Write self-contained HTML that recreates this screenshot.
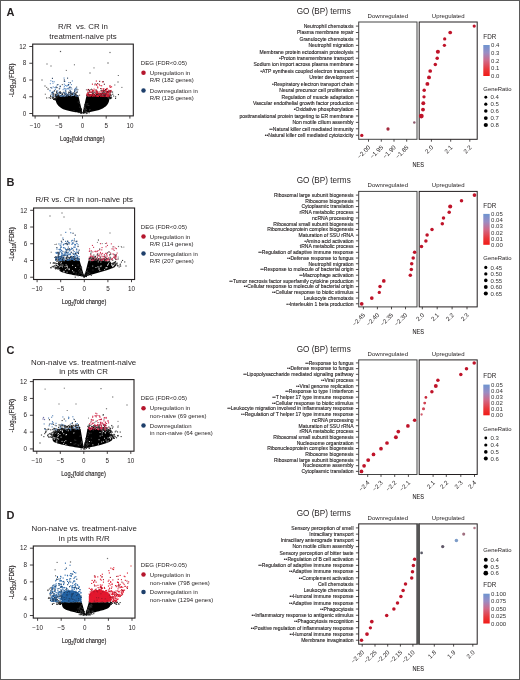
<!DOCTYPE html>
<html><head><meta charset="utf-8"><style>
html,body{margin:0;padding:0;background:#fff;}
body{width:520px;height:680px;overflow:hidden;}
svg{display:block;font-family:"Liberation Sans", sans-serif;will-change:transform;}
</style></head><body>
<svg width="520" height="680" viewBox="0 0 520 680">
<rect x="0" y="0" width="520" height="680" fill="#fff"/>
<text x="6.60" y="16.00" font-size="11.0" text-anchor="start" fill="#231f20" font-weight="bold">A</text>
<text x="83.00" y="28.50" font-size="7.9" text-anchor="middle" fill="#231f20" >R/R  vs. CR in</text>
<text x="83.00" y="38.70" font-size="7.9" text-anchor="middle" fill="#231f20" >treatment-naive pts</text>
<clipPath id="cA"><rect x="32.7" y="44.1" width="100.60000000000001" height="71.80000000000001"/></clipPath>
<g clip-path="url(#cA)">
<polygon fill="#000" points="78.50,96.30 78.37,96.29 78.10,96.28 77.70,96.25 77.17,96.22 76.51,96.18 75.71,96.14 74.78,96.08 73.72,96.02 72.66,95.97 71.62,95.93 70.58,95.90 69.55,95.88 68.52,95.87 67.51,95.87 66.50,95.89 65.50,95.91 64.55,95.95 63.64,96.00 62.78,96.06 61.97,96.14 61.20,96.22 60.48,96.33 59.81,96.44 59.19,96.56 58.62,96.71 58.10,96.88 57.64,97.08 57.23,97.30 56.88,97.54 56.59,97.80 56.34,98.09 56.16,98.41 56.01,98.74 55.90,99.10 55.83,99.48 55.80,99.89 55.80,100.32 55.85,100.77 55.94,101.25 56.06,101.75 56.22,102.24 56.41,102.73 56.62,103.20 56.88,103.67 57.16,104.13 57.47,104.59 57.81,105.03 58.19,105.47 58.59,105.90 59.01,106.31 59.45,106.72 59.92,107.11 60.41,107.49 60.93,107.86 61.47,108.23 62.03,108.57 62.65,108.91 63.32,109.23 64.05,109.53 64.83,109.82 65.66,110.09 66.55,110.35 67.50,110.59 68.50,110.81 69.54,111.04 70.62,111.26 71.73,111.48 72.89,111.70 74.09,111.91 75.32,112.13 76.59,112.34 77.91,112.56 79.05,112.74 80.04,112.90 80.86,113.03 81.52,113.14 82.01,113.22 82.34,113.27 82.50,113.30"/>
<polygon fill="#000" points="86.30,96.40 86.42,96.39 86.66,96.37 87.02,96.34 87.50,96.31 88.10,96.26 88.83,96.20 89.67,96.14 90.63,96.06 91.60,96.00 92.57,95.94 93.55,95.89 94.53,95.86 95.51,95.83 96.50,95.81 97.50,95.80 98.50,95.80 99.45,95.81 100.36,95.83 101.22,95.87 102.03,95.91 102.80,95.96 103.52,96.03 104.19,96.11 104.81,96.19 105.40,96.30 105.94,96.43 106.43,96.58 106.89,96.75 107.30,96.94 107.68,97.15 108.01,97.38 108.29,97.62 108.54,97.90 108.75,98.20 108.91,98.52 109.04,98.86 109.12,99.23 109.17,99.62 109.17,100.03 109.13,100.47 109.06,100.91 108.95,101.37 108.81,101.83 108.64,102.30 108.43,102.77 108.18,103.26 107.91,103.75 107.59,104.25 107.23,104.74 106.83,105.23 106.38,105.70 105.88,106.17 105.33,106.63 104.73,107.09 104.09,107.53 103.41,107.97 102.66,108.39 101.87,108.79 101.02,109.17 100.11,109.53 99.15,109.88 98.13,110.20 97.06,110.51 95.94,110.79 94.80,111.07 93.66,111.33 92.52,111.58 91.36,111.82 90.20,112.04 89.02,112.26 87.84,112.46 86.66,112.64 85.62,112.81 84.73,112.95 83.98,113.07 83.39,113.16 82.95,113.23 82.65,113.28 82.50,113.30"/>
<rect x="60.4" y="95.0" width="1.1" height="1.1" fill="#111"/>
<rect x="58.8" y="94.8" width="1.1" height="1.1" fill="#111"/>
<rect x="70.8" y="92.9" width="1.1" height="1.1" fill="#333"/>
<rect x="53.1" y="94.2" width="1.1" height="1.1" fill="#333"/>
<rect x="56.1" y="97.0" width="1.1" height="1.1" fill="#111"/>
<rect x="73.9" y="94.9" width="1.1" height="1.1" fill="#111"/>
<rect x="69.9" y="94.9" width="1.1" height="1.1" fill="#111"/>
<rect x="55.8" y="96.1" width="1.1" height="1.1" fill="#111"/>
<rect x="70.9" y="94.5" width="1.1" height="1.1" fill="#111"/>
<rect x="48.6" y="97.2" width="1.1" height="1.1" fill="#333"/>
<rect x="50.1" y="97.8" width="1.1" height="1.1" fill="#333"/>
<rect x="57.8" y="94.5" width="1.1" height="1.1" fill="#111"/>
<rect x="56.4" y="94.0" width="1.1" height="1.1" fill="#333"/>
<rect x="46.1" y="97.4" width="1.1" height="1.1" fill="#333"/>
<rect x="66.7" y="95.2" width="1.1" height="1.1" fill="#111"/>
<rect x="63.9" y="92.3" width="1.1" height="1.1" fill="#333"/>
<rect x="56.0" y="92.1" width="1.1" height="1.1" fill="#333"/>
<rect x="57.0" y="93.1" width="1.1" height="1.1" fill="#333"/>
<rect x="75.3" y="93.2" width="1.1" height="1.1" fill="#111"/>
<rect x="87.2" y="103.2" width="1.1" height="1.1" fill="#333"/>
<rect x="63.7" y="95.4" width="1.1" height="1.1" fill="#111"/>
<rect x="66.3" y="94.7" width="1.1" height="1.1" fill="#111"/>
<rect x="55.3" y="97.9" width="1.1" height="1.1" fill="#111"/>
<rect x="56.0" y="96.7" width="1.1" height="1.1" fill="#111"/>
<rect x="51.9" y="92.6" width="1.1" height="1.1" fill="#333"/>
<rect x="89.0" y="109.6" width="1.1" height="1.1" fill="#333"/>
<rect x="83.6" y="111.4" width="1.1" height="1.1" fill="#111"/>
<rect x="83.2" y="110.0" width="1.1" height="1.1" fill="#111"/>
<rect x="56.8" y="92.9" width="1.1" height="1.1" fill="#333"/>
<rect x="57.6" y="93.4" width="1.1" height="1.1" fill="#333"/>
<rect x="84.8" y="107.6" width="1.1" height="1.1" fill="#333"/>
<rect x="62.5" y="94.8" width="1.1" height="1.1" fill="#111"/>
<rect x="53.9" y="98.9" width="1.1" height="1.1" fill="#111"/>
<rect x="66.8" y="95.3" width="1.1" height="1.1" fill="#111"/>
<rect x="84.8" y="111.6" width="1.1" height="1.1" fill="#333"/>
<rect x="67.3" y="93.9" width="1.1" height="1.1" fill="#111"/>
<rect x="65.4" y="93.6" width="1.1" height="1.1" fill="#111"/>
<rect x="59.8" y="91.4" width="1.1" height="1.1" fill="#333"/>
<rect x="75.7" y="91.9" width="1.1" height="1.1" fill="#333"/>
<rect x="61.8" y="93.9" width="1.1" height="1.1" fill="#111"/>
<rect x="56.6" y="95.0" width="1.1" height="1.1" fill="#111"/>
<rect x="53.4" y="98.9" width="1.1" height="1.1" fill="#111"/>
<rect x="55.8" y="93.9" width="1.1" height="1.1" fill="#333"/>
<rect x="84.7" y="108.7" width="1.1" height="1.1" fill="#333"/>
<rect x="50.2" y="96.3" width="1.1" height="1.1" fill="#333"/>
<rect x="83.8" y="106.7" width="1.1" height="1.1" fill="#333"/>
<rect x="54.8" y="99.1" width="1.1" height="1.1" fill="#111"/>
<rect x="52.5" y="97.4" width="1.1" height="1.1" fill="#333"/>
<rect x="69.6" y="95.3" width="1.1" height="1.1" fill="#111"/>
<rect x="75.0" y="93.9" width="1.1" height="1.1" fill="#111"/>
<rect x="66.9" y="94.8" width="1.1" height="1.1" fill="#111"/>
<rect x="74.6" y="93.7" width="1.1" height="1.1" fill="#111"/>
<rect x="61.8" y="92.7" width="1.1" height="1.1" fill="#333"/>
<rect x="83.5" y="111.3" width="1.1" height="1.1" fill="#111"/>
<rect x="88.6" y="112.2" width="1.1" height="1.1" fill="#333"/>
<rect x="84.1" y="106.8" width="1.1" height="1.1" fill="#333"/>
<rect x="86.6" y="104.6" width="1.1" height="1.1" fill="#333"/>
<rect x="59.3" y="91.5" width="1.1" height="1.1" fill="#333"/>
<rect x="50.0" y="95.7" width="1.1" height="1.1" fill="#333"/>
<rect x="55.2" y="95.0" width="1.1" height="1.1" fill="#111"/>
<rect x="68.0" y="92.8" width="1.1" height="1.1" fill="#333"/>
<rect x="83.2" y="112.5" width="1.1" height="1.1" fill="#111"/>
<rect x="54.9" y="97.5" width="1.1" height="1.1" fill="#111"/>
<rect x="69.5" y="91.8" width="1.1" height="1.1" fill="#333"/>
<rect x="54.6" y="95.7" width="1.1" height="1.1" fill="#111"/>
<rect x="53.1" y="97.1" width="1.1" height="1.1" fill="#333"/>
<rect x="85.7" y="113.0" width="1.1" height="1.1" fill="#333"/>
<rect x="51.9" y="96.7" width="1.1" height="1.1" fill="#333"/>
<rect x="60.9" y="95.4" width="1.1" height="1.1" fill="#111"/>
<rect x="57.3" y="96.2" width="1.1" height="1.1" fill="#111"/>
<rect x="61.2" y="94.7" width="1.1" height="1.1" fill="#111"/>
<rect x="84.1" y="104.2" width="1.1" height="1.1" fill="#333"/>
<rect x="85.6" y="103.4" width="1.1" height="1.1" fill="#333"/>
<rect x="57.7" y="95.9" width="1.1" height="1.1" fill="#111"/>
<rect x="62.4" y="95.3" width="1.1" height="1.1" fill="#111"/>
<rect x="83.4" y="112.5" width="1.1" height="1.1" fill="#111"/>
<rect x="55.7" y="95.8" width="1.1" height="1.1" fill="#111"/>
<rect x="85.9" y="108.8" width="1.1" height="1.1" fill="#333"/>
<rect x="83.3" y="112.0" width="1.1" height="1.1" fill="#111"/>
<rect x="70.0" y="93.0" width="1.1" height="1.1" fill="#111"/>
<rect x="68.8" y="91.8" width="1.1" height="1.1" fill="#333"/>
<rect x="86.5" y="112.9" width="1.1" height="1.1" fill="#333"/>
<rect x="75.5" y="94.3" width="1.1" height="1.1" fill="#111"/>
<rect x="52.2" y="94.3" width="1.1" height="1.1" fill="#333"/>
<rect x="56.6" y="96.7" width="1.1" height="1.1" fill="#111"/>
<rect x="65.8" y="92.8" width="1.1" height="1.1" fill="#333"/>
<rect x="53.9" y="98.7" width="1.1" height="1.1" fill="#111"/>
<rect x="61.8" y="95.5" width="1.1" height="1.1" fill="#111"/>
<rect x="56.6" y="95.6" width="1.1" height="1.1" fill="#111"/>
<rect x="54.2" y="98.2" width="1.1" height="1.1" fill="#111"/>
<rect x="61.2" y="95.1" width="1.1" height="1.1" fill="#111"/>
<rect x="84.3" y="111.0" width="1.1" height="1.1" fill="#333"/>
<rect x="66.4" y="94.5" width="1.1" height="1.1" fill="#111"/>
<rect x="59.1" y="92.9" width="1.1" height="1.1" fill="#333"/>
<rect x="54.5" y="98.7" width="1.1" height="1.1" fill="#111"/>
<rect x="73.6" y="92.5" width="1.1" height="1.1" fill="#333"/>
<rect x="66.2" y="94.1" width="1.1" height="1.1" fill="#111"/>
<rect x="53.1" y="93.1" width="1.1" height="1.1" fill="#333"/>
<rect x="71.6" y="94.0" width="1.1" height="1.1" fill="#111"/>
<rect x="56.7" y="94.7" width="1.1" height="1.1" fill="#111"/>
<rect x="59.1" y="95.9" width="1.1" height="1.1" fill="#111"/>
<rect x="84.0" y="109.5" width="1.1" height="1.1" fill="#333"/>
<rect x="72.0" y="94.1" width="1.1" height="1.1" fill="#111"/>
<rect x="72.7" y="93.3" width="1.1" height="1.1" fill="#111"/>
<rect x="55.2" y="98.6" width="1.1" height="1.1" fill="#111"/>
<rect x="89.5" y="109.0" width="1.1" height="1.1" fill="#333"/>
<rect x="84.4" y="105.5" width="1.1" height="1.1" fill="#333"/>
<rect x="86.0" y="110.9" width="1.1" height="1.1" fill="#333"/>
<rect x="67.5" y="95.2" width="1.1" height="1.1" fill="#111"/>
<rect x="73.8" y="93.2" width="1.1" height="1.1" fill="#111"/>
<rect x="72.8" y="92.4" width="1.1" height="1.1" fill="#333"/>
<rect x="64.2" y="92.8" width="1.1" height="1.1" fill="#333"/>
<rect x="61.6" y="94.6" width="1.1" height="1.1" fill="#111"/>
<rect x="72.5" y="93.3" width="1.1" height="1.1" fill="#111"/>
<rect x="55.2" y="99.3" width="1.1" height="1.1" fill="#111"/>
<rect x="59.1" y="91.9" width="1.1" height="1.1" fill="#333"/>
<rect x="68.6" y="94.1" width="1.1" height="1.1" fill="#111"/>
<rect x="58.0" y="95.6" width="1.1" height="1.1" fill="#111"/>
<rect x="84.1" y="111.3" width="1.1" height="1.1" fill="#111"/>
<rect x="52.4" y="97.5" width="1.1" height="1.1" fill="#333"/>
<rect x="63.0" y="91.8" width="1.1" height="1.1" fill="#333"/>
<rect x="71.9" y="92.7" width="1.1" height="1.1" fill="#333"/>
<rect x="64.9" y="92.6" width="1.1" height="1.1" fill="#333"/>
<rect x="57.3" y="96.3" width="1.1" height="1.1" fill="#111"/>
<rect x="88.2" y="104.9" width="1.1" height="1.1" fill="#333"/>
<rect x="54.9" y="93.8" width="1.1" height="1.1" fill="#333"/>
<rect x="77.3" y="95.1" width="1.1" height="1.1" fill="#111"/>
<rect x="76.2" y="95.3" width="1.1" height="1.1" fill="#111"/>
<rect x="70.3" y="94.2" width="1.1" height="1.1" fill="#111"/>
<rect x="54.7" y="94.4" width="1.1" height="1.1" fill="#333"/>
<rect x="52.4" y="97.8" width="1.1" height="1.1" fill="#333"/>
<rect x="76.9" y="95.0" width="1.1" height="1.1" fill="#111"/>
<rect x="51.8" y="96.2" width="1.1" height="1.1" fill="#333"/>
<rect x="84.7" y="110.5" width="1.1" height="1.1" fill="#333"/>
<rect x="68.1" y="91.7" width="1.1" height="1.1" fill="#333"/>
<rect x="58.2" y="95.3" width="1.1" height="1.1" fill="#111"/>
<rect x="83.8" y="110.7" width="1.1" height="1.1" fill="#111"/>
<rect x="53.2" y="98.9" width="1.1" height="1.1" fill="#111"/>
<rect x="54.5" y="99.2" width="1.1" height="1.1" fill="#111"/>
<rect x="59.9" y="95.0" width="1.1" height="1.1" fill="#111"/>
<rect x="80.6" y="112.6" width="1.1" height="1.1" fill="#111"/>
<rect x="73.4" y="110.3" width="1.1" height="1.1" fill="#333"/>
<rect x="81.0" y="109.3" width="1.1" height="1.1" fill="#111"/>
<rect x="105.5" y="92.8" width="1.1" height="1.1" fill="#333"/>
<rect x="88.5" y="95.3" width="1.1" height="1.1" fill="#111"/>
<rect x="93.2" y="93.8" width="1.1" height="1.1" fill="#111"/>
<rect x="110.3" y="94.4" width="1.1" height="1.1" fill="#333"/>
<rect x="99.9" y="92.8" width="1.1" height="1.1" fill="#111"/>
<rect x="109.4" y="92.2" width="1.1" height="1.1" fill="#333"/>
<rect x="80.7" y="111.0" width="1.1" height="1.1" fill="#111"/>
<rect x="109.3" y="93.2" width="1.1" height="1.1" fill="#333"/>
<rect x="93.3" y="94.2" width="1.1" height="1.1" fill="#111"/>
<rect x="107.8" y="91.4" width="1.1" height="1.1" fill="#333"/>
<rect x="91.2" y="91.8" width="1.1" height="1.1" fill="#333"/>
<rect x="88.8" y="94.7" width="1.1" height="1.1" fill="#111"/>
<rect x="107.9" y="95.6" width="1.1" height="1.1" fill="#111"/>
<rect x="96.4" y="94.0" width="1.1" height="1.1" fill="#111"/>
<rect x="109.1" y="98.2" width="1.1" height="1.1" fill="#111"/>
<rect x="107.6" y="96.7" width="1.1" height="1.1" fill="#111"/>
<rect x="92.4" y="94.1" width="1.1" height="1.1" fill="#111"/>
<rect x="105.2" y="93.5" width="1.1" height="1.1" fill="#111"/>
<rect x="97.8" y="93.0" width="1.1" height="1.1" fill="#111"/>
<rect x="79.9" y="112.4" width="1.1" height="1.1" fill="#111"/>
<rect x="92.4" y="94.7" width="1.1" height="1.1" fill="#111"/>
<rect x="79.5" y="111.5" width="1.1" height="1.1" fill="#333"/>
<rect x="105.2" y="94.6" width="1.1" height="1.1" fill="#111"/>
<rect x="95.9" y="94.1" width="1.1" height="1.1" fill="#111"/>
<rect x="80.4" y="108.2" width="1.1" height="1.1" fill="#111"/>
<rect x="107.7" y="94.4" width="1.1" height="1.1" fill="#111"/>
<rect x="108.9" y="96.9" width="1.1" height="1.1" fill="#111"/>
<rect x="100.8" y="93.8" width="1.1" height="1.1" fill="#111"/>
<rect x="92.4" y="93.3" width="1.1" height="1.1" fill="#111"/>
<rect x="110.8" y="95.4" width="1.1" height="1.1" fill="#333"/>
<rect x="87.7" y="94.3" width="1.1" height="1.1" fill="#111"/>
<rect x="86.9" y="95.5" width="1.1" height="1.1" fill="#111"/>
<rect x="110.2" y="97.8" width="1.1" height="1.1" fill="#111"/>
<rect x="89.6" y="94.0" width="1.1" height="1.1" fill="#111"/>
<rect x="115.1" y="96.3" width="1.1" height="1.1" fill="#333"/>
<rect x="98.1" y="94.8" width="1.1" height="1.1" fill="#111"/>
<rect x="92.6" y="93.4" width="1.1" height="1.1" fill="#111"/>
<rect x="86.1" y="95.2" width="1.1" height="1.1" fill="#111"/>
<rect x="109.5" y="94.8" width="1.1" height="1.1" fill="#333"/>
<rect x="98.1" y="94.7" width="1.1" height="1.1" fill="#111"/>
<rect x="110.0" y="94.2" width="1.1" height="1.1" fill="#333"/>
<rect x="90.9" y="95.4" width="1.1" height="1.1" fill="#111"/>
<rect x="99.5" y="95.2" width="1.1" height="1.1" fill="#111"/>
<rect x="105.2" y="91.3" width="1.1" height="1.1" fill="#333"/>
<rect x="102.4" y="95.2" width="1.1" height="1.1" fill="#111"/>
<rect x="97.3" y="91.6" width="1.1" height="1.1" fill="#333"/>
<rect x="110.4" y="97.2" width="1.1" height="1.1" fill="#111"/>
<rect x="92.0" y="95.3" width="1.1" height="1.1" fill="#111"/>
<rect x="79.3" y="106.6" width="1.1" height="1.1" fill="#333"/>
<rect x="92.1" y="95.1" width="1.1" height="1.1" fill="#111"/>
<rect x="92.4" y="91.3" width="1.1" height="1.1" fill="#333"/>
<rect x="101.7" y="95.1" width="1.1" height="1.1" fill="#111"/>
<rect x="105.4" y="94.1" width="1.1" height="1.1" fill="#111"/>
<rect x="103.3" y="91.3" width="1.1" height="1.1" fill="#333"/>
<rect x="97.6" y="94.5" width="1.1" height="1.1" fill="#111"/>
<rect x="100.7" y="94.6" width="1.1" height="1.1" fill="#111"/>
<rect x="105.7" y="94.0" width="1.1" height="1.1" fill="#111"/>
<rect x="94.0" y="91.6" width="1.1" height="1.1" fill="#333"/>
<rect x="112.2" y="93.7" width="1.1" height="1.1" fill="#333"/>
<rect x="104.0" y="92.3" width="1.1" height="1.1" fill="#333"/>
<rect x="103.2" y="95.4" width="1.1" height="1.1" fill="#111"/>
<rect x="87.7" y="93.8" width="1.1" height="1.1" fill="#111"/>
<rect x="77.8" y="112.0" width="1.1" height="1.1" fill="#333"/>
<rect x="89.3" y="93.8" width="1.1" height="1.1" fill="#111"/>
<rect x="99.9" y="94.1" width="1.1" height="1.1" fill="#111"/>
<rect x="95.6" y="94.8" width="1.1" height="1.1" fill="#111"/>
<rect x="109.8" y="96.9" width="1.1" height="1.1" fill="#111"/>
<rect x="96.8" y="92.3" width="1.1" height="1.1" fill="#333"/>
<rect x="80.7" y="108.7" width="1.1" height="1.1" fill="#111"/>
<rect x="110.0" y="98.0" width="1.1" height="1.1" fill="#111"/>
<rect x="115.0" y="97.9" width="1.1" height="1.1" fill="#333"/>
<rect x="99.2" y="94.5" width="1.1" height="1.1" fill="#111"/>
<rect x="94.9" y="94.8" width="1.1" height="1.1" fill="#111"/>
<rect x="77.7" y="101.5" width="1.1" height="1.1" fill="#333"/>
<rect x="98.7" y="94.4" width="1.1" height="1.1" fill="#111"/>
<rect x="111.0" y="97.2" width="1.1" height="1.1" fill="#333"/>
<rect x="80.4" y="108.9" width="1.1" height="1.1" fill="#111"/>
<rect x="108.5" y="95.1" width="1.1" height="1.1" fill="#111"/>
<rect x="90.7" y="94.4" width="1.1" height="1.1" fill="#111"/>
<rect x="102.2" y="92.4" width="1.1" height="1.1" fill="#333"/>
<rect x="117.9" y="94.0" width="1.1" height="1.1" fill="#333"/>
<rect x="81.2" y="112.3" width="1.1" height="1.1" fill="#111"/>
<rect x="92.0" y="91.3" width="1.1" height="1.1" fill="#333"/>
<rect x="105.2" y="94.5" width="1.1" height="1.1" fill="#111"/>
<rect x="113.1" y="95.5" width="1.1" height="1.1" fill="#333"/>
<rect x="104.4" y="93.9" width="1.1" height="1.1" fill="#111"/>
<rect x="94.1" y="95.2" width="1.1" height="1.1" fill="#111"/>
<rect x="109.1" y="95.8" width="1.1" height="1.1" fill="#111"/>
<rect x="103.2" y="91.3" width="1.1" height="1.1" fill="#333"/>
<rect x="81.4" y="112.2" width="1.1" height="1.1" fill="#111"/>
<rect x="104.6" y="94.7" width="1.1" height="1.1" fill="#111"/>
<rect x="98.4" y="93.1" width="1.1" height="1.1" fill="#111"/>
<rect x="86.5" y="94.3" width="1.1" height="1.1" fill="#111"/>
<rect x="95.7" y="92.7" width="1.1" height="1.1" fill="#333"/>
<rect x="108.9" y="94.4" width="1.1" height="1.1" fill="#333"/>
<rect x="102.6" y="93.4" width="1.1" height="1.1" fill="#111"/>
<rect x="107.4" y="96.6" width="1.1" height="1.1" fill="#111"/>
<rect x="108.4" y="96.7" width="1.1" height="1.1" fill="#111"/>
<rect x="109.3" y="97.7" width="1.1" height="1.1" fill="#111"/>
<rect x="95.1" y="92.5" width="1.1" height="1.1" fill="#333"/>
<rect x="93.8" y="93.9" width="1.1" height="1.1" fill="#111"/>
<rect x="108.6" y="95.8" width="1.1" height="1.1" fill="#111"/>
<rect x="112.0" y="91.5" width="1.1" height="1.1" fill="#333"/>
<rect x="96.1" y="94.0" width="1.1" height="1.1" fill="#111"/>
<rect x="102.4" y="93.2" width="1.1" height="1.1" fill="#111"/>
<rect x="99.3" y="93.8" width="1.1" height="1.1" fill="#111"/>
<rect x="78.9" y="102.6" width="1.1" height="1.1" fill="#333"/>
<rect x="56.3" y="90.7" width="1.1" height="1.1" fill="#6592c6"/>
<rect x="67.9" y="84.8" width="1.1" height="1.1" fill="#6592c6"/>
<rect x="57.5" y="92.5" width="1.1" height="1.1" fill="#6592c6"/>
<rect x="59.7" y="85.5" width="1.1" height="1.1" fill="#6592c6"/>
<rect x="75.0" y="87.9" width="1.1" height="1.1" fill="#6592c6"/>
<rect x="56.5" y="84.6" width="1.1" height="1.1" fill="#6592c6"/>
<rect x="76.4" y="90.4" width="1.1" height="1.1" fill="#6592c6"/>
<rect x="56.5" y="94.4" width="1.1" height="1.1" fill="#6592c6"/>
<rect x="73.1" y="92.7" width="1.1" height="1.1" fill="#6592c6"/>
<rect x="73.8" y="93.6" width="1.1" height="1.1" fill="#6592c6"/>
<rect x="67.4" y="87.9" width="1.1" height="1.1" fill="#6592c6"/>
<rect x="50.7" y="93.7" width="1.1" height="1.1" fill="#6592c6"/>
<rect x="62.3" y="95.4" width="1.1" height="1.1" fill="#6592c6"/>
<rect x="64.8" y="89.9" width="1.1" height="1.1" fill="#6592c6"/>
<rect x="70.6" y="95.3" width="1.1" height="1.1" fill="#6592c6"/>
<rect x="71.5" y="94.8" width="1.1" height="1.1" fill="#6592c6"/>
<rect x="66.8" y="88.2" width="1.1" height="1.1" fill="#6592c6"/>
<rect x="50.3" y="80.2" width="1.1" height="1.1" fill="#6592c6"/>
<rect x="59.8" y="92.6" width="1.1" height="1.1" fill="#6592c6"/>
<rect x="63.8" y="83.7" width="1.1" height="1.1" fill="#6592c6"/>
<rect x="52.5" y="93.3" width="1.1" height="1.1" fill="#6592c6"/>
<rect x="59.4" y="87.5" width="1.1" height="1.1" fill="#6592c6"/>
<rect x="71.1" y="92.8" width="1.1" height="1.1" fill="#6592c6"/>
<rect x="52.2" y="95.5" width="1.1" height="1.1" fill="#6592c6"/>
<rect x="65.2" y="93.1" width="1.1" height="1.1" fill="#6592c6"/>
<rect x="63.7" y="91.8" width="1.1" height="1.1" fill="#6592c6"/>
<rect x="55.2" y="87.4" width="1.1" height="1.1" fill="#6592c6"/>
<rect x="66.1" y="85.5" width="1.1" height="1.1" fill="#6592c6"/>
<rect x="49.4" y="89.8" width="1.1" height="1.1" fill="#6592c6"/>
<rect x="67.7" y="84.8" width="1.1" height="1.1" fill="#6592c6"/>
<rect x="54.8" y="89.0" width="1.1" height="1.1" fill="#6592c6"/>
<rect x="51.3" y="92.3" width="1.1" height="1.1" fill="#6592c6"/>
<rect x="68.7" y="94.4" width="1.1" height="1.1" fill="#6592c6"/>
<rect x="64.3" y="80.8" width="1.1" height="1.1" fill="#6592c6"/>
<rect x="70.3" y="91.5" width="1.1" height="1.1" fill="#6592c6"/>
<rect x="62.6" y="89.1" width="1.1" height="1.1" fill="#6592c6"/>
<rect x="67.8" y="84.1" width="1.1" height="1.1" fill="#6592c6"/>
<rect x="64.4" y="95.1" width="1.1" height="1.1" fill="#6592c6"/>
<rect x="52.9" y="92.5" width="1.1" height="1.1" fill="#6592c6"/>
<rect x="55.3" y="86.6" width="1.1" height="1.1" fill="#6592c6"/>
<rect x="63.6" y="87.7" width="1.1" height="1.1" fill="#6592c6"/>
<rect x="66.4" y="93.9" width="1.1" height="1.1" fill="#6592c6"/>
<rect x="63.9" y="88.2" width="1.1" height="1.1" fill="#6592c6"/>
<rect x="59.2" y="94.9" width="1.1" height="1.1" fill="#6592c6"/>
<rect x="49.5" y="90.4" width="1.1" height="1.1" fill="#6592c6"/>
<rect x="52.1" y="80.9" width="1.1" height="1.1" fill="#6592c6"/>
<rect x="62.8" y="95.2" width="1.1" height="1.1" fill="#6592c6"/>
<rect x="64.9" y="84.9" width="1.1" height="1.1" fill="#6592c6"/>
<rect x="65.2" y="92.0" width="1.1" height="1.1" fill="#6592c6"/>
<rect x="69.5" y="86.2" width="1.1" height="1.1" fill="#6592c6"/>
<rect x="57.2" y="90.2" width="1.1" height="1.1" fill="#6592c6"/>
<rect x="74.2" y="89.8" width="1.1" height="1.1" fill="#6592c6"/>
<rect x="75.7" y="87.3" width="1.1" height="1.1" fill="#6592c6"/>
<rect x="56.9" y="93.9" width="1.1" height="1.1" fill="#6592c6"/>
<rect x="65.2" y="88.2" width="1.1" height="1.1" fill="#6592c6"/>
<rect x="61.4" y="95.3" width="1.1" height="1.1" fill="#6592c6"/>
<rect x="56.0" y="94.4" width="1.1" height="1.1" fill="#6592c6"/>
<rect x="61.6" y="94.9" width="1.1" height="1.1" fill="#6592c6"/>
<rect x="51.5" y="91.9" width="1.1" height="1.1" fill="#6592c6"/>
<rect x="76.4" y="88.5" width="1.1" height="1.1" fill="#6592c6"/>
<rect x="65.4" y="88.7" width="1.1" height="1.1" fill="#6592c6"/>
<rect x="49.8" y="83.1" width="1.1" height="1.1" fill="#6592c6"/>
<rect x="70.3" y="91.2" width="1.1" height="1.1" fill="#6592c6"/>
<rect x="64.3" y="95.9" width="1.1" height="1.1" fill="#6592c6"/>
<rect x="59.8" y="95.5" width="1.1" height="1.1" fill="#6592c6"/>
<rect x="74.2" y="88.7" width="1.1" height="1.1" fill="#6592c6"/>
<rect x="63.2" y="92.5" width="1.1" height="1.1" fill="#6592c6"/>
<rect x="65.6" y="93.5" width="1.1" height="1.1" fill="#6592c6"/>
<rect x="73.3" y="94.2" width="1.1" height="1.1" fill="#6592c6"/>
<rect x="77.0" y="95.9" width="1.1" height="1.1" fill="#6592c6"/>
<rect x="75.2" y="90.2" width="1.1" height="1.1" fill="#6592c6"/>
<rect x="51.2" y="87.7" width="1.1" height="1.1" fill="#6592c6"/>
<rect x="67.9" y="88.3" width="1.1" height="1.1" fill="#6592c6"/>
<rect x="63.5" y="77.5" width="1.1" height="1.1" fill="#6592c6"/>
<rect x="68.5" y="93.2" width="1.1" height="1.1" fill="#6592c6"/>
<rect x="71.3" y="88.5" width="1.1" height="1.1" fill="#6592c6"/>
<rect x="66.8" y="95.1" width="1.1" height="1.1" fill="#6592c6"/>
<rect x="74.1" y="91.4" width="1.1" height="1.1" fill="#6592c6"/>
<rect x="52.7" y="91.5" width="1.1" height="1.1" fill="#6592c6"/>
<rect x="53.6" y="81.2" width="1.1" height="1.1" fill="#6592c6"/>
<rect x="52.7" y="95.3" width="1.1" height="1.1" fill="#6592c6"/>
<rect x="52.7" y="86.4" width="1.1" height="1.1" fill="#6592c6"/>
<rect x="71.8" y="80.4" width="1.1" height="1.1" fill="#6592c6"/>
<rect x="69.4" y="88.6" width="1.1" height="1.1" fill="#6592c6"/>
<rect x="70.9" y="84.0" width="1.1" height="1.1" fill="#6592c6"/>
<rect x="70.3" y="93.3" width="1.1" height="1.1" fill="#6592c6"/>
<rect x="65.1" y="90.2" width="1.1" height="1.1" fill="#6592c6"/>
<rect x="67.2" y="93.9" width="1.1" height="1.1" fill="#6592c6"/>
<rect x="66.7" y="85.1" width="1.1" height="1.1" fill="#6592c6"/>
<rect x="52.3" y="91.5" width="1.1" height="1.1" fill="#6592c6"/>
<rect x="68.2" y="82.0" width="1.1" height="1.1" fill="#6592c6"/>
<rect x="69.1" y="86.7" width="1.1" height="1.1" fill="#6592c6"/>
<rect x="60.7" y="95.7" width="1.1" height="1.1" fill="#6592c6"/>
<rect x="54.3" y="87.0" width="1.1" height="1.1" fill="#6592c6"/>
<rect x="76.2" y="94.8" width="1.1" height="1.1" fill="#6592c6"/>
<rect x="73.0" y="94.7" width="1.1" height="1.1" fill="#6592c6"/>
<rect x="59.0" y="93.1" width="1.1" height="1.1" fill="#6592c6"/>
<rect x="57.6" y="92.0" width="1.1" height="1.1" fill="#6592c6"/>
<rect x="63.8" y="85.8" width="1.1" height="1.1" fill="#6592c6"/>
<rect x="52.4" y="82.7" width="1.1" height="1.1" fill="#6592c6"/>
<rect x="67.0" y="94.3" width="1.1" height="1.1" fill="#2a3f5e"/>
<rect x="51.9" y="77.8" width="1.1" height="1.1" fill="#2a3f5e"/>
<rect x="62.4" y="96.0" width="1.1" height="1.1" fill="#2a3f5e"/>
<rect x="56.2" y="91.1" width="1.1" height="1.1" fill="#2a3f5e"/>
<rect x="76.9" y="91.5" width="1.1" height="1.1" fill="#2a3f5e"/>
<rect x="76.5" y="95.5" width="1.1" height="1.1" fill="#2a3f5e"/>
<rect x="65.8" y="95.4" width="1.1" height="1.1" fill="#2a3f5e"/>
<rect x="67.8" y="94.8" width="1.1" height="1.1" fill="#2a3f5e"/>
<rect x="70.3" y="91.7" width="1.1" height="1.1" fill="#2a3f5e"/>
<rect x="71.2" y="93.3" width="1.1" height="1.1" fill="#2a3f5e"/>
<rect x="63.8" y="79.4" width="1.1" height="1.1" fill="#2a3f5e"/>
<rect x="60.0" y="92.7" width="1.1" height="1.1" fill="#2a3f5e"/>
<rect x="51.8" y="91.9" width="1.1" height="1.1" fill="#2a3f5e"/>
<rect x="53.0" y="95.5" width="1.1" height="1.1" fill="#2a3f5e"/>
<rect x="69.8" y="82.2" width="1.1" height="1.1" fill="#2a3f5e"/>
<rect x="59.7" y="85.9" width="1.1" height="1.1" fill="#2a3f5e"/>
<rect x="70.4" y="87.1" width="1.1" height="1.1" fill="#2a3f5e"/>
<rect x="68.7" y="87.2" width="1.1" height="1.1" fill="#2a3f5e"/>
<rect x="56.3" y="94.4" width="1.1" height="1.1" fill="#2a3f5e"/>
<rect x="76.1" y="95.6" width="1.1" height="1.1" fill="#2a3f5e"/>
<rect x="76.7" y="95.5" width="1.1" height="1.1" fill="#2a3f5e"/>
<rect x="50.4" y="87.0" width="1.1" height="1.1" fill="#2a3f5e"/>
<rect x="70.0" y="91.2" width="1.1" height="1.1" fill="#2a3f5e"/>
<rect x="54.9" y="96.0" width="1.1" height="1.1" fill="#2a3f5e"/>
<rect x="75.3" y="94.9" width="1.1" height="1.1" fill="#2a3f5e"/>
<rect x="63.8" y="80.8" width="1.1" height="1.1" fill="#2a3f5e"/>
<rect x="68.1" y="84.0" width="1.1" height="1.1" fill="#2a3f5e"/>
<rect x="74.7" y="94.6" width="1.1" height="1.1" fill="#2a3f5e"/>
<rect x="64.4" y="94.4" width="1.1" height="1.1" fill="#2a3f5e"/>
<rect x="74.1" y="89.5" width="1.1" height="1.1" fill="#2a3f5e"/>
<rect x="66.8" y="95.5" width="1.1" height="1.1" fill="#2a3f5e"/>
<rect x="53.6" y="90.7" width="1.1" height="1.1" fill="#2a3f5e"/>
<rect x="69.7" y="92.1" width="1.1" height="1.1" fill="#2a3f5e"/>
<rect x="60.5" y="92.5" width="1.1" height="1.1" fill="#2a3f5e"/>
<rect x="70.8" y="93.1" width="1.1" height="1.1" fill="#2a3f5e"/>
<rect x="64.5" y="93.9" width="1.1" height="1.1" fill="#2a3f5e"/>
<rect x="58.8" y="88.3" width="1.1" height="1.1" fill="#2a3f5e"/>
<rect x="75.5" y="88.7" width="1.1" height="1.1" fill="#2a3f5e"/>
<rect x="60.1" y="92.2" width="1.1" height="1.1" fill="#2a3f5e"/>
<rect x="65.3" y="90.7" width="1.1" height="1.1" fill="#2a3f5e"/>
<rect x="74.0" y="91.1" width="1.1" height="1.1" fill="#2a3f5e"/>
<rect x="57.3" y="84.0" width="1.1" height="1.1" fill="#2a3f5e"/>
<rect x="69.5" y="90.0" width="1.1" height="1.1" fill="#2a3f5e"/>
<rect x="55.8" y="86.6" width="1.1" height="1.1" fill="#2a3f5e"/>
<rect x="67.0" y="77.6" width="1.1" height="1.1" fill="#2a3f5e"/>
<rect x="109.2" y="85.5" width="1.1" height="1.1" fill="#d2182f"/>
<rect x="89.8" y="94.9" width="1.1" height="1.1" fill="#d2182f"/>
<rect x="95.4" y="95.7" width="1.1" height="1.1" fill="#d2182f"/>
<rect x="93.7" y="95.2" width="1.1" height="1.1" fill="#d2182f"/>
<rect x="87.3" y="94.5" width="1.1" height="1.1" fill="#d2182f"/>
<rect x="87.8" y="88.9" width="1.1" height="1.1" fill="#d2182f"/>
<rect x="109.6" y="85.5" width="1.1" height="1.1" fill="#d2182f"/>
<rect x="105.8" y="89.0" width="1.1" height="1.1" fill="#d2182f"/>
<rect x="91.9" y="90.6" width="1.1" height="1.1" fill="#d2182f"/>
<rect x="110.5" y="89.9" width="1.1" height="1.1" fill="#d2182f"/>
<rect x="89.1" y="90.7" width="1.1" height="1.1" fill="#d2182f"/>
<rect x="105.9" y="91.2" width="1.1" height="1.1" fill="#d2182f"/>
<rect x="103.4" y="95.8" width="1.1" height="1.1" fill="#d2182f"/>
<rect x="88.7" y="91.8" width="1.1" height="1.1" fill="#d2182f"/>
<rect x="102.7" y="90.5" width="1.1" height="1.1" fill="#d2182f"/>
<rect x="107.9" y="92.3" width="1.1" height="1.1" fill="#d2182f"/>
<rect x="108.4" y="96.0" width="1.1" height="1.1" fill="#d2182f"/>
<rect x="100.7" y="89.8" width="1.1" height="1.1" fill="#d2182f"/>
<rect x="106.7" y="91.3" width="1.1" height="1.1" fill="#d2182f"/>
<rect x="98.2" y="94.7" width="1.1" height="1.1" fill="#d2182f"/>
<rect x="100.0" y="93.6" width="1.1" height="1.1" fill="#d2182f"/>
<rect x="105.7" y="95.3" width="1.1" height="1.1" fill="#d2182f"/>
<rect x="104.3" y="93.0" width="1.1" height="1.1" fill="#d2182f"/>
<rect x="101.4" y="95.6" width="1.1" height="1.1" fill="#d2182f"/>
<rect x="101.6" y="93.0" width="1.1" height="1.1" fill="#d2182f"/>
<rect x="100.5" y="91.1" width="1.1" height="1.1" fill="#d2182f"/>
<rect x="96.6" y="95.9" width="1.1" height="1.1" fill="#d2182f"/>
<rect x="101.9" y="81.3" width="1.1" height="1.1" fill="#d2182f"/>
<rect x="105.8" y="88.3" width="1.1" height="1.1" fill="#d2182f"/>
<rect x="90.9" y="94.1" width="1.1" height="1.1" fill="#d2182f"/>
<rect x="102.6" y="94.2" width="1.1" height="1.1" fill="#d2182f"/>
<rect x="101.0" y="94.7" width="1.1" height="1.1" fill="#d2182f"/>
<rect x="98.4" y="92.7" width="1.1" height="1.1" fill="#d2182f"/>
<rect x="88.2" y="95.6" width="1.1" height="1.1" fill="#d2182f"/>
<rect x="99.0" y="94.5" width="1.1" height="1.1" fill="#d2182f"/>
<rect x="101.2" y="90.2" width="1.1" height="1.1" fill="#d2182f"/>
<rect x="106.6" y="87.9" width="1.1" height="1.1" fill="#d2182f"/>
<rect x="95.5" y="93.2" width="1.1" height="1.1" fill="#d2182f"/>
<rect x="96.4" y="90.4" width="1.1" height="1.1" fill="#d2182f"/>
<rect x="103.2" y="91.1" width="1.1" height="1.1" fill="#d2182f"/>
<rect x="97.1" y="93.8" width="1.1" height="1.1" fill="#d2182f"/>
<rect x="104.3" y="96.0" width="1.1" height="1.1" fill="#d2182f"/>
<rect x="95.7" y="91.1" width="1.1" height="1.1" fill="#d2182f"/>
<rect x="95.7" y="95.3" width="1.1" height="1.1" fill="#d2182f"/>
<rect x="109.7" y="86.9" width="1.1" height="1.1" fill="#d2182f"/>
<rect x="86.4" y="93.5" width="1.1" height="1.1" fill="#d2182f"/>
<rect x="102.9" y="95.8" width="1.1" height="1.1" fill="#d2182f"/>
<rect x="107.5" y="92.9" width="1.1" height="1.1" fill="#d2182f"/>
<rect x="108.1" y="90.6" width="1.1" height="1.1" fill="#d2182f"/>
<rect x="96.7" y="92.4" width="1.1" height="1.1" fill="#d2182f"/>
<rect x="105.8" y="94.1" width="1.1" height="1.1" fill="#d2182f"/>
<rect x="90.0" y="94.4" width="1.1" height="1.1" fill="#d2182f"/>
<rect x="89.3" y="89.7" width="1.1" height="1.1" fill="#d2182f"/>
<rect x="105.5" y="91.2" width="1.1" height="1.1" fill="#d2182f"/>
<rect x="87.3" y="89.5" width="1.1" height="1.1" fill="#d2182f"/>
<rect x="99.4" y="85.0" width="1.1" height="1.1" fill="#d2182f"/>
<rect x="92.7" y="95.6" width="1.1" height="1.1" fill="#d2182f"/>
<rect x="93.5" y="93.4" width="1.1" height="1.1" fill="#d2182f"/>
<rect x="109.7" y="90.5" width="1.1" height="1.1" fill="#d2182f"/>
<rect x="98.7" y="91.4" width="1.1" height="1.1" fill="#d2182f"/>
<rect x="89.4" y="91.6" width="1.1" height="1.1" fill="#d2182f"/>
<rect x="105.1" y="95.9" width="1.1" height="1.1" fill="#d2182f"/>
<rect x="86.9" y="93.6" width="1.1" height="1.1" fill="#d2182f"/>
<rect x="106.2" y="91.8" width="1.1" height="1.1" fill="#d2182f"/>
<rect x="89.7" y="95.6" width="1.1" height="1.1" fill="#d2182f"/>
<rect x="110.4" y="90.9" width="1.1" height="1.1" fill="#d2182f"/>
<rect x="96.8" y="91.5" width="1.1" height="1.1" fill="#d2182f"/>
<rect x="98.7" y="83.8" width="1.1" height="1.1" fill="#d2182f"/>
<rect x="95.8" y="91.6" width="1.1" height="1.1" fill="#d2182f"/>
<rect x="100.8" y="92.6" width="1.1" height="1.1" fill="#d2182f"/>
<rect x="97.2" y="87.3" width="1.1" height="1.1" fill="#d2182f"/>
<rect x="93.0" y="94.0" width="1.1" height="1.1" fill="#d2182f"/>
<rect x="94.3" y="84.3" width="1.1" height="1.1" fill="#d2182f"/>
<rect x="92.9" y="90.3" width="1.1" height="1.1" fill="#d2182f"/>
<rect x="106.8" y="94.1" width="1.1" height="1.1" fill="#d2182f"/>
<rect x="102.1" y="92.5" width="1.1" height="1.1" fill="#d2182f"/>
<rect x="109.1" y="95.0" width="1.1" height="1.1" fill="#d2182f"/>
<rect x="107.0" y="94.4" width="1.1" height="1.1" fill="#d2182f"/>
<rect x="111.0" y="86.3" width="1.1" height="1.1" fill="#d2182f"/>
<rect x="93.6" y="94.7" width="1.1" height="1.1" fill="#d2182f"/>
<rect x="107.7" y="94.0" width="1.1" height="1.1" fill="#d2182f"/>
<rect x="94.2" y="95.4" width="1.1" height="1.1" fill="#d2182f"/>
<rect x="101.9" y="95.6" width="1.1" height="1.1" fill="#d2182f"/>
<rect x="101.1" y="85.2" width="1.1" height="1.1" fill="#d2182f"/>
<rect x="95.8" y="80.5" width="1.1" height="1.1" fill="#d2182f"/>
<rect x="107.0" y="91.1" width="1.1" height="1.1" fill="#d2182f"/>
<rect x="95.8" y="83.9" width="1.1" height="1.1" fill="#d2182f"/>
<rect x="92.7" y="95.0" width="1.1" height="1.1" fill="#d2182f"/>
<rect x="106.7" y="95.7" width="1.1" height="1.1" fill="#d2182f"/>
<rect x="102.4" y="94.4" width="1.1" height="1.1" fill="#d2182f"/>
<rect x="93.1" y="94.3" width="1.1" height="1.1" fill="#d2182f"/>
<rect x="91.8" y="90.1" width="1.1" height="1.1" fill="#d2182f"/>
<rect x="99.3" y="93.2" width="1.1" height="1.1" fill="#d2182f"/>
<rect x="99.4" y="94.9" width="1.1" height="1.1" fill="#d2182f"/>
<rect x="103.1" y="92.4" width="1.1" height="1.1" fill="#d2182f"/>
<rect x="109.5" y="91.5" width="1.1" height="1.1" fill="#d2182f"/>
<rect x="86.7" y="94.8" width="1.1" height="1.1" fill="#d2182f"/>
<rect x="101.1" y="95.0" width="1.1" height="1.1" fill="#d2182f"/>
<rect x="108.9" y="90.9" width="1.1" height="1.1" fill="#d2182f"/>
<rect x="98.5" y="94.1" width="1.1" height="1.1" fill="#d2182f"/>
<rect x="107.2" y="95.2" width="1.1" height="1.1" fill="#d2182f"/>
<rect x="95.5" y="90.7" width="1.1" height="1.1" fill="#d2182f"/>
<rect x="87.1" y="95.1" width="1.1" height="1.1" fill="#d2182f"/>
<rect x="106.6" y="91.9" width="1.1" height="1.1" fill="#d2182f"/>
<rect x="107.6" y="95.5" width="1.1" height="1.1" fill="#d2182f"/>
<rect x="103.2" y="95.2" width="1.1" height="1.1" fill="#d2182f"/>
<rect x="96.2" y="84.8" width="1.1" height="1.1" fill="#d2182f"/>
<rect x="98.3" y="93.0" width="1.1" height="1.1" fill="#d2182f"/>
<rect x="98.0" y="95.9" width="1.1" height="1.1" fill="#d2182f"/>
<rect x="96.7" y="95.6" width="1.1" height="1.1" fill="#d2182f"/>
<rect x="102.5" y="93.0" width="1.1" height="1.1" fill="#d2182f"/>
<rect x="97.2" y="95.8" width="1.1" height="1.1" fill="#d2182f"/>
<rect x="100.1" y="95.9" width="1.1" height="1.1" fill="#d2182f"/>
<rect x="90.7" y="91.5" width="1.1" height="1.1" fill="#d2182f"/>
<rect x="88.4" y="94.0" width="1.1" height="1.1" fill="#d2182f"/>
<rect x="97.9" y="95.6" width="1.1" height="1.1" fill="#d2182f"/>
<rect x="107.5" y="91.0" width="1.1" height="1.1" fill="#d2182f"/>
<rect x="95.1" y="94.6" width="1.1" height="1.1" fill="#d2182f"/>
<rect x="106.4" y="88.7" width="1.1" height="1.1" fill="#d2182f"/>
<rect x="94.1" y="95.2" width="1.1" height="1.1" fill="#d2182f"/>
<rect x="95.9" y="90.3" width="1.1" height="1.1" fill="#d2182f"/>
<rect x="87.2" y="93.8" width="1.1" height="1.1" fill="#d2182f"/>
<rect x="94.8" y="89.5" width="1.1" height="1.1" fill="#d2182f"/>
<rect x="91.6" y="89.1" width="1.1" height="1.1" fill="#d2182f"/>
<rect x="87.5" y="92.1" width="1.1" height="1.1" fill="#d2182f"/>
<rect x="96.5" y="90.9" width="1.1" height="1.1" fill="#d2182f"/>
<rect x="90.4" y="95.3" width="1.1" height="1.1" fill="#d2182f"/>
<rect x="96.5" y="94.8" width="1.1" height="1.1" fill="#d2182f"/>
<rect x="93.2" y="94.8" width="1.1" height="1.1" fill="#d2182f"/>
<rect x="90.0" y="91.7" width="1.1" height="1.1" fill="#d2182f"/>
<rect x="109.8" y="91.2" width="1.1" height="1.1" fill="#d2182f"/>
<rect x="89.5" y="94.5" width="1.1" height="1.1" fill="#d2182f"/>
<rect x="100.2" y="94.6" width="1.1" height="1.1" fill="#d2182f"/>
<rect x="103.2" y="88.1" width="1.1" height="1.1" fill="#d2182f"/>
<rect x="107.1" y="95.5" width="1.1" height="1.1" fill="#d2182f"/>
<rect x="93.3" y="90.1" width="1.1" height="1.1" fill="#d2182f"/>
<rect x="108.2" y="89.7" width="1.1" height="1.1" fill="#d2182f"/>
<rect x="103.9" y="93.0" width="1.1" height="1.1" fill="#d2182f"/>
<rect x="102.8" y="90.1" width="1.1" height="1.1" fill="#d2182f"/>
<rect x="105.7" y="90.3" width="1.1" height="1.1" fill="#d2182f"/>
<rect x="108.3" y="92.2" width="1.1" height="1.1" fill="#d2182f"/>
<rect x="92.7" y="94.3" width="1.1" height="1.1" fill="#d2182f"/>
<rect x="97.1" y="86.4" width="1.1" height="1.1" fill="#d2182f"/>
<rect x="91.9" y="95.9" width="1.1" height="1.1" fill="#d2182f"/>
<rect x="101.3" y="95.6" width="1.1" height="1.1" fill="#d2182f"/>
<rect x="102.8" y="89.1" width="1.1" height="1.1" fill="#d2182f"/>
<rect x="92.8" y="95.4" width="1.1" height="1.1" fill="#d2182f"/>
<rect x="87.6" y="92.1" width="1.1" height="1.1" fill="#d2182f"/>
<rect x="91.3" y="94.3" width="1.1" height="1.1" fill="#d2182f"/>
<rect x="103.0" y="89.9" width="1.1" height="1.1" fill="#d2182f"/>
<rect x="107.9" y="94.8" width="1.1" height="1.1" fill="#d2182f"/>
<rect x="92.8" y="95.6" width="1.1" height="1.1" fill="#d2182f"/>
<rect x="93.5" y="88.6" width="1.1" height="1.1" fill="#d2182f"/>
<rect x="106.9" y="92.6" width="1.1" height="1.1" fill="#d2182f"/>
<rect x="101.8" y="90.4" width="1.1" height="1.1" fill="#d2182f"/>
<rect x="91.7" y="92.8" width="1.1" height="1.1" fill="#d2182f"/>
<rect x="95.7" y="92.8" width="1.1" height="1.1" fill="#d2182f"/>
<rect x="92.8" y="91.7" width="1.1" height="1.1" fill="#d2182f"/>
<rect x="105.0" y="93.0" width="1.1" height="1.1" fill="#d2182f"/>
<rect x="100.9" y="93.4" width="1.1" height="1.1" fill="#d2182f"/>
<rect x="109.7" y="93.5" width="1.1" height="1.1" fill="#d2182f"/>
<rect x="91.9" y="83.6" width="1.1" height="1.1" fill="#d2182f"/>
<rect x="86.7" y="93.8" width="1.1" height="1.1" fill="#d2182f"/>
<rect x="104.9" y="94.6" width="1.1" height="1.1" fill="#d2182f"/>
<rect x="106.7" y="96.0" width="1.1" height="1.1" fill="#d2182f"/>
<rect x="104.7" y="90.0" width="1.1" height="1.1" fill="#d2182f"/>
<rect x="101.6" y="90.3" width="1.1" height="1.1" fill="#d2182f"/>
<rect x="87.5" y="93.6" width="1.1" height="1.1" fill="#d2182f"/>
<rect x="101.2" y="88.1" width="1.1" height="1.1" fill="#d2182f"/>
<rect x="96.8" y="93.0" width="1.1" height="1.1" fill="#d2182f"/>
<rect x="96.8" y="93.9" width="1.1" height="1.1" fill="#5a1020"/>
<rect x="104.8" y="95.4" width="1.1" height="1.1" fill="#5a1020"/>
<rect x="103.3" y="95.2" width="1.1" height="1.1" fill="#5a1020"/>
<rect x="99.1" y="80.8" width="1.1" height="1.1" fill="#5a1020"/>
<rect x="101.3" y="93.6" width="1.1" height="1.1" fill="#5a1020"/>
<rect x="88.1" y="93.4" width="1.1" height="1.1" fill="#5a1020"/>
<rect x="100.4" y="95.3" width="1.1" height="1.1" fill="#5a1020"/>
<rect x="107.0" y="90.8" width="1.1" height="1.1" fill="#5a1020"/>
<rect x="92.6" y="96.0" width="1.1" height="1.1" fill="#5a1020"/>
<rect x="97.1" y="83.1" width="1.1" height="1.1" fill="#5a1020"/>
<rect x="109.5" y="90.0" width="1.1" height="1.1" fill="#5a1020"/>
<rect x="88.8" y="90.1" width="1.1" height="1.1" fill="#5a1020"/>
<rect x="105.6" y="92.6" width="1.1" height="1.1" fill="#5a1020"/>
<rect x="110.5" y="91.5" width="1.1" height="1.1" fill="#5a1020"/>
<rect x="109.3" y="95.8" width="1.1" height="1.1" fill="#5a1020"/>
<rect x="107.3" y="91.5" width="1.1" height="1.1" fill="#5a1020"/>
<rect x="101.7" y="92.5" width="1.1" height="1.1" fill="#5a1020"/>
<rect x="92.2" y="93.1" width="1.1" height="1.1" fill="#5a1020"/>
<rect x="104.9" y="89.0" width="1.1" height="1.1" fill="#5a1020"/>
<rect x="102.8" y="81.2" width="1.1" height="1.1" fill="#5a1020"/>
<rect x="103.2" y="91.0" width="1.1" height="1.1" fill="#5a1020"/>
<rect x="104.1" y="94.7" width="1.1" height="1.1" fill="#5a1020"/>
<rect x="104.2" y="94.9" width="1.1" height="1.1" fill="#5a1020"/>
<rect x="103.8" y="83.7" width="1.1" height="1.1" fill="#5a1020"/>
<rect x="95.1" y="95.2" width="1.1" height="1.1" fill="#5a1020"/>
<rect x="88.0" y="89.1" width="1.1" height="1.1" fill="#5a1020"/>
<rect x="94.8" y="95.6" width="1.1" height="1.1" fill="#5a1020"/>
<rect x="103.7" y="89.9" width="1.1" height="1.1" fill="#5a1020"/>
<rect x="104.1" y="95.6" width="1.1" height="1.1" fill="#5a1020"/>
<rect x="103.3" y="93.7" width="1.1" height="1.1" fill="#5a1020"/>
<rect x="47.4" y="88.6" width="1.0" height="1.0" fill="#555"/>
<rect x="47.7" y="88.5" width="1.0" height="1.0" fill="#555"/>
<rect x="79.1" y="94.7" width="1.0" height="1.0" fill="#555"/>
<rect x="56.6" y="92.9" width="1.0" height="1.0" fill="#555"/>
<rect x="46.2" y="86.9" width="1.0" height="1.0" fill="#555"/>
<rect x="77.4" y="89.2" width="1.0" height="1.0" fill="#555"/>
<rect x="61.8" y="84.1" width="1.0" height="1.0" fill="#555"/>
<rect x="73.9" y="64.3" width="1.0" height="1.0" fill="#555"/>
<rect x="52.8" y="93.1" width="1.0" height="1.0" fill="#555"/>
<rect x="76.2" y="86.5" width="1.0" height="1.0" fill="#555"/>
<rect x="74.8" y="93.5" width="1.0" height="1.0" fill="#555"/>
<rect x="71.1" y="93.8" width="1.0" height="1.0" fill="#555"/>
<rect x="44.8" y="93.7" width="1.0" height="1.0" fill="#555"/>
<rect x="54.0" y="90.1" width="1.0" height="1.0" fill="#555"/>
<rect x="65.8" y="69.9" width="1.0" height="1.0" fill="#555"/>
<rect x="56.7" y="87.1" width="1.0" height="1.0" fill="#555"/>
<rect x="55.9" y="90.6" width="1.0" height="1.0" fill="#555"/>
<rect x="50.1" y="94.9" width="1.0" height="1.0" fill="#555"/>
<rect x="94.7" y="83.3" width="1.0" height="1.0" fill="#555"/>
<rect x="114.3" y="84.5" width="1.0" height="1.0" fill="#555"/>
<rect x="101.4" y="90.1" width="1.0" height="1.0" fill="#555"/>
<rect x="92.3" y="92.4" width="1.0" height="1.0" fill="#555"/>
<rect x="121.4" y="86.9" width="1.0" height="1.0" fill="#555"/>
<rect x="100.0" y="88.0" width="1.0" height="1.0" fill="#555"/>
<rect x="103.2" y="91.8" width="1.0" height="1.0" fill="#555"/>
<rect x="100.5" y="89.8" width="1.0" height="1.0" fill="#555"/>
<rect x="117.8" y="75.0" width="1.0" height="1.0" fill="#555"/>
<rect x="95.9" y="89.4" width="1.0" height="1.0" fill="#555"/>
<rect x="93.5" y="67.4" width="1.0" height="1.0" fill="#555"/>
<rect x="90.4" y="89.0" width="1.0" height="1.0" fill="#555"/>
<rect x="85.9" y="89.3" width="1.0" height="1.0" fill="#555"/>
<rect x="102.1" y="94.8" width="1.0" height="1.0" fill="#555"/>
<rect x="91.0" y="88.7" width="1.0" height="1.0" fill="#555"/>
<rect x="102.6" y="91.6" width="1.0" height="1.0" fill="#555"/>
<rect x="87.4" y="91.4" width="1.0" height="1.0" fill="#555"/>
<rect x="98.0" y="93.9" width="1.0" height="1.0" fill="#555"/>
<rect x="59.9" y="50.9" width="1.2" height="1.2" fill="#555"/>
<rect x="109.4" y="51.9" width="1.2" height="1.2" fill="#666"/>
<rect x="107.4" y="62.4" width="1.2" height="1.2" fill="#555"/>
<rect x="46.4" y="63.4" width="1.2" height="1.2" fill="#777"/>
<rect x="50.4" y="65.4" width="1.2" height="1.2" fill="#777"/>
<rect x="89.4" y="72.4" width="1.2" height="1.2" fill="#666"/>
<rect x="117.4" y="81.4" width="1.2" height="1.2" fill="#666"/>
<rect x="41.4" y="79.4" width="1.2" height="1.2" fill="#666"/>
<rect x="44.4" y="85.4" width="1.2" height="1.2" fill="#666"/>
</g>
<rect x="32.70" y="44.10" width="100.60" height="71.80" stroke="#231f20" stroke-width="1.1" fill="none"/>
<line x1="29.30" y1="46.50" x2="32.70" y2="46.50" stroke="#231f20" stroke-width="0.85"/>
<text x="26.30" y="48.70" font-size="6.3" text-anchor="end" fill="#231f20" >12</text>
<line x1="29.30" y1="63.25" x2="32.70" y2="63.25" stroke="#231f20" stroke-width="0.85"/>
<text x="26.30" y="65.45" font-size="6.3" text-anchor="end" fill="#231f20" >8</text>
<line x1="29.30" y1="80.00" x2="32.70" y2="80.00" stroke="#231f20" stroke-width="0.85"/>
<text x="26.30" y="82.20" font-size="6.3" text-anchor="end" fill="#231f20" >6</text>
<line x1="29.30" y1="96.75" x2="32.70" y2="96.75" stroke="#231f20" stroke-width="0.85"/>
<text x="26.30" y="98.95" font-size="6.3" text-anchor="end" fill="#231f20" >4</text>
<line x1="29.30" y1="113.50" x2="32.70" y2="113.50" stroke="#231f20" stroke-width="0.85"/>
<text x="26.30" y="115.70" font-size="6.3" text-anchor="end" fill="#231f20" >0</text>
<line x1="35.10" y1="115.90" x2="35.10" y2="118.60" stroke="#231f20" stroke-width="0.85"/>
<text x="35.10" y="127.80" font-size="6.3" text-anchor="middle" fill="#231f20" >−10</text>
<line x1="58.80" y1="115.90" x2="58.80" y2="118.60" stroke="#231f20" stroke-width="0.85"/>
<text x="58.80" y="127.80" font-size="6.3" text-anchor="middle" fill="#231f20" >−5</text>
<line x1="82.50" y1="115.90" x2="82.50" y2="118.60" stroke="#231f20" stroke-width="0.85"/>
<text x="82.50" y="127.80" font-size="6.3" text-anchor="middle" fill="#231f20" >0</text>
<line x1="106.20" y1="115.90" x2="106.20" y2="118.60" stroke="#231f20" stroke-width="0.85"/>
<text x="106.20" y="127.80" font-size="6.3" text-anchor="middle" fill="#231f20" >5</text>
<line x1="129.90" y1="115.90" x2="129.90" y2="118.60" stroke="#231f20" stroke-width="0.85"/>
<text x="129.90" y="127.80" font-size="6.3" text-anchor="middle" fill="#231f20" >10</text>
<text x="0" y="0" font-size="7.9" text-anchor="middle" fill="#231f20" stroke="#231f20" stroke-width="0.15" transform="translate(82.30,140.70) scale(0.72,1)">Log<tspan font-size="5" dy="1.6">2</tspan><tspan dy="-1.6">(fold change)</tspan></text>
<text x="0" y="0" font-size="8.0" text-anchor="middle" fill="#231f20" stroke="#231f20" stroke-width="0.15" transform="translate(14.4,80.30) rotate(-90) scale(0.77,1)">-Log<tspan font-size="5.5" dy="1.8">10</tspan><tspan dy="-1.8">(FDR)</tspan></text>
<text x="140.80" y="64.50" font-size="6.0" text-anchor="start" fill="#231f20" >DEG (FDR&lt;0.05)</text>
<circle cx="143.50" cy="72.70" r="2.25" fill="#b5162d"/>
<text x="149.80" y="74.80" font-size="6.0" text-anchor="start" fill="#231f20" >Upregulation in</text>
<text x="149.80" y="81.90" font-size="6.0" text-anchor="start" fill="#231f20" >R/R (182 genes)</text>
<circle cx="143.50" cy="90.40" r="2.25" fill="#1e3f6b"/>
<text x="149.80" y="92.50" font-size="6.0" text-anchor="start" fill="#231f20" >Downregulation in</text>
<text x="149.80" y="99.60" font-size="6.0" text-anchor="start" fill="#231f20" >R/R (126 genes)</text>
<text x="6.60" y="185.70" font-size="11.0" text-anchor="start" fill="#231f20" font-weight="bold">B</text>
<text x="84.30" y="202.40" font-size="7.9" text-anchor="middle" fill="#231f20" >R/R vs. CR in non-naive pts</text>
<clipPath id="cB"><rect x="33.6" y="208.0" width="101.0" height="71.5"/></clipPath>
<g clip-path="url(#cB)">
<polygon fill="#000" points="79.60,260.40 79.48,260.39 79.24,260.38 78.89,260.36 78.41,260.34 77.82,260.31 77.11,260.27 76.28,260.23 75.32,260.17 74.40,260.14 73.50,260.12 72.62,260.11 71.78,260.12 70.95,260.14 70.15,260.17 69.38,260.22 68.62,260.28 67.91,260.36 67.22,260.45 66.56,260.56 65.94,260.69 65.34,260.83 64.78,260.98 64.25,261.16 63.75,261.34 63.27,261.55 62.80,261.79 62.34,262.05 61.91,262.33 61.48,262.63 61.08,262.96 60.69,263.31 60.31,263.69 59.97,264.07 59.66,264.46 59.38,264.86 59.12,265.27 58.91,265.68 58.72,266.10 58.56,266.53 58.44,266.97 58.36,267.40 58.33,267.83 58.34,268.26 58.41,268.69 58.52,269.11 58.67,269.53 58.88,269.94 59.12,270.36 59.50,270.76 60.00,271.15 60.62,271.54 61.38,271.91 62.25,272.28 63.25,272.63 64.38,272.98 65.62,273.32 66.94,273.65 68.33,273.97 69.78,274.29 71.30,274.61 72.88,274.91 74.54,275.21 76.26,275.51 78.04,275.79 79.61,276.05 80.95,276.26 82.07,276.44 82.96,276.58 83.63,276.69 84.08,276.76 84.30,276.80"/>
<polygon fill="#000" points="88.40,260.60 88.52,260.59 88.76,260.58 89.11,260.56 89.59,260.54 90.18,260.51 90.89,260.47 91.72,260.42 92.67,260.38 93.63,260.34 94.59,260.32 95.56,260.32 96.54,260.33 97.52,260.36 98.51,260.40 99.50,260.46 100.50,260.54 101.47,260.63 102.41,260.74 103.31,260.87 104.19,261.01 105.03,261.17 105.84,261.35 106.62,261.54 107.38,261.76 108.09,261.97 108.78,262.20 109.44,262.42 110.06,262.65 110.66,262.89 111.22,263.13 111.75,263.38 112.25,263.62 112.72,263.88 113.16,264.12 113.56,264.38 113.94,264.62 114.28,264.88 114.59,265.12 114.88,265.38 115.12,265.62 115.28,265.88 115.34,266.12 115.31,266.38 115.19,266.62 114.97,266.88 114.66,267.12 114.25,267.38 113.75,267.62 113.09,267.91 112.28,268.23 111.31,268.59 110.19,268.98 108.91,269.41 107.47,269.88 105.88,270.38 104.12,270.92 102.38,271.45 100.64,271.98 98.90,272.50 97.17,273.02 95.45,273.54 93.72,274.05 92.01,274.55 90.29,275.05 88.80,275.49 87.51,275.86 86.44,276.18 85.58,276.43 84.94,276.61 84.51,276.74 84.30,276.80"/>
<rect x="70.6" y="255.9" width="1.1" height="1.1" fill="#333"/>
<rect x="58.8" y="263.6" width="1.1" height="1.1" fill="#111"/>
<rect x="83.9" y="276.5" width="1.1" height="1.1" fill="#111"/>
<rect x="65.1" y="260.0" width="1.1" height="1.1" fill="#111"/>
<rect x="76.8" y="257.0" width="1.1" height="1.1" fill="#333"/>
<rect x="63.1" y="260.1" width="1.1" height="1.1" fill="#111"/>
<rect x="76.2" y="258.0" width="1.1" height="1.1" fill="#111"/>
<rect x="60.7" y="259.3" width="1.1" height="1.1" fill="#111"/>
<rect x="56.4" y="268.1" width="1.1" height="1.1" fill="#111"/>
<rect x="54.7" y="267.9" width="1.1" height="1.1" fill="#333"/>
<rect x="58.7" y="262.6" width="1.1" height="1.1" fill="#111"/>
<rect x="70.1" y="256.8" width="1.1" height="1.1" fill="#333"/>
<rect x="59.9" y="261.1" width="1.1" height="1.1" fill="#111"/>
<rect x="62.1" y="257.8" width="1.1" height="1.1" fill="#333"/>
<rect x="62.8" y="259.7" width="1.1" height="1.1" fill="#111"/>
<rect x="61.8" y="257.3" width="1.1" height="1.1" fill="#333"/>
<rect x="56.0" y="264.9" width="1.1" height="1.1" fill="#111"/>
<rect x="71.4" y="259.0" width="1.1" height="1.1" fill="#111"/>
<rect x="85.1" y="274.0" width="1.1" height="1.1" fill="#111"/>
<rect x="87.8" y="267.1" width="1.1" height="1.1" fill="#333"/>
<rect x="73.0" y="256.0" width="1.1" height="1.1" fill="#333"/>
<rect x="71.8" y="257.9" width="1.1" height="1.1" fill="#111"/>
<rect x="54.3" y="256.9" width="1.1" height="1.1" fill="#333"/>
<rect x="68.7" y="258.9" width="1.1" height="1.1" fill="#111"/>
<rect x="50.6" y="267.2" width="1.1" height="1.1" fill="#333"/>
<rect x="68.5" y="258.9" width="1.1" height="1.1" fill="#111"/>
<rect x="85.5" y="275.7" width="1.1" height="1.1" fill="#111"/>
<rect x="53.7" y="265.1" width="1.1" height="1.1" fill="#333"/>
<rect x="70.9" y="256.5" width="1.1" height="1.1" fill="#333"/>
<rect x="85.8" y="271.0" width="1.1" height="1.1" fill="#333"/>
<rect x="50.2" y="267.1" width="1.1" height="1.1" fill="#333"/>
<rect x="55.0" y="268.3" width="1.1" height="1.1" fill="#333"/>
<rect x="77.5" y="258.3" width="1.1" height="1.1" fill="#111"/>
<rect x="77.0" y="259.0" width="1.1" height="1.1" fill="#111"/>
<rect x="62.9" y="260.2" width="1.1" height="1.1" fill="#111"/>
<rect x="73.9" y="256.7" width="1.1" height="1.1" fill="#333"/>
<rect x="58.5" y="260.8" width="1.1" height="1.1" fill="#333"/>
<rect x="69.5" y="256.9" width="1.1" height="1.1" fill="#333"/>
<rect x="57.3" y="267.3" width="1.1" height="1.1" fill="#111"/>
<rect x="62.8" y="258.1" width="1.1" height="1.1" fill="#333"/>
<rect x="61.5" y="259.2" width="1.1" height="1.1" fill="#111"/>
<rect x="92.4" y="269.5" width="1.1" height="1.1" fill="#333"/>
<rect x="66.7" y="256.3" width="1.1" height="1.1" fill="#333"/>
<rect x="67.7" y="257.0" width="1.1" height="1.1" fill="#333"/>
<rect x="58.2" y="263.9" width="1.1" height="1.1" fill="#111"/>
<rect x="54.2" y="266.4" width="1.1" height="1.1" fill="#333"/>
<rect x="56.0" y="259.2" width="1.1" height="1.1" fill="#333"/>
<rect x="85.0" y="275.1" width="1.1" height="1.1" fill="#111"/>
<rect x="78.3" y="258.2" width="1.1" height="1.1" fill="#111"/>
<rect x="55.7" y="267.3" width="1.1" height="1.1" fill="#111"/>
<rect x="61.6" y="256.4" width="1.1" height="1.1" fill="#333"/>
<rect x="55.3" y="264.6" width="1.1" height="1.1" fill="#333"/>
<rect x="90.1" y="261.2" width="1.1" height="1.1" fill="#333"/>
<rect x="68.7" y="257.6" width="1.1" height="1.1" fill="#111"/>
<rect x="78.6" y="258.9" width="1.1" height="1.1" fill="#111"/>
<rect x="71.0" y="257.7" width="1.1" height="1.1" fill="#111"/>
<rect x="71.4" y="258.2" width="1.1" height="1.1" fill="#111"/>
<rect x="91.6" y="256.3" width="1.1" height="1.1" fill="#333"/>
<rect x="58.2" y="262.3" width="1.1" height="1.1" fill="#111"/>
<rect x="51.7" y="265.9" width="1.1" height="1.1" fill="#333"/>
<rect x="62.5" y="261.1" width="1.1" height="1.1" fill="#111"/>
<rect x="56.4" y="256.4" width="1.1" height="1.1" fill="#333"/>
<rect x="57.3" y="258.2" width="1.1" height="1.1" fill="#333"/>
<rect x="56.5" y="266.5" width="1.1" height="1.1" fill="#111"/>
<rect x="67.1" y="259.8" width="1.1" height="1.1" fill="#111"/>
<rect x="54.6" y="262.4" width="1.1" height="1.1" fill="#333"/>
<rect x="69.2" y="258.5" width="1.1" height="1.1" fill="#111"/>
<rect x="53.0" y="266.1" width="1.1" height="1.1" fill="#333"/>
<rect x="84.8" y="273.2" width="1.1" height="1.1" fill="#111"/>
<rect x="59.4" y="258.1" width="1.1" height="1.1" fill="#333"/>
<rect x="59.3" y="263.1" width="1.1" height="1.1" fill="#111"/>
<rect x="58.9" y="262.7" width="1.1" height="1.1" fill="#111"/>
<rect x="55.0" y="266.8" width="1.1" height="1.1" fill="#333"/>
<rect x="68.9" y="259.6" width="1.1" height="1.1" fill="#111"/>
<rect x="57.4" y="266.1" width="1.1" height="1.1" fill="#111"/>
<rect x="90.7" y="274.9" width="1.1" height="1.1" fill="#333"/>
<rect x="65.4" y="260.0" width="1.1" height="1.1" fill="#111"/>
<rect x="58.4" y="263.5" width="1.1" height="1.1" fill="#111"/>
<rect x="59.8" y="262.1" width="1.1" height="1.1" fill="#111"/>
<rect x="58.1" y="263.2" width="1.1" height="1.1" fill="#111"/>
<rect x="61.4" y="260.9" width="1.1" height="1.1" fill="#111"/>
<rect x="62.2" y="260.5" width="1.1" height="1.1" fill="#111"/>
<rect x="87.5" y="273.6" width="1.1" height="1.1" fill="#333"/>
<rect x="77.5" y="258.4" width="1.1" height="1.1" fill="#111"/>
<rect x="53.7" y="262.7" width="1.1" height="1.1" fill="#333"/>
<rect x="72.6" y="257.7" width="1.1" height="1.1" fill="#111"/>
<rect x="70.5" y="255.9" width="1.1" height="1.1" fill="#333"/>
<rect x="74.1" y="256.1" width="1.1" height="1.1" fill="#333"/>
<rect x="86.9" y="270.4" width="1.1" height="1.1" fill="#333"/>
<rect x="56.3" y="260.8" width="1.1" height="1.1" fill="#333"/>
<rect x="66.3" y="258.3" width="1.1" height="1.1" fill="#111"/>
<rect x="67.7" y="259.0" width="1.1" height="1.1" fill="#111"/>
<rect x="63.0" y="260.1" width="1.1" height="1.1" fill="#111"/>
<rect x="65.7" y="256.9" width="1.1" height="1.1" fill="#333"/>
<rect x="60.6" y="258.6" width="1.1" height="1.1" fill="#333"/>
<rect x="63.0" y="257.1" width="1.1" height="1.1" fill="#333"/>
<rect x="60.8" y="260.3" width="1.1" height="1.1" fill="#111"/>
<rect x="59.2" y="260.5" width="1.1" height="1.1" fill="#111"/>
<rect x="55.8" y="265.0" width="1.1" height="1.1" fill="#111"/>
<rect x="84.1" y="276.1" width="1.1" height="1.1" fill="#111"/>
<rect x="59.7" y="257.7" width="1.1" height="1.1" fill="#333"/>
<rect x="57.3" y="268.4" width="1.1" height="1.1" fill="#111"/>
<rect x="58.5" y="264.4" width="1.1" height="1.1" fill="#111"/>
<rect x="53.3" y="262.0" width="1.1" height="1.1" fill="#333"/>
<rect x="70.7" y="258.2" width="1.1" height="1.1" fill="#111"/>
<rect x="89.1" y="272.7" width="1.1" height="1.1" fill="#333"/>
<rect x="55.1" y="256.3" width="1.1" height="1.1" fill="#333"/>
<rect x="73.1" y="258.3" width="1.1" height="1.1" fill="#111"/>
<rect x="76.9" y="258.5" width="1.1" height="1.1" fill="#111"/>
<rect x="62.8" y="260.7" width="1.1" height="1.1" fill="#111"/>
<rect x="75.3" y="259.6" width="1.1" height="1.1" fill="#111"/>
<rect x="56.1" y="257.0" width="1.1" height="1.1" fill="#333"/>
<rect x="84.2" y="274.9" width="1.1" height="1.1" fill="#111"/>
<rect x="62.3" y="260.6" width="1.1" height="1.1" fill="#111"/>
<rect x="61.7" y="259.4" width="1.1" height="1.1" fill="#111"/>
<rect x="85.1" y="275.3" width="1.1" height="1.1" fill="#111"/>
<rect x="73.3" y="258.1" width="1.1" height="1.1" fill="#111"/>
<rect x="56.7" y="263.1" width="1.1" height="1.1" fill="#111"/>
<rect x="65.7" y="259.6" width="1.1" height="1.1" fill="#111"/>
<rect x="52.6" y="266.4" width="1.1" height="1.1" fill="#333"/>
<rect x="71.2" y="258.5" width="1.1" height="1.1" fill="#111"/>
<rect x="57.3" y="265.4" width="1.1" height="1.1" fill="#111"/>
<rect x="72.7" y="258.5" width="1.1" height="1.1" fill="#111"/>
<rect x="60.9" y="260.1" width="1.1" height="1.1" fill="#111"/>
<rect x="64.4" y="259.5" width="1.1" height="1.1" fill="#111"/>
<rect x="77.5" y="258.7" width="1.1" height="1.1" fill="#111"/>
<rect x="86.7" y="274.9" width="1.1" height="1.1" fill="#333"/>
<rect x="66.9" y="258.9" width="1.1" height="1.1" fill="#111"/>
<rect x="54.9" y="266.8" width="1.1" height="1.1" fill="#333"/>
<rect x="58.2" y="261.9" width="1.1" height="1.1" fill="#111"/>
<rect x="84.3" y="274.2" width="1.1" height="1.1" fill="#111"/>
<rect x="86.5" y="273.6" width="1.1" height="1.1" fill="#333"/>
<rect x="66.6" y="256.8" width="1.1" height="1.1" fill="#333"/>
<rect x="55.9" y="267.4" width="1.1" height="1.1" fill="#111"/>
<rect x="56.8" y="259.5" width="1.1" height="1.1" fill="#333"/>
<rect x="61.6" y="261.0" width="1.1" height="1.1" fill="#111"/>
<rect x="87.5" y="271.9" width="1.1" height="1.1" fill="#333"/>
<rect x="85.9" y="276.0" width="1.1" height="1.1" fill="#111"/>
<rect x="84.3" y="275.8" width="1.1" height="1.1" fill="#111"/>
<rect x="84.9" y="272.8" width="1.1" height="1.1" fill="#111"/>
<rect x="71.6" y="259.3" width="1.1" height="1.1" fill="#111"/>
<rect x="71.5" y="259.0" width="1.1" height="1.1" fill="#111"/>
<rect x="57.1" y="266.6" width="1.1" height="1.1" fill="#111"/>
<rect x="71.7" y="258.0" width="1.1" height="1.1" fill="#111"/>
<rect x="55.7" y="262.9" width="1.1" height="1.1" fill="#333"/>
<rect x="71.7" y="258.6" width="1.1" height="1.1" fill="#111"/>
<rect x="55.7" y="263.1" width="1.1" height="1.1" fill="#333"/>
<rect x="74.2" y="257.8" width="1.1" height="1.1" fill="#111"/>
<rect x="52.6" y="262.6" width="1.1" height="1.1" fill="#333"/>
<rect x="58.1" y="259.6" width="1.1" height="1.1" fill="#333"/>
<rect x="66.0" y="257.7" width="1.1" height="1.1" fill="#111"/>
<rect x="72.4" y="257.6" width="1.1" height="1.1" fill="#111"/>
<rect x="57.4" y="260.7" width="1.1" height="1.1" fill="#333"/>
<rect x="71.8" y="257.4" width="1.1" height="1.1" fill="#111"/>
<rect x="62.2" y="258.8" width="1.1" height="1.1" fill="#111"/>
<rect x="58.5" y="263.8" width="1.1" height="1.1" fill="#111"/>
<rect x="57.6" y="267.4" width="1.1" height="1.1" fill="#111"/>
<rect x="87.8" y="274.3" width="1.1" height="1.1" fill="#333"/>
<rect x="49.9" y="262.4" width="1.1" height="1.1" fill="#333"/>
<rect x="57.9" y="266.2" width="1.1" height="1.1" fill="#111"/>
<rect x="116.5" y="262.5" width="1.1" height="1.1" fill="#333"/>
<rect x="110.0" y="261.8" width="1.1" height="1.1" fill="#111"/>
<rect x="89.0" y="258.7" width="1.1" height="1.1" fill="#111"/>
<rect x="115.0" y="260.9" width="1.1" height="1.1" fill="#333"/>
<rect x="105.7" y="258.3" width="1.1" height="1.1" fill="#111"/>
<rect x="83.4" y="275.6" width="1.1" height="1.1" fill="#111"/>
<rect x="93.5" y="259.2" width="1.1" height="1.1" fill="#111"/>
<rect x="101.2" y="258.9" width="1.1" height="1.1" fill="#111"/>
<rect x="94.2" y="259.5" width="1.1" height="1.1" fill="#111"/>
<rect x="79.3" y="272.1" width="1.1" height="1.1" fill="#333"/>
<rect x="102.0" y="259.1" width="1.1" height="1.1" fill="#111"/>
<rect x="90.1" y="257.4" width="1.1" height="1.1" fill="#111"/>
<rect x="103.4" y="258.3" width="1.1" height="1.1" fill="#111"/>
<rect x="100.8" y="259.2" width="1.1" height="1.1" fill="#111"/>
<rect x="124.2" y="261.4" width="1.1" height="1.1" fill="#333"/>
<rect x="81.1" y="267.5" width="1.1" height="1.1" fill="#333"/>
<rect x="116.6" y="263.5" width="1.1" height="1.1" fill="#333"/>
<rect x="114.8" y="264.1" width="1.1" height="1.1" fill="#111"/>
<rect x="115.1" y="264.9" width="1.1" height="1.1" fill="#111"/>
<rect x="102.5" y="258.4" width="1.1" height="1.1" fill="#111"/>
<rect x="115.5" y="263.4" width="1.1" height="1.1" fill="#111"/>
<rect x="105.9" y="258.6" width="1.1" height="1.1" fill="#111"/>
<rect x="101.3" y="260.0" width="1.1" height="1.1" fill="#111"/>
<rect x="120.1" y="265.6" width="1.1" height="1.1" fill="#333"/>
<rect x="80.6" y="267.3" width="1.1" height="1.1" fill="#333"/>
<rect x="106.8" y="258.9" width="1.1" height="1.1" fill="#111"/>
<rect x="77.6" y="275.2" width="1.1" height="1.1" fill="#333"/>
<rect x="122.0" y="259.9" width="1.1" height="1.1" fill="#333"/>
<rect x="80.5" y="265.9" width="1.1" height="1.1" fill="#333"/>
<rect x="109.6" y="258.5" width="1.1" height="1.1" fill="#333"/>
<rect x="89.3" y="257.6" width="1.1" height="1.1" fill="#111"/>
<rect x="82.5" y="273.9" width="1.1" height="1.1" fill="#111"/>
<rect x="91.7" y="259.1" width="1.1" height="1.1" fill="#111"/>
<rect x="96.8" y="259.6" width="1.1" height="1.1" fill="#111"/>
<rect x="91.6" y="258.6" width="1.1" height="1.1" fill="#111"/>
<rect x="90.8" y="259.0" width="1.1" height="1.1" fill="#111"/>
<rect x="103.9" y="259.4" width="1.1" height="1.1" fill="#111"/>
<rect x="94.9" y="256.3" width="1.1" height="1.1" fill="#333"/>
<rect x="108.6" y="260.8" width="1.1" height="1.1" fill="#111"/>
<rect x="105.5" y="258.6" width="1.1" height="1.1" fill="#111"/>
<rect x="101.0" y="259.9" width="1.1" height="1.1" fill="#111"/>
<rect x="93.2" y="257.8" width="1.1" height="1.1" fill="#111"/>
<rect x="80.6" y="272.9" width="1.1" height="1.1" fill="#333"/>
<rect x="81.3" y="271.0" width="1.1" height="1.1" fill="#333"/>
<rect x="107.4" y="261.0" width="1.1" height="1.1" fill="#111"/>
<rect x="114.3" y="262.2" width="1.1" height="1.1" fill="#111"/>
<rect x="78.3" y="273.6" width="1.1" height="1.1" fill="#333"/>
<rect x="114.8" y="261.6" width="1.1" height="1.1" fill="#333"/>
<rect x="117.1" y="265.3" width="1.1" height="1.1" fill="#111"/>
<rect x="117.3" y="265.0" width="1.1" height="1.1" fill="#333"/>
<rect x="75.7" y="272.3" width="1.1" height="1.1" fill="#333"/>
<rect x="97.8" y="258.5" width="1.1" height="1.1" fill="#111"/>
<rect x="112.9" y="262.4" width="1.1" height="1.1" fill="#111"/>
<rect x="91.9" y="258.4" width="1.1" height="1.1" fill="#111"/>
<rect x="103.8" y="258.3" width="1.1" height="1.1" fill="#111"/>
<rect x="80.7" y="272.1" width="1.1" height="1.1" fill="#333"/>
<rect x="88.8" y="258.1" width="1.1" height="1.1" fill="#111"/>
<rect x="112.2" y="262.7" width="1.1" height="1.1" fill="#111"/>
<rect x="113.9" y="261.8" width="1.1" height="1.1" fill="#111"/>
<rect x="105.2" y="259.3" width="1.1" height="1.1" fill="#111"/>
<rect x="83.0" y="275.0" width="1.1" height="1.1" fill="#111"/>
<rect x="108.6" y="261.3" width="1.1" height="1.1" fill="#111"/>
<rect x="101.8" y="258.9" width="1.1" height="1.1" fill="#111"/>
<rect x="88.6" y="258.5" width="1.1" height="1.1" fill="#111"/>
<rect x="105.9" y="260.8" width="1.1" height="1.1" fill="#111"/>
<rect x="117.6" y="258.4" width="1.1" height="1.1" fill="#333"/>
<rect x="99.9" y="259.8" width="1.1" height="1.1" fill="#111"/>
<rect x="81.8" y="273.4" width="1.1" height="1.1" fill="#333"/>
<rect x="97.3" y="259.7" width="1.1" height="1.1" fill="#111"/>
<rect x="95.0" y="259.0" width="1.1" height="1.1" fill="#111"/>
<rect x="80.0" y="270.4" width="1.1" height="1.1" fill="#333"/>
<rect x="108.6" y="258.6" width="1.1" height="1.1" fill="#333"/>
<rect x="95.7" y="258.6" width="1.1" height="1.1" fill="#111"/>
<rect x="115.4" y="263.3" width="1.1" height="1.1" fill="#111"/>
<rect x="94.1" y="259.3" width="1.1" height="1.1" fill="#111"/>
<rect x="118.6" y="266.4" width="1.1" height="1.1" fill="#333"/>
<rect x="92.7" y="258.9" width="1.1" height="1.1" fill="#111"/>
<rect x="77.5" y="264.5" width="1.1" height="1.1" fill="#333"/>
<rect x="75.4" y="273.7" width="1.1" height="1.1" fill="#333"/>
<rect x="119.8" y="263.6" width="1.1" height="1.1" fill="#333"/>
<rect x="120.9" y="261.5" width="1.1" height="1.1" fill="#333"/>
<rect x="75.3" y="267.2" width="1.1" height="1.1" fill="#333"/>
<rect x="104.0" y="259.9" width="1.1" height="1.1" fill="#111"/>
<rect x="109.1" y="259.5" width="1.1" height="1.1" fill="#111"/>
<rect x="79.8" y="267.0" width="1.1" height="1.1" fill="#333"/>
<rect x="96.4" y="259.1" width="1.1" height="1.1" fill="#111"/>
<rect x="112.5" y="263.2" width="1.1" height="1.1" fill="#111"/>
<rect x="104.8" y="260.3" width="1.1" height="1.1" fill="#111"/>
<rect x="105.1" y="256.9" width="1.1" height="1.1" fill="#333"/>
<rect x="103.4" y="259.4" width="1.1" height="1.1" fill="#111"/>
<rect x="89.9" y="256.6" width="1.1" height="1.1" fill="#333"/>
<rect x="114.8" y="264.9" width="1.1" height="1.1" fill="#111"/>
<rect x="100.6" y="258.7" width="1.1" height="1.1" fill="#111"/>
<rect x="113.8" y="263.3" width="1.1" height="1.1" fill="#111"/>
<rect x="99.7" y="257.5" width="1.1" height="1.1" fill="#333"/>
<rect x="97.4" y="259.4" width="1.1" height="1.1" fill="#111"/>
<rect x="92.8" y="256.8" width="1.1" height="1.1" fill="#333"/>
<rect x="105.2" y="259.8" width="1.1" height="1.1" fill="#111"/>
<rect x="92.2" y="257.8" width="1.1" height="1.1" fill="#111"/>
<rect x="108.6" y="261.2" width="1.1" height="1.1" fill="#111"/>
<rect x="81.2" y="270.9" width="1.1" height="1.1" fill="#333"/>
<rect x="81.3" y="275.1" width="1.1" height="1.1" fill="#333"/>
<rect x="78.1" y="270.2" width="1.1" height="1.1" fill="#333"/>
<rect x="119.5" y="264.5" width="1.1" height="1.1" fill="#333"/>
<rect x="98.4" y="258.3" width="1.1" height="1.1" fill="#111"/>
<rect x="94.2" y="258.6" width="1.1" height="1.1" fill="#111"/>
<rect x="94.8" y="256.0" width="1.1" height="1.1" fill="#333"/>
<rect x="92.9" y="257.8" width="1.1" height="1.1" fill="#111"/>
<rect x="94.8" y="255.8" width="1.1" height="1.1" fill="#333"/>
<rect x="100.3" y="258.7" width="1.1" height="1.1" fill="#111"/>
<rect x="88.8" y="259.3" width="1.1" height="1.1" fill="#111"/>
<rect x="96.8" y="256.7" width="1.1" height="1.1" fill="#333"/>
<rect x="98.7" y="258.5" width="1.1" height="1.1" fill="#111"/>
<rect x="74.7" y="276.6" width="1.1" height="1.1" fill="#333"/>
<rect x="90.9" y="259.0" width="1.1" height="1.1" fill="#111"/>
<rect x="91.5" y="258.9" width="1.1" height="1.1" fill="#111"/>
<rect x="79.5" y="271.2" width="1.1" height="1.1" fill="#333"/>
<rect x="79.0" y="269.0" width="1.1" height="1.1" fill="#333"/>
<rect x="106.8" y="258.2" width="1.1" height="1.1" fill="#333"/>
<rect x="83.1" y="276.4" width="1.1" height="1.1" fill="#111"/>
<rect x="65.6" y="264.4" width="0.9" height="0.9" fill="#fff"/>
<rect x="68.8" y="269.0" width="0.9" height="0.9" fill="#fff"/>
<rect x="60.6" y="263.5" width="0.9" height="0.9" fill="#fff"/>
<rect x="60.5" y="265.8" width="0.9" height="0.9" fill="#fff"/>
<rect x="75.1" y="267.1" width="0.9" height="0.9" fill="#fff"/>
<rect x="59.0" y="266.5" width="0.9" height="0.9" fill="#fff"/>
<rect x="62.9" y="271.5" width="0.9" height="0.9" fill="#fff"/>
<rect x="72.0" y="270.3" width="0.9" height="0.9" fill="#fff"/>
<rect x="60.5" y="265.5" width="0.9" height="0.9" fill="#fff"/>
<rect x="68.6" y="268.2" width="0.9" height="0.9" fill="#fff"/>
<rect x="62.0" y="266.5" width="0.9" height="0.9" fill="#fff"/>
<rect x="66.6" y="268.3" width="0.9" height="0.9" fill="#fff"/>
<rect x="66.6" y="265.5" width="0.9" height="0.9" fill="#fff"/>
<rect x="65.2" y="269.2" width="0.9" height="0.9" fill="#fff"/>
<rect x="63.8" y="271.5" width="0.9" height="0.9" fill="#fff"/>
<rect x="64.6" y="266.3" width="0.9" height="0.9" fill="#fff"/>
<rect x="72.2" y="264.9" width="0.9" height="0.9" fill="#fff"/>
<rect x="68.5" y="269.3" width="0.9" height="0.9" fill="#fff"/>
<rect x="59.2" y="269.5" width="0.9" height="0.9" fill="#fff"/>
<rect x="66.6" y="271.7" width="0.9" height="0.9" fill="#fff"/>
<rect x="67.1" y="266.7" width="0.9" height="0.9" fill="#fff"/>
<rect x="73.4" y="271.6" width="0.9" height="0.9" fill="#fff"/>
<rect x="62.4" y="264.6" width="0.9" height="0.9" fill="#fff"/>
<rect x="63.5" y="270.7" width="0.9" height="0.9" fill="#fff"/>
<rect x="66.4" y="266.1" width="0.9" height="0.9" fill="#fff"/>
<rect x="108.0" y="263.3" width="0.9" height="0.9" fill="#fff"/>
<rect x="95.5" y="267.0" width="0.9" height="0.9" fill="#fff"/>
<rect x="92.3" y="265.6" width="0.9" height="0.9" fill="#fff"/>
<rect x="112.5" y="265.0" width="0.9" height="0.9" fill="#fff"/>
<rect x="113.3" y="265.4" width="0.9" height="0.9" fill="#fff"/>
<rect x="104.2" y="269.2" width="0.9" height="0.9" fill="#fff"/>
<rect x="106.3" y="267.4" width="0.9" height="0.9" fill="#fff"/>
<rect x="111.1" y="264.3" width="0.9" height="0.9" fill="#fff"/>
<rect x="100.4" y="266.2" width="0.9" height="0.9" fill="#fff"/>
<rect x="98.6" y="268.1" width="0.9" height="0.9" fill="#fff"/>
<rect x="98.6" y="268.9" width="0.9" height="0.9" fill="#fff"/>
<rect x="97.8" y="261.4" width="0.9" height="0.9" fill="#fff"/>
<rect x="100.4" y="261.6" width="0.9" height="0.9" fill="#fff"/>
<rect x="112.0" y="266.2" width="0.9" height="0.9" fill="#fff"/>
<rect x="111.9" y="264.6" width="0.9" height="0.9" fill="#fff"/>
<rect x="106.4" y="267.2" width="0.9" height="0.9" fill="#fff"/>
<rect x="107.2" y="264.9" width="0.9" height="0.9" fill="#fff"/>
<rect x="99.4" y="270.2" width="0.9" height="0.9" fill="#fff"/>
<rect x="112.9" y="265.3" width="0.9" height="0.9" fill="#fff"/>
<rect x="105.3" y="267.5" width="0.9" height="0.9" fill="#fff"/>
<rect x="97.4" y="266.4" width="0.9" height="0.9" fill="#fff"/>
<rect x="98.5" y="266.6" width="0.9" height="0.9" fill="#fff"/>
<rect x="111.3" y="264.6" width="0.9" height="0.9" fill="#fff"/>
<rect x="100.6" y="265.3" width="0.9" height="0.9" fill="#fff"/>
<rect x="107.5" y="264.0" width="0.9" height="0.9" fill="#fff"/>
<rect x="73.2" y="254.0" width="1.1" height="1.1" fill="#3c72ad"/>
<rect x="56.3" y="252.9" width="1.1" height="1.1" fill="#3c72ad"/>
<rect x="59.7" y="244.8" width="1.1" height="1.1" fill="#3c72ad"/>
<rect x="61.3" y="257.0" width="1.1" height="1.1" fill="#3c72ad"/>
<rect x="55.5" y="256.8" width="1.1" height="1.1" fill="#3c72ad"/>
<rect x="55.1" y="259.8" width="1.1" height="1.1" fill="#3c72ad"/>
<rect x="58.5" y="248.9" width="1.1" height="1.1" fill="#3c72ad"/>
<rect x="69.5" y="253.7" width="1.1" height="1.1" fill="#3c72ad"/>
<rect x="70.0" y="259.0" width="1.1" height="1.1" fill="#3c72ad"/>
<rect x="73.4" y="246.6" width="1.1" height="1.1" fill="#3c72ad"/>
<rect x="73.6" y="251.0" width="1.1" height="1.1" fill="#3c72ad"/>
<rect x="73.9" y="256.1" width="1.1" height="1.1" fill="#3c72ad"/>
<rect x="58.6" y="258.9" width="1.1" height="1.1" fill="#3c72ad"/>
<rect x="74.2" y="259.4" width="1.1" height="1.1" fill="#3c72ad"/>
<rect x="60.9" y="259.6" width="1.1" height="1.1" fill="#3c72ad"/>
<rect x="69.0" y="242.3" width="1.1" height="1.1" fill="#3c72ad"/>
<rect x="77.0" y="251.7" width="1.1" height="1.1" fill="#3c72ad"/>
<rect x="65.1" y="249.1" width="1.1" height="1.1" fill="#3c72ad"/>
<rect x="78.1" y="259.6" width="1.1" height="1.1" fill="#3c72ad"/>
<rect x="60.1" y="259.3" width="1.1" height="1.1" fill="#3c72ad"/>
<rect x="73.1" y="259.6" width="1.1" height="1.1" fill="#3c72ad"/>
<rect x="70.2" y="256.6" width="1.1" height="1.1" fill="#3c72ad"/>
<rect x="67.8" y="246.5" width="1.1" height="1.1" fill="#3c72ad"/>
<rect x="76.2" y="249.4" width="1.1" height="1.1" fill="#3c72ad"/>
<rect x="60.7" y="251.7" width="1.1" height="1.1" fill="#3c72ad"/>
<rect x="77.5" y="244.3" width="1.1" height="1.1" fill="#3c72ad"/>
<rect x="66.9" y="240.7" width="1.1" height="1.1" fill="#3c72ad"/>
<rect x="71.7" y="255.8" width="1.1" height="1.1" fill="#3c72ad"/>
<rect x="65.2" y="250.8" width="1.1" height="1.1" fill="#3c72ad"/>
<rect x="61.7" y="252.7" width="1.1" height="1.1" fill="#3c72ad"/>
<rect x="60.9" y="255.8" width="1.1" height="1.1" fill="#3c72ad"/>
<rect x="75.3" y="258.1" width="1.1" height="1.1" fill="#3c72ad"/>
<rect x="57.1" y="253.2" width="1.1" height="1.1" fill="#3c72ad"/>
<rect x="69.9" y="249.3" width="1.1" height="1.1" fill="#3c72ad"/>
<rect x="66.2" y="252.1" width="1.1" height="1.1" fill="#3c72ad"/>
<rect x="59.1" y="249.3" width="1.1" height="1.1" fill="#3c72ad"/>
<rect x="58.3" y="259.8" width="1.1" height="1.1" fill="#3c72ad"/>
<rect x="73.9" y="256.6" width="1.1" height="1.1" fill="#3c72ad"/>
<rect x="56.2" y="257.0" width="1.1" height="1.1" fill="#3c72ad"/>
<rect x="58.2" y="259.0" width="1.1" height="1.1" fill="#3c72ad"/>
<rect x="63.6" y="254.0" width="1.1" height="1.1" fill="#3c72ad"/>
<rect x="77.1" y="252.2" width="1.1" height="1.1" fill="#3c72ad"/>
<rect x="67.2" y="252.7" width="1.1" height="1.1" fill="#3c72ad"/>
<rect x="60.7" y="259.1" width="1.1" height="1.1" fill="#3c72ad"/>
<rect x="62.4" y="256.8" width="1.1" height="1.1" fill="#3c72ad"/>
<rect x="64.3" y="254.3" width="1.1" height="1.1" fill="#3c72ad"/>
<rect x="64.8" y="254.7" width="1.1" height="1.1" fill="#3c72ad"/>
<rect x="61.3" y="241.8" width="1.1" height="1.1" fill="#3c72ad"/>
<rect x="68.5" y="250.5" width="1.1" height="1.1" fill="#3c72ad"/>
<rect x="74.5" y="253.3" width="1.1" height="1.1" fill="#3c72ad"/>
<rect x="71.5" y="258.7" width="1.1" height="1.1" fill="#3c72ad"/>
<rect x="74.5" y="244.6" width="1.1" height="1.1" fill="#3c72ad"/>
<rect x="59.0" y="251.8" width="1.1" height="1.1" fill="#3c72ad"/>
<rect x="73.0" y="242.5" width="1.1" height="1.1" fill="#3c72ad"/>
<rect x="74.2" y="253.6" width="1.1" height="1.1" fill="#3c72ad"/>
<rect x="60.3" y="246.8" width="1.1" height="1.1" fill="#3c72ad"/>
<rect x="60.8" y="254.6" width="1.1" height="1.1" fill="#3c72ad"/>
<rect x="62.3" y="237.5" width="1.1" height="1.1" fill="#3c72ad"/>
<rect x="59.8" y="258.5" width="1.1" height="1.1" fill="#3c72ad"/>
<rect x="66.1" y="255.2" width="1.1" height="1.1" fill="#3c72ad"/>
<rect x="62.3" y="254.9" width="1.1" height="1.1" fill="#3c72ad"/>
<rect x="57.7" y="256.6" width="1.1" height="1.1" fill="#3c72ad"/>
<rect x="76.2" y="248.5" width="1.1" height="1.1" fill="#3c72ad"/>
<rect x="68.6" y="259.4" width="1.1" height="1.1" fill="#3c72ad"/>
<rect x="76.8" y="256.4" width="1.1" height="1.1" fill="#3c72ad"/>
<rect x="67.0" y="256.6" width="1.1" height="1.1" fill="#3c72ad"/>
<rect x="73.7" y="246.7" width="1.1" height="1.1" fill="#3c72ad"/>
<rect x="57.1" y="256.7" width="1.1" height="1.1" fill="#3c72ad"/>
<rect x="72.9" y="259.1" width="1.1" height="1.1" fill="#3c72ad"/>
<rect x="66.5" y="251.9" width="1.1" height="1.1" fill="#3c72ad"/>
<rect x="61.2" y="257.0" width="1.1" height="1.1" fill="#3c72ad"/>
<rect x="55.3" y="257.5" width="1.1" height="1.1" fill="#3c72ad"/>
<rect x="63.5" y="247.2" width="1.1" height="1.1" fill="#3c72ad"/>
<rect x="59.9" y="256.1" width="1.1" height="1.1" fill="#3c72ad"/>
<rect x="66.8" y="254.3" width="1.1" height="1.1" fill="#3c72ad"/>
<rect x="68.2" y="254.0" width="1.1" height="1.1" fill="#3c72ad"/>
<rect x="65.1" y="252.5" width="1.1" height="1.1" fill="#3c72ad"/>
<rect x="74.1" y="255.3" width="1.1" height="1.1" fill="#3c72ad"/>
<rect x="76.4" y="242.9" width="1.1" height="1.1" fill="#3c72ad"/>
<rect x="67.9" y="248.8" width="1.1" height="1.1" fill="#3c72ad"/>
<rect x="63.6" y="255.2" width="1.1" height="1.1" fill="#3c72ad"/>
<rect x="73.9" y="238.4" width="1.1" height="1.1" fill="#3c72ad"/>
<rect x="60.9" y="250.0" width="1.1" height="1.1" fill="#3c72ad"/>
<rect x="63.7" y="253.4" width="1.1" height="1.1" fill="#3c72ad"/>
<rect x="74.3" y="243.9" width="1.1" height="1.1" fill="#3c72ad"/>
<rect x="67.0" y="259.5" width="1.1" height="1.1" fill="#3c72ad"/>
<rect x="74.6" y="256.2" width="1.1" height="1.1" fill="#3c72ad"/>
<rect x="72.5" y="257.5" width="1.1" height="1.1" fill="#3c72ad"/>
<rect x="66.7" y="244.2" width="1.1" height="1.1" fill="#3c72ad"/>
<rect x="67.6" y="259.7" width="1.1" height="1.1" fill="#3c72ad"/>
<rect x="60.0" y="249.1" width="1.1" height="1.1" fill="#3c72ad"/>
<rect x="58.9" y="257.5" width="1.1" height="1.1" fill="#3c72ad"/>
<rect x="71.0" y="240.4" width="1.1" height="1.1" fill="#3c72ad"/>
<rect x="60.9" y="259.2" width="1.1" height="1.1" fill="#3c72ad"/>
<rect x="78.6" y="258.5" width="1.1" height="1.1" fill="#3c72ad"/>
<rect x="58.4" y="252.9" width="1.1" height="1.1" fill="#3c72ad"/>
<rect x="61.2" y="255.1" width="1.1" height="1.1" fill="#3c72ad"/>
<rect x="59.7" y="250.9" width="1.1" height="1.1" fill="#3c72ad"/>
<rect x="65.6" y="253.5" width="1.1" height="1.1" fill="#3c72ad"/>
<rect x="71.2" y="256.6" width="1.1" height="1.1" fill="#3c72ad"/>
<rect x="71.0" y="247.6" width="1.1" height="1.1" fill="#3c72ad"/>
<rect x="58.7" y="255.9" width="1.1" height="1.1" fill="#3c72ad"/>
<rect x="55.6" y="252.5" width="1.1" height="1.1" fill="#3c72ad"/>
<rect x="65.2" y="231.8" width="1.1" height="1.1" fill="#3c72ad"/>
<rect x="59.0" y="258.5" width="1.1" height="1.1" fill="#3c72ad"/>
<rect x="63.9" y="259.8" width="1.1" height="1.1" fill="#3c72ad"/>
<rect x="63.3" y="257.9" width="1.1" height="1.1" fill="#3c72ad"/>
<rect x="60.5" y="243.4" width="1.1" height="1.1" fill="#3c72ad"/>
<rect x="67.8" y="252.2" width="1.1" height="1.1" fill="#3c72ad"/>
<rect x="62.9" y="247.1" width="1.1" height="1.1" fill="#3c72ad"/>
<rect x="61.5" y="255.2" width="1.1" height="1.1" fill="#3c72ad"/>
<rect x="76.9" y="255.2" width="1.1" height="1.1" fill="#3c72ad"/>
<rect x="76.2" y="254.8" width="1.1" height="1.1" fill="#3c72ad"/>
<rect x="66.0" y="249.0" width="1.1" height="1.1" fill="#3c72ad"/>
<rect x="59.8" y="248.3" width="1.1" height="1.1" fill="#3c72ad"/>
<rect x="75.9" y="248.7" width="1.1" height="1.1" fill="#3c72ad"/>
<rect x="72.5" y="257.7" width="1.1" height="1.1" fill="#3c72ad"/>
<rect x="68.7" y="259.0" width="1.1" height="1.1" fill="#3c72ad"/>
<rect x="77.9" y="258.5" width="1.1" height="1.1" fill="#3c72ad"/>
<rect x="64.7" y="252.2" width="1.1" height="1.1" fill="#3c72ad"/>
<rect x="75.7" y="255.2" width="1.1" height="1.1" fill="#3c72ad"/>
<rect x="68.0" y="258.8" width="1.1" height="1.1" fill="#3c72ad"/>
<rect x="66.5" y="259.5" width="1.1" height="1.1" fill="#3c72ad"/>
<rect x="69.5" y="254.2" width="1.1" height="1.1" fill="#3c72ad"/>
<rect x="63.5" y="258.6" width="1.1" height="1.1" fill="#3c72ad"/>
<rect x="60.9" y="249.8" width="1.1" height="1.1" fill="#3c72ad"/>
<rect x="61.2" y="252.7" width="1.1" height="1.1" fill="#3c72ad"/>
<rect x="62.7" y="258.3" width="1.1" height="1.1" fill="#3c72ad"/>
<rect x="71.1" y="257.8" width="1.1" height="1.1" fill="#3c72ad"/>
<rect x="62.9" y="243.8" width="1.1" height="1.1" fill="#3c72ad"/>
<rect x="58.0" y="258.0" width="1.1" height="1.1" fill="#3c72ad"/>
<rect x="58.8" y="259.9" width="1.1" height="1.1" fill="#3c72ad"/>
<rect x="59.5" y="259.0" width="1.1" height="1.1" fill="#3c72ad"/>
<rect x="59.5" y="256.4" width="1.1" height="1.1" fill="#3c72ad"/>
<rect x="69.7" y="257.1" width="1.1" height="1.1" fill="#3c72ad"/>
<rect x="55.7" y="258.1" width="1.1" height="1.1" fill="#3c72ad"/>
<rect x="71.0" y="248.6" width="1.1" height="1.1" fill="#3c72ad"/>
<rect x="65.0" y="240.8" width="1.1" height="1.1" fill="#3c72ad"/>
<rect x="75.8" y="251.5" width="1.1" height="1.1" fill="#3c72ad"/>
<rect x="75.6" y="241.2" width="1.1" height="1.1" fill="#3c72ad"/>
<rect x="62.9" y="244.4" width="1.1" height="1.1" fill="#3c72ad"/>
<rect x="55.3" y="258.6" width="1.1" height="1.1" fill="#3c72ad"/>
<rect x="72.0" y="248.0" width="1.1" height="1.1" fill="#3c72ad"/>
<rect x="70.9" y="252.1" width="1.1" height="1.1" fill="#3c72ad"/>
<rect x="61.5" y="257.6" width="1.1" height="1.1" fill="#3c72ad"/>
<rect x="76.5" y="258.1" width="1.1" height="1.1" fill="#3c72ad"/>
<rect x="58.6" y="256.2" width="1.1" height="1.1" fill="#3c72ad"/>
<rect x="59.1" y="258.3" width="1.1" height="1.1" fill="#3c72ad"/>
<rect x="56.4" y="248.5" width="1.1" height="1.1" fill="#3c72ad"/>
<rect x="76.4" y="259.3" width="1.1" height="1.1" fill="#3c72ad"/>
<rect x="62.1" y="250.7" width="1.1" height="1.1" fill="#3c72ad"/>
<rect x="67.9" y="242.1" width="1.1" height="1.1" fill="#3c72ad"/>
<rect x="78.5" y="256.1" width="1.1" height="1.1" fill="#3c72ad"/>
<rect x="75.2" y="252.2" width="1.1" height="1.1" fill="#3c72ad"/>
<rect x="69.1" y="249.2" width="1.1" height="1.1" fill="#3c72ad"/>
<rect x="66.0" y="242.7" width="1.1" height="1.1" fill="#3c72ad"/>
<rect x="56.6" y="251.9" width="1.1" height="1.1" fill="#3c72ad"/>
<rect x="61.4" y="253.5" width="1.1" height="1.1" fill="#3c72ad"/>
<rect x="70.2" y="232.2" width="1.1" height="1.1" fill="#3c72ad"/>
<rect x="75.6" y="240.8" width="1.1" height="1.1" fill="#3c72ad"/>
<rect x="69.6" y="253.8" width="1.1" height="1.1" fill="#3c72ad"/>
<rect x="60.7" y="257.2" width="1.1" height="1.1" fill="#3c72ad"/>
<rect x="64.7" y="247.8" width="1.1" height="1.1" fill="#3c72ad"/>
<rect x="60.6" y="246.8" width="1.1" height="1.1" fill="#3c72ad"/>
<rect x="75.5" y="257.8" width="1.1" height="1.1" fill="#3c72ad"/>
<rect x="74.7" y="246.6" width="1.1" height="1.1" fill="#3c72ad"/>
<rect x="71.4" y="258.8" width="1.1" height="1.1" fill="#3c72ad"/>
<rect x="71.2" y="257.1" width="1.1" height="1.1" fill="#3c72ad"/>
<rect x="60.5" y="245.6" width="1.1" height="1.1" fill="#3c72ad"/>
<rect x="69.6" y="253.2" width="1.1" height="1.1" fill="#3c72ad"/>
<rect x="71.8" y="258.8" width="1.1" height="1.1" fill="#3c72ad"/>
<rect x="74.9" y="253.2" width="1.1" height="1.1" fill="#3c72ad"/>
<rect x="77.5" y="258.2" width="1.1" height="1.1" fill="#3c72ad"/>
<rect x="62.3" y="254.3" width="1.1" height="1.1" fill="#3c72ad"/>
<rect x="58.4" y="243.4" width="1.1" height="1.1" fill="#3c72ad"/>
<rect x="55.6" y="251.9" width="1.1" height="1.1" fill="#3c72ad"/>
<rect x="71.9" y="242.5" width="1.1" height="1.1" fill="#3c72ad"/>
<rect x="71.4" y="243.9" width="1.1" height="1.1" fill="#3c72ad"/>
<rect x="63.1" y="259.7" width="1.1" height="1.1" fill="#3c72ad"/>
<rect x="77.2" y="259.2" width="1.1" height="1.1" fill="#3c72ad"/>
<rect x="59.8" y="256.3" width="1.1" height="1.1" fill="#3c72ad"/>
<rect x="58.0" y="253.4" width="1.1" height="1.1" fill="#3c72ad"/>
<rect x="64.8" y="254.6" width="1.1" height="1.1" fill="#3c72ad"/>
<rect x="58.6" y="255.9" width="1.1" height="1.1" fill="#3c72ad"/>
<rect x="76.9" y="259.4" width="1.1" height="1.1" fill="#3c72ad"/>
<rect x="77.2" y="257.1" width="1.1" height="1.1" fill="#3c72ad"/>
<rect x="73.7" y="257.6" width="1.1" height="1.1" fill="#3c72ad"/>
<rect x="68.9" y="249.5" width="1.1" height="1.1" fill="#3c72ad"/>
<rect x="61.2" y="259.8" width="1.1" height="1.1" fill="#3c72ad"/>
<rect x="71.8" y="242.6" width="1.1" height="1.1" fill="#3c72ad"/>
<rect x="72.1" y="257.8" width="1.1" height="1.1" fill="#3c72ad"/>
<rect x="64.2" y="243.4" width="1.1" height="1.1" fill="#3c72ad"/>
<rect x="73.9" y="259.7" width="1.1" height="1.1" fill="#3c72ad"/>
<rect x="59.5" y="259.8" width="1.1" height="1.1" fill="#3c72ad"/>
<rect x="71.8" y="239.8" width="1.1" height="1.1" fill="#3c72ad"/>
<rect x="58.1" y="256.8" width="1.1" height="1.1" fill="#3c72ad"/>
<rect x="75.0" y="244.1" width="1.1" height="1.1" fill="#3c72ad"/>
<rect x="72.8" y="253.8" width="1.1" height="1.1" fill="#3c72ad"/>
<rect x="55.7" y="257.9" width="1.1" height="1.1" fill="#3c72ad"/>
<rect x="64.5" y="252.2" width="1.1" height="1.1" fill="#3c72ad"/>
<rect x="76.7" y="257.4" width="1.1" height="1.1" fill="#22354f"/>
<rect x="67.3" y="255.5" width="1.1" height="1.1" fill="#22354f"/>
<rect x="58.3" y="253.0" width="1.1" height="1.1" fill="#22354f"/>
<rect x="78.0" y="251.5" width="1.1" height="1.1" fill="#22354f"/>
<rect x="67.0" y="248.6" width="1.1" height="1.1" fill="#22354f"/>
<rect x="66.7" y="243.9" width="1.1" height="1.1" fill="#22354f"/>
<rect x="56.3" y="247.0" width="1.1" height="1.1" fill="#22354f"/>
<rect x="63.1" y="257.4" width="1.1" height="1.1" fill="#22354f"/>
<rect x="77.5" y="246.0" width="1.1" height="1.1" fill="#22354f"/>
<rect x="72.7" y="249.6" width="1.1" height="1.1" fill="#22354f"/>
<rect x="74.7" y="234.6" width="1.1" height="1.1" fill="#22354f"/>
<rect x="58.3" y="253.9" width="1.1" height="1.1" fill="#22354f"/>
<rect x="76.3" y="240.7" width="1.1" height="1.1" fill="#22354f"/>
<rect x="72.5" y="252.8" width="1.1" height="1.1" fill="#22354f"/>
<rect x="66.3" y="250.1" width="1.1" height="1.1" fill="#22354f"/>
<rect x="55.5" y="258.6" width="1.1" height="1.1" fill="#22354f"/>
<rect x="66.5" y="242.8" width="1.1" height="1.1" fill="#22354f"/>
<rect x="75.0" y="253.0" width="1.1" height="1.1" fill="#22354f"/>
<rect x="57.5" y="251.9" width="1.1" height="1.1" fill="#22354f"/>
<rect x="70.2" y="256.5" width="1.1" height="1.1" fill="#22354f"/>
<rect x="77.9" y="253.0" width="1.1" height="1.1" fill="#22354f"/>
<rect x="75.6" y="253.5" width="1.1" height="1.1" fill="#22354f"/>
<rect x="75.0" y="257.7" width="1.1" height="1.1" fill="#22354f"/>
<rect x="57.7" y="256.3" width="1.1" height="1.1" fill="#22354f"/>
<rect x="63.4" y="255.0" width="1.1" height="1.1" fill="#22354f"/>
<rect x="69.9" y="256.8" width="1.1" height="1.1" fill="#22354f"/>
<rect x="62.7" y="239.1" width="1.1" height="1.1" fill="#22354f"/>
<rect x="68.7" y="248.0" width="1.1" height="1.1" fill="#22354f"/>
<rect x="55.3" y="259.1" width="1.1" height="1.1" fill="#22354f"/>
<rect x="66.9" y="255.2" width="1.1" height="1.1" fill="#22354f"/>
<rect x="60.1" y="258.0" width="1.1" height="1.1" fill="#22354f"/>
<rect x="78.6" y="249.6" width="1.1" height="1.1" fill="#22354f"/>
<rect x="58.2" y="256.5" width="1.1" height="1.1" fill="#22354f"/>
<rect x="60.6" y="256.5" width="1.1" height="1.1" fill="#22354f"/>
<rect x="55.6" y="256.7" width="1.1" height="1.1" fill="#22354f"/>
<rect x="68.4" y="243.4" width="1.1" height="1.1" fill="#22354f"/>
<rect x="58.3" y="258.9" width="1.1" height="1.1" fill="#22354f"/>
<rect x="73.6" y="240.3" width="1.1" height="1.1" fill="#22354f"/>
<rect x="60.8" y="240.7" width="1.1" height="1.1" fill="#22354f"/>
<rect x="67.3" y="240.7" width="1.1" height="1.1" fill="#22354f"/>
<rect x="57.6" y="251.8" width="1.1" height="1.1" fill="#22354f"/>
<rect x="73.9" y="258.9" width="1.1" height="1.1" fill="#22354f"/>
<rect x="63.2" y="256.6" width="1.1" height="1.1" fill="#22354f"/>
<rect x="57.7" y="254.9" width="1.1" height="1.1" fill="#22354f"/>
<rect x="66.0" y="251.6" width="1.1" height="1.1" fill="#22354f"/>
<rect x="70.6" y="251.6" width="1.1" height="1.1" fill="#22354f"/>
<rect x="65.5" y="257.9" width="1.1" height="1.1" fill="#22354f"/>
<rect x="65.2" y="243.0" width="1.1" height="1.1" fill="#22354f"/>
<rect x="69.2" y="257.3" width="1.1" height="1.1" fill="#22354f"/>
<rect x="72.5" y="232.7" width="1.1" height="1.1" fill="#22354f"/>
<rect x="96.9" y="256.5" width="1.1" height="1.1" fill="#d23a5a"/>
<rect x="96.0" y="258.5" width="1.1" height="1.1" fill="#d23a5a"/>
<rect x="92.6" y="255.8" width="1.1" height="1.1" fill="#d23a5a"/>
<rect x="108.1" y="258.4" width="1.1" height="1.1" fill="#d23a5a"/>
<rect x="115.9" y="248.1" width="1.1" height="1.1" fill="#d23a5a"/>
<rect x="100.4" y="253.0" width="1.1" height="1.1" fill="#d23a5a"/>
<rect x="98.9" y="258.0" width="1.1" height="1.1" fill="#d23a5a"/>
<rect x="101.1" y="254.2" width="1.1" height="1.1" fill="#d23a5a"/>
<rect x="106.1" y="260.1" width="1.1" height="1.1" fill="#d23a5a"/>
<rect x="107.6" y="259.2" width="1.1" height="1.1" fill="#d23a5a"/>
<rect x="107.6" y="258.3" width="1.1" height="1.1" fill="#d23a5a"/>
<rect x="113.2" y="246.2" width="1.1" height="1.1" fill="#d23a5a"/>
<rect x="89.0" y="250.5" width="1.1" height="1.1" fill="#d23a5a"/>
<rect x="104.7" y="259.9" width="1.1" height="1.1" fill="#d23a5a"/>
<rect x="115.0" y="256.0" width="1.1" height="1.1" fill="#d23a5a"/>
<rect x="98.4" y="255.5" width="1.1" height="1.1" fill="#d23a5a"/>
<rect x="99.2" y="253.6" width="1.1" height="1.1" fill="#d23a5a"/>
<rect x="94.4" y="250.9" width="1.1" height="1.1" fill="#d23a5a"/>
<rect x="101.5" y="259.5" width="1.1" height="1.1" fill="#d23a5a"/>
<rect x="91.8" y="255.7" width="1.1" height="1.1" fill="#d23a5a"/>
<rect x="99.9" y="243.1" width="1.1" height="1.1" fill="#d23a5a"/>
<rect x="111.6" y="258.3" width="1.1" height="1.1" fill="#d23a5a"/>
<rect x="93.2" y="259.8" width="1.1" height="1.1" fill="#d23a5a"/>
<rect x="88.8" y="250.8" width="1.1" height="1.1" fill="#d23a5a"/>
<rect x="113.6" y="249.8" width="1.1" height="1.1" fill="#d23a5a"/>
<rect x="115.8" y="254.0" width="1.1" height="1.1" fill="#d23a5a"/>
<rect x="102.4" y="258.4" width="1.1" height="1.1" fill="#d23a5a"/>
<rect x="103.6" y="256.0" width="1.1" height="1.1" fill="#d23a5a"/>
<rect x="96.9" y="258.9" width="1.1" height="1.1" fill="#d23a5a"/>
<rect x="106.2" y="252.8" width="1.1" height="1.1" fill="#d23a5a"/>
<rect x="91.9" y="244.9" width="1.1" height="1.1" fill="#d23a5a"/>
<rect x="101.1" y="260.1" width="1.1" height="1.1" fill="#d23a5a"/>
<rect x="98.3" y="254.9" width="1.1" height="1.1" fill="#d23a5a"/>
<rect x="114.2" y="257.1" width="1.1" height="1.1" fill="#d23a5a"/>
<rect x="93.0" y="246.8" width="1.1" height="1.1" fill="#d23a5a"/>
<rect x="103.7" y="255.8" width="1.1" height="1.1" fill="#d23a5a"/>
<rect x="95.4" y="251.2" width="1.1" height="1.1" fill="#d23a5a"/>
<rect x="99.3" y="255.5" width="1.1" height="1.1" fill="#d23a5a"/>
<rect x="97.2" y="252.9" width="1.1" height="1.1" fill="#d23a5a"/>
<rect x="92.8" y="256.8" width="1.1" height="1.1" fill="#d23a5a"/>
<rect x="116.6" y="252.5" width="1.1" height="1.1" fill="#d23a5a"/>
<rect x="105.4" y="256.7" width="1.1" height="1.1" fill="#d23a5a"/>
<rect x="103.3" y="258.6" width="1.1" height="1.1" fill="#d23a5a"/>
<rect x="92.3" y="251.4" width="1.1" height="1.1" fill="#d23a5a"/>
<rect x="116.3" y="259.0" width="1.1" height="1.1" fill="#d23a5a"/>
<rect x="112.0" y="258.3" width="1.1" height="1.1" fill="#d23a5a"/>
<rect x="114.5" y="255.4" width="1.1" height="1.1" fill="#d23a5a"/>
<rect x="88.8" y="256.7" width="1.1" height="1.1" fill="#d23a5a"/>
<rect x="106.1" y="253.8" width="1.1" height="1.1" fill="#d23a5a"/>
<rect x="105.5" y="246.2" width="1.1" height="1.1" fill="#d23a5a"/>
<rect x="106.7" y="258.7" width="1.1" height="1.1" fill="#d23a5a"/>
<rect x="103.7" y="255.6" width="1.1" height="1.1" fill="#d23a5a"/>
<rect x="90.5" y="255.7" width="1.1" height="1.1" fill="#d23a5a"/>
<rect x="109.0" y="254.6" width="1.1" height="1.1" fill="#d23a5a"/>
<rect x="110.8" y="243.3" width="1.1" height="1.1" fill="#d23a5a"/>
<rect x="90.2" y="253.8" width="1.1" height="1.1" fill="#d23a5a"/>
<rect x="88.9" y="258.8" width="1.1" height="1.1" fill="#d23a5a"/>
<rect x="112.9" y="256.8" width="1.1" height="1.1" fill="#d23a5a"/>
<rect x="112.7" y="248.5" width="1.1" height="1.1" fill="#d23a5a"/>
<rect x="100.3" y="257.5" width="1.1" height="1.1" fill="#d23a5a"/>
<rect x="101.2" y="249.3" width="1.1" height="1.1" fill="#d23a5a"/>
<rect x="112.4" y="253.4" width="1.1" height="1.1" fill="#d23a5a"/>
<rect x="106.4" y="254.8" width="1.1" height="1.1" fill="#d23a5a"/>
<rect x="113.2" y="253.7" width="1.1" height="1.1" fill="#d23a5a"/>
<rect x="115.6" y="255.2" width="1.1" height="1.1" fill="#d23a5a"/>
<rect x="92.2" y="258.8" width="1.1" height="1.1" fill="#d23a5a"/>
<rect x="89.0" y="248.3" width="1.1" height="1.1" fill="#d23a5a"/>
<rect x="101.4" y="258.9" width="1.1" height="1.1" fill="#d23a5a"/>
<rect x="101.4" y="255.7" width="1.1" height="1.1" fill="#d23a5a"/>
<rect x="113.9" y="256.5" width="1.1" height="1.1" fill="#d23a5a"/>
<rect x="106.5" y="256.2" width="1.1" height="1.1" fill="#d23a5a"/>
<rect x="106.3" y="259.1" width="1.1" height="1.1" fill="#d23a5a"/>
<rect x="97.5" y="250.0" width="1.1" height="1.1" fill="#d23a5a"/>
<rect x="91.7" y="260.1" width="1.1" height="1.1" fill="#d23a5a"/>
<rect x="99.9" y="251.9" width="1.1" height="1.1" fill="#d23a5a"/>
<rect x="111.3" y="258.4" width="1.1" height="1.1" fill="#d23a5a"/>
<rect x="108.0" y="257.4" width="1.1" height="1.1" fill="#d23a5a"/>
<rect x="105.0" y="252.8" width="1.1" height="1.1" fill="#d23a5a"/>
<rect x="102.4" y="256.3" width="1.1" height="1.1" fill="#d23a5a"/>
<rect x="108.5" y="259.6" width="1.1" height="1.1" fill="#d23a5a"/>
<rect x="103.9" y="256.4" width="1.1" height="1.1" fill="#d23a5a"/>
<rect x="99.1" y="249.3" width="1.1" height="1.1" fill="#d23a5a"/>
<rect x="103.8" y="253.9" width="1.1" height="1.1" fill="#d23a5a"/>
<rect x="114.7" y="247.5" width="1.1" height="1.1" fill="#d23a5a"/>
<rect x="110.0" y="252.5" width="1.1" height="1.1" fill="#d23a5a"/>
<rect x="96.7" y="250.9" width="1.1" height="1.1" fill="#d23a5a"/>
<rect x="111.0" y="259.1" width="1.1" height="1.1" fill="#d23a5a"/>
<rect x="94.6" y="257.2" width="1.1" height="1.1" fill="#d23a5a"/>
<rect x="89.2" y="259.1" width="1.1" height="1.1" fill="#d23a5a"/>
<rect x="90.0" y="255.8" width="1.1" height="1.1" fill="#d23a5a"/>
<rect x="111.5" y="248.3" width="1.1" height="1.1" fill="#d23a5a"/>
<rect x="106.9" y="244.9" width="1.1" height="1.1" fill="#d23a5a"/>
<rect x="115.1" y="256.4" width="1.1" height="1.1" fill="#d23a5a"/>
<rect x="104.2" y="257.6" width="1.1" height="1.1" fill="#d23a5a"/>
<rect x="114.6" y="257.4" width="1.1" height="1.1" fill="#d23a5a"/>
<rect x="91.1" y="259.8" width="1.1" height="1.1" fill="#d23a5a"/>
<rect x="94.1" y="258.6" width="1.1" height="1.1" fill="#d23a5a"/>
<rect x="114.8" y="255.9" width="1.1" height="1.1" fill="#d23a5a"/>
<rect x="100.6" y="259.9" width="1.1" height="1.1" fill="#d23a5a"/>
<rect x="115.6" y="256.3" width="1.1" height="1.1" fill="#d23a5a"/>
<rect x="95.2" y="250.7" width="1.1" height="1.1" fill="#d23a5a"/>
<rect x="113.7" y="255.4" width="1.1" height="1.1" fill="#d23a5a"/>
<rect x="115.2" y="257.9" width="1.1" height="1.1" fill="#d23a5a"/>
<rect x="96.6" y="254.8" width="1.1" height="1.1" fill="#d23a5a"/>
<rect x="105.8" y="259.9" width="1.1" height="1.1" fill="#d23a5a"/>
<rect x="101.5" y="247.0" width="1.1" height="1.1" fill="#d23a5a"/>
<rect x="90.7" y="250.1" width="1.1" height="1.1" fill="#d23a5a"/>
<rect x="106.1" y="259.5" width="1.1" height="1.1" fill="#d23a5a"/>
<rect x="92.5" y="257.2" width="1.1" height="1.1" fill="#d23a5a"/>
<rect x="99.3" y="259.4" width="1.1" height="1.1" fill="#d23a5a"/>
<rect x="95.7" y="259.2" width="1.1" height="1.1" fill="#d23a5a"/>
<rect x="102.0" y="252.8" width="1.1" height="1.1" fill="#d23a5a"/>
<rect x="114.3" y="257.4" width="1.1" height="1.1" fill="#d23a5a"/>
<rect x="96.4" y="258.1" width="1.1" height="1.1" fill="#d23a5a"/>
<rect x="106.5" y="259.4" width="1.1" height="1.1" fill="#d23a5a"/>
<rect x="102.8" y="258.7" width="1.1" height="1.1" fill="#d23a5a"/>
<rect x="108.5" y="251.6" width="1.1" height="1.1" fill="#d23a5a"/>
<rect x="90.5" y="258.3" width="1.1" height="1.1" fill="#d23a5a"/>
<rect x="106.0" y="242.6" width="1.1" height="1.1" fill="#d23a5a"/>
<rect x="90.5" y="255.3" width="1.1" height="1.1" fill="#d23a5a"/>
<rect x="106.9" y="252.3" width="1.1" height="1.1" fill="#444"/>
<rect x="95.8" y="258.6" width="1.1" height="1.1" fill="#444"/>
<rect x="97.9" y="239.5" width="1.1" height="1.1" fill="#444"/>
<rect x="104.4" y="255.5" width="1.1" height="1.1" fill="#444"/>
<rect x="99.8" y="256.5" width="1.1" height="1.1" fill="#444"/>
<rect x="109.4" y="254.0" width="1.1" height="1.1" fill="#444"/>
<rect x="90.3" y="253.2" width="1.1" height="1.1" fill="#444"/>
<rect x="93.3" y="254.5" width="1.1" height="1.1" fill="#444"/>
<rect x="115.2" y="258.9" width="1.1" height="1.1" fill="#444"/>
<rect x="91.4" y="257.1" width="1.1" height="1.1" fill="#444"/>
<rect x="109.5" y="256.6" width="1.1" height="1.1" fill="#444"/>
<rect x="96.8" y="253.8" width="1.1" height="1.1" fill="#444"/>
<rect x="90.6" y="251.4" width="1.1" height="1.1" fill="#444"/>
<rect x="110.1" y="257.4" width="1.1" height="1.1" fill="#444"/>
<rect x="99.1" y="248.5" width="1.1" height="1.1" fill="#444"/>
<rect x="114.4" y="254.0" width="1.1" height="1.1" fill="#444"/>
<rect x="95.5" y="257.8" width="1.1" height="1.1" fill="#444"/>
<rect x="90.4" y="258.0" width="1.1" height="1.1" fill="#444"/>
<rect x="115.1" y="255.1" width="1.1" height="1.1" fill="#444"/>
<rect x="110.2" y="253.6" width="1.1" height="1.1" fill="#444"/>
<rect x="108.4" y="251.3" width="1.1" height="1.1" fill="#444"/>
<rect x="96.4" y="258.8" width="1.1" height="1.1" fill="#444"/>
<rect x="112.2" y="259.8" width="1.1" height="1.1" fill="#444"/>
<rect x="97.4" y="254.5" width="1.1" height="1.1" fill="#444"/>
<rect x="94.0" y="256.6" width="1.1" height="1.1" fill="#444"/>
<rect x="69.2" y="248.5" width="1.0" height="1.0" fill="#666"/>
<rect x="50.7" y="251.7" width="1.0" height="1.0" fill="#666"/>
<rect x="72.6" y="257.2" width="1.0" height="1.0" fill="#666"/>
<rect x="63.4" y="251.3" width="1.0" height="1.0" fill="#666"/>
<rect x="55.9" y="243.7" width="1.0" height="1.0" fill="#666"/>
<rect x="57.7" y="252.5" width="1.0" height="1.0" fill="#666"/>
<rect x="67.4" y="257.1" width="1.0" height="1.0" fill="#666"/>
<rect x="75.1" y="258.9" width="1.0" height="1.0" fill="#666"/>
<rect x="54.5" y="244.0" width="1.0" height="1.0" fill="#666"/>
<rect x="112.3" y="246.4" width="1.0" height="1.0" fill="#777"/>
<rect x="121.3" y="246.9" width="1.0" height="1.0" fill="#777"/>
<rect x="117.7" y="256.6" width="1.0" height="1.0" fill="#777"/>
<rect x="123.3" y="246.6" width="1.0" height="1.0" fill="#777"/>
<rect x="101.7" y="243.1" width="1.0" height="1.0" fill="#777"/>
<rect x="96.9" y="241.9" width="1.0" height="1.0" fill="#777"/>
<rect x="114.0" y="257.4" width="1.0" height="1.0" fill="#777"/>
<rect x="120.8" y="246.0" width="1.0" height="1.0" fill="#777"/>
<rect x="104.9" y="243.0" width="1.0" height="1.0" fill="#777"/>
<rect x="49.4" y="215.4" width="1.2" height="1.2" fill="#777"/>
<rect x="61.4" y="212.4" width="1.2" height="1.2" fill="#777"/>
<rect x="63.4" y="216.4" width="1.2" height="1.2" fill="#777"/>
<rect x="117.9" y="245.9" width="1.2" height="1.2" fill="#777"/>
<rect x="125.4" y="265.4" width="1.2" height="1.2" fill="#555"/>
<rect x="60.4" y="234.4" width="1.2" height="1.2" fill="#888"/>
<rect x="69.4" y="228.4" width="1.2" height="1.2" fill="#888"/>
<rect x="109.4" y="232.4" width="1.2" height="1.2" fill="#888"/>
</g>
<rect x="33.60" y="208.00" width="101.00" height="71.50" stroke="#231f20" stroke-width="1.1" fill="none"/>
<line x1="30.20" y1="210.30" x2="33.60" y2="210.30" stroke="#231f20" stroke-width="0.85"/>
<text x="27.20" y="212.50" font-size="6.3" text-anchor="end" fill="#231f20" >12</text>
<line x1="30.20" y1="227.03" x2="33.60" y2="227.03" stroke="#231f20" stroke-width="0.85"/>
<text x="27.20" y="229.23" font-size="6.3" text-anchor="end" fill="#231f20" >8</text>
<line x1="30.20" y1="243.76" x2="33.60" y2="243.76" stroke="#231f20" stroke-width="0.85"/>
<text x="27.20" y="245.96" font-size="6.3" text-anchor="end" fill="#231f20" >6</text>
<line x1="30.20" y1="260.49" x2="33.60" y2="260.49" stroke="#231f20" stroke-width="0.85"/>
<text x="27.20" y="262.69" font-size="6.3" text-anchor="end" fill="#231f20" >4</text>
<line x1="30.20" y1="277.22" x2="33.60" y2="277.22" stroke="#231f20" stroke-width="0.85"/>
<text x="27.20" y="279.42" font-size="6.3" text-anchor="end" fill="#231f20" >0</text>
<line x1="37.10" y1="279.50" x2="37.10" y2="282.20" stroke="#231f20" stroke-width="0.85"/>
<text x="37.10" y="291.40" font-size="6.3" text-anchor="middle" fill="#231f20" >−10</text>
<line x1="60.70" y1="279.50" x2="60.70" y2="282.20" stroke="#231f20" stroke-width="0.85"/>
<text x="60.70" y="291.40" font-size="6.3" text-anchor="middle" fill="#231f20" >−5</text>
<line x1="84.30" y1="279.50" x2="84.30" y2="282.20" stroke="#231f20" stroke-width="0.85"/>
<text x="84.30" y="291.40" font-size="6.3" text-anchor="middle" fill="#231f20" >0</text>
<line x1="107.90" y1="279.50" x2="107.90" y2="282.20" stroke="#231f20" stroke-width="0.85"/>
<text x="107.90" y="291.40" font-size="6.3" text-anchor="middle" fill="#231f20" >5</text>
<line x1="131.50" y1="279.50" x2="131.50" y2="282.20" stroke="#231f20" stroke-width="0.85"/>
<text x="131.50" y="291.40" font-size="6.3" text-anchor="middle" fill="#231f20" >10</text>
<text x="0" y="0" font-size="7.9" text-anchor="middle" fill="#231f20" stroke="#231f20" stroke-width="0.15" transform="translate(84.00,304.30) scale(0.72,1)">Log<tspan font-size="5" dy="1.6">2</tspan><tspan dy="-1.6">(fold change)</tspan></text>
<text x="0" y="0" font-size="8.0" text-anchor="middle" fill="#231f20" stroke="#231f20" stroke-width="0.15" transform="translate(14.4,244.05) rotate(-90) scale(0.77,1)">-Log<tspan font-size="5.5" dy="1.8">10</tspan><tspan dy="-1.8">(FDR)</tspan></text>
<text x="140.80" y="228.60" font-size="6.0" text-anchor="start" fill="#231f20" >DEG (FDR&lt;0.05)</text>
<circle cx="143.50" cy="236.50" r="2.25" fill="#b5162d"/>
<text x="149.80" y="238.60" font-size="6.0" text-anchor="start" fill="#231f20" >Upregulation in</text>
<text x="149.80" y="245.90" font-size="6.0" text-anchor="start" fill="#231f20" >R/R (114 genes)</text>
<circle cx="143.50" cy="253.50" r="2.25" fill="#1e3f6b"/>
<text x="149.80" y="255.60" font-size="6.0" text-anchor="start" fill="#231f20" >Downregulation in</text>
<text x="149.80" y="262.90" font-size="6.0" text-anchor="start" fill="#231f20" >R/R (207 genes)</text>
<text x="6.60" y="354.20" font-size="11.0" text-anchor="start" fill="#231f20" font-weight="bold">C</text>
<text x="83.60" y="364.60" font-size="7.9" text-anchor="middle" fill="#231f20" >Non-naive vs. treatment-naive</text>
<text x="83.60" y="374.00" font-size="7.9" text-anchor="middle" fill="#231f20" >in pts with CR</text>
<clipPath id="cC"><rect x="33.3" y="379.6" width="100.7" height="71.59999999999997"/></clipPath>
<g clip-path="url(#cC)">
<polygon fill="#000" points="80.60,429.00 80.50,428.99 80.29,428.97 79.98,428.93 79.57,428.89 79.05,428.84 78.43,428.77 77.71,428.69 76.89,428.61 76.06,428.54 75.22,428.50 74.38,428.48 73.53,428.48 72.67,428.50 71.81,428.54 70.94,428.61 70.06,428.69 69.20,428.79 68.36,428.91 67.53,429.03 66.72,429.17 65.92,429.32 65.14,429.48 64.38,429.66 63.62,429.84 62.89,430.05 62.17,430.27 61.47,430.50 60.78,430.75 60.11,431.02 59.45,431.30 58.81,431.59 58.19,431.91 57.59,432.24 57.01,432.60 56.45,432.98 55.92,433.39 55.41,433.82 54.93,434.27 54.47,434.75 54.03,435.25 53.65,435.75 53.32,436.25 53.05,436.75 52.83,437.25 52.66,437.75 52.55,438.25 52.50,438.75 52.50,439.25 52.55,439.72 52.66,440.17 52.83,440.58 53.05,440.97 53.32,441.33 53.65,441.66 54.03,441.96 54.47,442.24 55.04,442.52 55.74,442.82 56.58,443.12 57.55,443.43 58.65,443.75 59.88,444.08 61.25,444.42 62.75,444.78 64.31,445.12 65.93,445.47 67.61,445.81 69.34,446.14 71.14,446.48 73.00,446.81 74.91,447.14 76.89,447.46 78.62,447.75 80.10,447.99 81.33,448.19 82.32,448.36 83.06,448.48 83.55,448.56 83.80,448.60"/>
<polygon fill="#000" points="87.40,429.00 87.50,428.99 87.71,428.98 88.02,428.95 88.43,428.92 88.95,428.88 89.57,428.84 90.29,428.78 91.11,428.72 91.94,428.68 92.78,428.66 93.62,428.67 94.48,428.70 95.33,428.76 96.19,428.84 97.06,428.94 97.94,429.06 98.80,429.20 99.64,429.36 100.47,429.53 101.28,429.72 102.08,429.92 102.86,430.14 103.62,430.38 104.38,430.62 105.09,430.88 105.78,431.15 106.44,431.42 107.06,431.70 107.66,431.99 108.22,432.29 108.75,432.59 109.25,432.91 109.72,433.24 110.16,433.60 110.56,433.98 110.94,434.39 111.28,434.82 111.59,435.27 111.88,435.75 112.12,436.25 112.32,436.74 112.46,437.23 112.55,437.70 112.58,438.17 112.55,438.63 112.48,439.09 112.34,439.53 112.16,439.97 111.80,440.41 111.27,440.87 110.56,441.33 109.69,441.80 108.64,442.27 107.42,442.76 106.03,443.25 104.47,443.75 102.86,444.24 101.22,444.71 99.53,445.17 97.80,445.61 96.02,446.04 94.21,446.45 92.35,446.86 90.45,447.24 88.79,447.58 87.36,447.87 86.17,448.12 85.22,448.31 84.51,448.45 84.04,448.55 83.80,448.60"/>
<rect x="60.3" y="428.7" width="1.1" height="1.1" fill="#111"/>
<rect x="59.9" y="429.0" width="1.1" height="1.1" fill="#111"/>
<rect x="84.4" y="443.1" width="1.1" height="1.1" fill="#111"/>
<rect x="61.5" y="429.0" width="1.1" height="1.1" fill="#111"/>
<rect x="58.9" y="429.6" width="1.1" height="1.1" fill="#111"/>
<rect x="75.3" y="426.3" width="1.1" height="1.1" fill="#111"/>
<rect x="61.4" y="425.6" width="1.1" height="1.1" fill="#333"/>
<rect x="88.7" y="447.8" width="1.1" height="1.1" fill="#333"/>
<rect x="86.8" y="443.5" width="1.1" height="1.1" fill="#333"/>
<rect x="67.7" y="427.9" width="1.1" height="1.1" fill="#111"/>
<rect x="43.3" y="436.1" width="1.1" height="1.1" fill="#333"/>
<rect x="65.5" y="427.1" width="1.1" height="1.1" fill="#111"/>
<rect x="66.4" y="426.3" width="1.1" height="1.1" fill="#111"/>
<rect x="54.1" y="433.1" width="1.1" height="1.1" fill="#111"/>
<rect x="90.5" y="432.7" width="1.1" height="1.1" fill="#333"/>
<rect x="54.3" y="432.1" width="1.1" height="1.1" fill="#111"/>
<rect x="53.1" y="434.8" width="1.1" height="1.1" fill="#111"/>
<rect x="85.3" y="437.8" width="1.1" height="1.1" fill="#333"/>
<rect x="53.4" y="433.9" width="1.1" height="1.1" fill="#111"/>
<rect x="84.5" y="446.2" width="1.1" height="1.1" fill="#111"/>
<rect x="67.8" y="425.0" width="1.1" height="1.1" fill="#333"/>
<rect x="51.2" y="434.5" width="1.1" height="1.1" fill="#111"/>
<rect x="58.0" y="426.8" width="1.1" height="1.1" fill="#333"/>
<rect x="84.4" y="445.2" width="1.1" height="1.1" fill="#111"/>
<rect x="52.2" y="428.9" width="1.1" height="1.1" fill="#333"/>
<rect x="69.3" y="424.6" width="1.1" height="1.1" fill="#333"/>
<rect x="72.1" y="427.7" width="1.1" height="1.1" fill="#111"/>
<rect x="63.4" y="429.0" width="1.1" height="1.1" fill="#111"/>
<rect x="77.1" y="426.9" width="1.1" height="1.1" fill="#111"/>
<rect x="75.8" y="426.9" width="1.1" height="1.1" fill="#111"/>
<rect x="50.9" y="434.1" width="1.1" height="1.1" fill="#111"/>
<rect x="58.0" y="430.9" width="1.1" height="1.1" fill="#111"/>
<rect x="58.8" y="428.8" width="1.1" height="1.1" fill="#111"/>
<rect x="88.3" y="432.2" width="1.1" height="1.1" fill="#333"/>
<rect x="71.3" y="427.3" width="1.1" height="1.1" fill="#111"/>
<rect x="88.6" y="443.4" width="1.1" height="1.1" fill="#333"/>
<rect x="79.1" y="427.0" width="1.1" height="1.1" fill="#111"/>
<rect x="63.5" y="428.4" width="1.1" height="1.1" fill="#111"/>
<rect x="77.7" y="424.1" width="1.1" height="1.1" fill="#333"/>
<rect x="77.8" y="425.0" width="1.1" height="1.1" fill="#333"/>
<rect x="70.6" y="426.9" width="1.1" height="1.1" fill="#111"/>
<rect x="56.5" y="429.1" width="1.1" height="1.1" fill="#333"/>
<rect x="51.8" y="435.7" width="1.1" height="1.1" fill="#111"/>
<rect x="87.5" y="443.6" width="1.1" height="1.1" fill="#333"/>
<rect x="74.8" y="425.9" width="1.1" height="1.1" fill="#111"/>
<rect x="44.9" y="431.8" width="1.1" height="1.1" fill="#333"/>
<rect x="54.6" y="431.9" width="1.1" height="1.1" fill="#111"/>
<rect x="69.5" y="426.2" width="1.1" height="1.1" fill="#111"/>
<rect x="55.2" y="432.6" width="1.1" height="1.1" fill="#111"/>
<rect x="47.8" y="435.7" width="1.1" height="1.1" fill="#333"/>
<rect x="60.7" y="427.9" width="1.1" height="1.1" fill="#111"/>
<rect x="47.0" y="435.1" width="1.1" height="1.1" fill="#333"/>
<rect x="53.1" y="431.5" width="1.1" height="1.1" fill="#111"/>
<rect x="60.8" y="427.9" width="1.1" height="1.1" fill="#111"/>
<rect x="53.3" y="433.9" width="1.1" height="1.1" fill="#111"/>
<rect x="56.6" y="429.7" width="1.1" height="1.1" fill="#111"/>
<rect x="75.9" y="424.6" width="1.1" height="1.1" fill="#333"/>
<rect x="44.2" y="433.1" width="1.1" height="1.1" fill="#333"/>
<rect x="85.6" y="442.8" width="1.1" height="1.1" fill="#333"/>
<rect x="72.4" y="426.9" width="1.1" height="1.1" fill="#111"/>
<rect x="87.7" y="443.9" width="1.1" height="1.1" fill="#333"/>
<rect x="57.6" y="431.3" width="1.1" height="1.1" fill="#111"/>
<rect x="86.2" y="440.3" width="1.1" height="1.1" fill="#333"/>
<rect x="79.0" y="427.7" width="1.1" height="1.1" fill="#111"/>
<rect x="52.1" y="434.4" width="1.1" height="1.1" fill="#111"/>
<rect x="47.6" y="433.9" width="1.1" height="1.1" fill="#333"/>
<rect x="58.5" y="424.3" width="1.1" height="1.1" fill="#333"/>
<rect x="87.1" y="436.9" width="1.1" height="1.1" fill="#333"/>
<rect x="83.3" y="448.5" width="1.1" height="1.1" fill="#111"/>
<rect x="85.1" y="440.3" width="1.1" height="1.1" fill="#333"/>
<rect x="92.4" y="428.0" width="1.1" height="1.1" fill="#333"/>
<rect x="54.6" y="430.8" width="1.1" height="1.1" fill="#111"/>
<rect x="50.4" y="433.9" width="1.1" height="1.1" fill="#333"/>
<rect x="53.5" y="433.1" width="1.1" height="1.1" fill="#111"/>
<rect x="54.0" y="433.8" width="1.1" height="1.1" fill="#111"/>
<rect x="75.5" y="425.0" width="1.1" height="1.1" fill="#333"/>
<rect x="51.7" y="436.7" width="1.1" height="1.1" fill="#111"/>
<rect x="88.8" y="447.5" width="1.1" height="1.1" fill="#333"/>
<rect x="65.2" y="425.3" width="1.1" height="1.1" fill="#333"/>
<rect x="49.4" y="436.5" width="1.1" height="1.1" fill="#333"/>
<rect x="84.6" y="446.4" width="1.1" height="1.1" fill="#111"/>
<rect x="57.2" y="430.0" width="1.1" height="1.1" fill="#111"/>
<rect x="73.0" y="427.0" width="1.1" height="1.1" fill="#111"/>
<rect x="56.6" y="431.2" width="1.1" height="1.1" fill="#111"/>
<rect x="57.1" y="429.3" width="1.1" height="1.1" fill="#111"/>
<rect x="50.3" y="436.3" width="1.1" height="1.1" fill="#111"/>
<rect x="62.6" y="428.4" width="1.1" height="1.1" fill="#111"/>
<rect x="87.7" y="434.6" width="1.1" height="1.1" fill="#333"/>
<rect x="78.8" y="427.2" width="1.1" height="1.1" fill="#111"/>
<rect x="61.7" y="427.6" width="1.1" height="1.1" fill="#111"/>
<rect x="85.9" y="443.6" width="1.1" height="1.1" fill="#333"/>
<rect x="52.0" y="432.2" width="1.1" height="1.1" fill="#333"/>
<rect x="74.9" y="425.6" width="1.1" height="1.1" fill="#111"/>
<rect x="77.8" y="424.9" width="1.1" height="1.1" fill="#333"/>
<rect x="50.8" y="432.4" width="1.1" height="1.1" fill="#333"/>
<rect x="60.7" y="424.6" width="1.1" height="1.1" fill="#333"/>
<rect x="76.6" y="427.5" width="1.1" height="1.1" fill="#111"/>
<rect x="78.3" y="426.3" width="1.1" height="1.1" fill="#111"/>
<rect x="66.0" y="426.1" width="1.1" height="1.1" fill="#333"/>
<rect x="53.7" y="434.0" width="1.1" height="1.1" fill="#111"/>
<rect x="55.7" y="431.5" width="1.1" height="1.1" fill="#111"/>
<rect x="64.4" y="427.8" width="1.1" height="1.1" fill="#111"/>
<rect x="63.0" y="428.7" width="1.1" height="1.1" fill="#111"/>
<rect x="68.6" y="426.5" width="1.1" height="1.1" fill="#111"/>
<rect x="84.1" y="443.7" width="1.1" height="1.1" fill="#111"/>
<rect x="74.9" y="424.5" width="1.1" height="1.1" fill="#333"/>
<rect x="55.0" y="430.3" width="1.1" height="1.1" fill="#111"/>
<rect x="62.0" y="424.6" width="1.1" height="1.1" fill="#333"/>
<rect x="61.9" y="424.6" width="1.1" height="1.1" fill="#333"/>
<rect x="84.4" y="445.0" width="1.1" height="1.1" fill="#111"/>
<rect x="77.1" y="425.2" width="1.1" height="1.1" fill="#333"/>
<rect x="53.6" y="433.9" width="1.1" height="1.1" fill="#111"/>
<rect x="53.6" y="429.1" width="1.1" height="1.1" fill="#333"/>
<rect x="50.2" y="429.3" width="1.1" height="1.1" fill="#333"/>
<rect x="84.4" y="448.5" width="1.1" height="1.1" fill="#111"/>
<rect x="72.0" y="426.8" width="1.1" height="1.1" fill="#111"/>
<rect x="55.2" y="431.7" width="1.1" height="1.1" fill="#111"/>
<rect x="87.2" y="428.7" width="1.1" height="1.1" fill="#333"/>
<rect x="70.7" y="426.6" width="1.1" height="1.1" fill="#111"/>
<rect x="56.5" y="431.9" width="1.1" height="1.1" fill="#111"/>
<rect x="72.1" y="427.6" width="1.1" height="1.1" fill="#111"/>
<rect x="64.2" y="426.6" width="1.1" height="1.1" fill="#111"/>
<rect x="58.8" y="430.1" width="1.1" height="1.1" fill="#111"/>
<rect x="48.3" y="436.8" width="1.1" height="1.1" fill="#333"/>
<rect x="61.4" y="428.9" width="1.1" height="1.1" fill="#111"/>
<rect x="69.0" y="427.3" width="1.1" height="1.1" fill="#111"/>
<rect x="63.6" y="425.0" width="1.1" height="1.1" fill="#333"/>
<rect x="72.7" y="424.9" width="1.1" height="1.1" fill="#333"/>
<rect x="63.5" y="425.3" width="1.1" height="1.1" fill="#333"/>
<rect x="71.0" y="427.4" width="1.1" height="1.1" fill="#111"/>
<rect x="72.2" y="426.0" width="1.1" height="1.1" fill="#111"/>
<rect x="57.1" y="431.5" width="1.1" height="1.1" fill="#111"/>
<rect x="70.8" y="425.0" width="1.1" height="1.1" fill="#333"/>
<rect x="89.0" y="433.1" width="1.1" height="1.1" fill="#333"/>
<rect x="84.7" y="445.0" width="1.1" height="1.1" fill="#111"/>
<rect x="70.9" y="425.8" width="1.1" height="1.1" fill="#111"/>
<rect x="64.2" y="424.9" width="1.1" height="1.1" fill="#333"/>
<rect x="63.8" y="425.5" width="1.1" height="1.1" fill="#333"/>
<rect x="87.3" y="446.9" width="1.1" height="1.1" fill="#333"/>
<rect x="59.8" y="426.1" width="1.1" height="1.1" fill="#333"/>
<rect x="67.3" y="426.5" width="1.1" height="1.1" fill="#111"/>
<rect x="87.1" y="439.3" width="1.1" height="1.1" fill="#333"/>
<rect x="57.9" y="429.2" width="1.1" height="1.1" fill="#111"/>
<rect x="54.7" y="428.6" width="1.1" height="1.1" fill="#333"/>
<rect x="56.1" y="430.8" width="1.1" height="1.1" fill="#111"/>
<rect x="57.4" y="428.7" width="1.1" height="1.1" fill="#111"/>
<rect x="86.0" y="444.2" width="1.1" height="1.1" fill="#333"/>
<rect x="64.3" y="425.4" width="1.1" height="1.1" fill="#333"/>
<rect x="53.7" y="432.7" width="1.1" height="1.1" fill="#111"/>
<rect x="53.7" y="431.8" width="1.1" height="1.1" fill="#111"/>
<rect x="75.9" y="427.3" width="1.1" height="1.1" fill="#111"/>
<rect x="59.6" y="424.7" width="1.1" height="1.1" fill="#333"/>
<rect x="72.4" y="424.8" width="1.1" height="1.1" fill="#333"/>
<rect x="45.5" y="431.3" width="1.1" height="1.1" fill="#333"/>
<rect x="48.2" y="428.8" width="1.1" height="1.1" fill="#333"/>
<rect x="53.2" y="434.8" width="1.1" height="1.1" fill="#111"/>
<rect x="87.0" y="442.4" width="1.1" height="1.1" fill="#333"/>
<rect x="50.6" y="434.0" width="1.1" height="1.1" fill="#333"/>
<rect x="69.1" y="426.1" width="1.1" height="1.1" fill="#111"/>
<rect x="54.8" y="431.8" width="1.1" height="1.1" fill="#111"/>
<rect x="61.7" y="428.1" width="1.1" height="1.1" fill="#111"/>
<rect x="64.9" y="426.3" width="1.1" height="1.1" fill="#333"/>
<rect x="74.7" y="424.9" width="1.1" height="1.1" fill="#333"/>
<rect x="78.7" y="427.7" width="1.1" height="1.1" fill="#111"/>
<rect x="51.2" y="436.8" width="1.1" height="1.1" fill="#111"/>
<rect x="53.6" y="428.0" width="1.1" height="1.1" fill="#333"/>
<rect x="63.5" y="429.1" width="1.1" height="1.1" fill="#111"/>
<rect x="90.8" y="437.7" width="1.1" height="1.1" fill="#333"/>
<rect x="45.3" y="430.6" width="1.1" height="1.1" fill="#333"/>
<rect x="52.7" y="430.7" width="1.1" height="1.1" fill="#333"/>
<rect x="75.7" y="424.7" width="1.1" height="1.1" fill="#333"/>
<rect x="54.2" y="430.6" width="1.1" height="1.1" fill="#333"/>
<rect x="84.6" y="441.9" width="1.1" height="1.1" fill="#111"/>
<rect x="61.0" y="427.8" width="1.1" height="1.1" fill="#111"/>
<rect x="61.4" y="429.4" width="1.1" height="1.1" fill="#111"/>
<rect x="63.1" y="428.8" width="1.1" height="1.1" fill="#111"/>
<rect x="86.4" y="442.8" width="1.1" height="1.1" fill="#333"/>
<rect x="91.0" y="441.2" width="1.1" height="1.1" fill="#333"/>
<rect x="64.0" y="429.0" width="1.1" height="1.1" fill="#111"/>
<rect x="86.9" y="445.0" width="1.1" height="1.1" fill="#333"/>
<rect x="84.7" y="444.9" width="1.1" height="1.1" fill="#111"/>
<rect x="85.9" y="447.8" width="1.1" height="1.1" fill="#333"/>
<rect x="50.4" y="433.0" width="1.1" height="1.1" fill="#333"/>
<rect x="57.2" y="431.0" width="1.1" height="1.1" fill="#111"/>
<rect x="84.1" y="447.2" width="1.1" height="1.1" fill="#111"/>
<rect x="66.9" y="426.0" width="1.1" height="1.1" fill="#111"/>
<rect x="87.5" y="440.5" width="1.1" height="1.1" fill="#333"/>
<rect x="58.0" y="430.7" width="1.1" height="1.1" fill="#111"/>
<rect x="48.9" y="433.2" width="1.1" height="1.1" fill="#333"/>
<rect x="85.8" y="446.4" width="1.1" height="1.1" fill="#333"/>
<rect x="109.4" y="432.0" width="1.1" height="1.1" fill="#111"/>
<rect x="90.1" y="428.0" width="1.1" height="1.1" fill="#111"/>
<rect x="98.6" y="424.2" width="1.1" height="1.1" fill="#333"/>
<rect x="82.5" y="445.7" width="1.1" height="1.1" fill="#111"/>
<rect x="102.1" y="427.4" width="1.1" height="1.1" fill="#111"/>
<rect x="112.3" y="435.9" width="1.1" height="1.1" fill="#111"/>
<rect x="109.4" y="431.7" width="1.1" height="1.1" fill="#111"/>
<rect x="97.2" y="427.3" width="1.1" height="1.1" fill="#111"/>
<rect x="96.7" y="428.3" width="1.1" height="1.1" fill="#111"/>
<rect x="82.1" y="444.3" width="1.1" height="1.1" fill="#111"/>
<rect x="117.4" y="435.5" width="1.1" height="1.1" fill="#333"/>
<rect x="111.7" y="435.8" width="1.1" height="1.1" fill="#111"/>
<rect x="108.7" y="432.3" width="1.1" height="1.1" fill="#111"/>
<rect x="110.1" y="431.6" width="1.1" height="1.1" fill="#111"/>
<rect x="110.4" y="431.6" width="1.1" height="1.1" fill="#111"/>
<rect x="103.7" y="429.5" width="1.1" height="1.1" fill="#111"/>
<rect x="111.2" y="434.5" width="1.1" height="1.1" fill="#111"/>
<rect x="108.2" y="431.2" width="1.1" height="1.1" fill="#111"/>
<rect x="98.2" y="427.0" width="1.1" height="1.1" fill="#111"/>
<rect x="102.3" y="428.9" width="1.1" height="1.1" fill="#111"/>
<rect x="110.4" y="430.4" width="1.1" height="1.1" fill="#333"/>
<rect x="113.7" y="437.9" width="1.1" height="1.1" fill="#111"/>
<rect x="100.9" y="425.3" width="1.1" height="1.1" fill="#333"/>
<rect x="88.7" y="427.4" width="1.1" height="1.1" fill="#111"/>
<rect x="111.3" y="434.1" width="1.1" height="1.1" fill="#111"/>
<rect x="110.1" y="431.2" width="1.1" height="1.1" fill="#111"/>
<rect x="73.6" y="443.6" width="1.1" height="1.1" fill="#333"/>
<rect x="104.6" y="428.6" width="1.1" height="1.1" fill="#111"/>
<rect x="113.0" y="437.7" width="1.1" height="1.1" fill="#111"/>
<rect x="88.2" y="427.1" width="1.1" height="1.1" fill="#111"/>
<rect x="92.5" y="427.7" width="1.1" height="1.1" fill="#111"/>
<rect x="74.2" y="439.4" width="1.1" height="1.1" fill="#333"/>
<rect x="73.8" y="432.0" width="1.1" height="1.1" fill="#333"/>
<rect x="93.9" y="427.6" width="1.1" height="1.1" fill="#111"/>
<rect x="98.2" y="427.6" width="1.1" height="1.1" fill="#111"/>
<rect x="75.2" y="443.2" width="1.1" height="1.1" fill="#333"/>
<rect x="103.3" y="428.0" width="1.1" height="1.1" fill="#111"/>
<rect x="109.9" y="427.9" width="1.1" height="1.1" fill="#333"/>
<rect x="91.2" y="425.9" width="1.1" height="1.1" fill="#111"/>
<rect x="106.4" y="430.6" width="1.1" height="1.1" fill="#111"/>
<rect x="108.6" y="429.2" width="1.1" height="1.1" fill="#333"/>
<rect x="108.3" y="426.4" width="1.1" height="1.1" fill="#333"/>
<rect x="79.8" y="443.6" width="1.1" height="1.1" fill="#333"/>
<rect x="96.4" y="425.6" width="1.1" height="1.1" fill="#333"/>
<rect x="116.0" y="437.2" width="1.1" height="1.1" fill="#333"/>
<rect x="112.7" y="436.9" width="1.1" height="1.1" fill="#111"/>
<rect x="99.9" y="428.1" width="1.1" height="1.1" fill="#111"/>
<rect x="109.2" y="427.5" width="1.1" height="1.1" fill="#333"/>
<rect x="93.9" y="425.4" width="1.1" height="1.1" fill="#333"/>
<rect x="98.7" y="426.2" width="1.1" height="1.1" fill="#111"/>
<rect x="103.4" y="429.8" width="1.1" height="1.1" fill="#111"/>
<rect x="107.5" y="431.4" width="1.1" height="1.1" fill="#111"/>
<rect x="106.5" y="429.9" width="1.1" height="1.1" fill="#111"/>
<rect x="106.9" y="430.9" width="1.1" height="1.1" fill="#111"/>
<rect x="106.2" y="427.2" width="1.1" height="1.1" fill="#333"/>
<rect x="120.6" y="436.0" width="1.1" height="1.1" fill="#333"/>
<rect x="88.5" y="427.6" width="1.1" height="1.1" fill="#111"/>
<rect x="93.1" y="428.0" width="1.1" height="1.1" fill="#111"/>
<rect x="88.8" y="427.1" width="1.1" height="1.1" fill="#111"/>
<rect x="106.1" y="429.7" width="1.1" height="1.1" fill="#111"/>
<rect x="111.0" y="425.1" width="1.1" height="1.1" fill="#333"/>
<rect x="81.0" y="442.5" width="1.1" height="1.1" fill="#333"/>
<rect x="80.7" y="442.0" width="1.1" height="1.1" fill="#333"/>
<rect x="111.3" y="434.7" width="1.1" height="1.1" fill="#111"/>
<rect x="115.5" y="430.5" width="1.1" height="1.1" fill="#333"/>
<rect x="110.0" y="429.8" width="1.1" height="1.1" fill="#333"/>
<rect x="114.0" y="434.3" width="1.1" height="1.1" fill="#333"/>
<rect x="114.7" y="431.3" width="1.1" height="1.1" fill="#333"/>
<rect x="107.7" y="431.0" width="1.1" height="1.1" fill="#111"/>
<rect x="75.2" y="439.8" width="1.1" height="1.1" fill="#333"/>
<rect x="93.6" y="427.7" width="1.1" height="1.1" fill="#111"/>
<rect x="79.5" y="435.7" width="1.1" height="1.1" fill="#333"/>
<rect x="92.8" y="426.6" width="1.1" height="1.1" fill="#111"/>
<rect x="117.0" y="431.4" width="1.1" height="1.1" fill="#333"/>
<rect x="104.9" y="430.0" width="1.1" height="1.1" fill="#111"/>
<rect x="92.1" y="427.3" width="1.1" height="1.1" fill="#111"/>
<rect x="102.2" y="428.2" width="1.1" height="1.1" fill="#111"/>
<rect x="80.6" y="448.5" width="1.1" height="1.1" fill="#333"/>
<rect x="89.5" y="424.9" width="1.1" height="1.1" fill="#333"/>
<rect x="97.8" y="426.4" width="1.1" height="1.1" fill="#111"/>
<rect x="109.6" y="429.2" width="1.1" height="1.1" fill="#333"/>
<rect x="82.6" y="446.0" width="1.1" height="1.1" fill="#111"/>
<rect x="117.2" y="435.1" width="1.1" height="1.1" fill="#333"/>
<rect x="78.1" y="444.9" width="1.1" height="1.1" fill="#333"/>
<rect x="90.7" y="427.7" width="1.1" height="1.1" fill="#111"/>
<rect x="82.2" y="446.4" width="1.1" height="1.1" fill="#111"/>
<rect x="108.7" y="429.9" width="1.1" height="1.1" fill="#111"/>
<rect x="99.0" y="428.3" width="1.1" height="1.1" fill="#111"/>
<rect x="97.9" y="426.8" width="1.1" height="1.1" fill="#111"/>
<rect x="98.9" y="427.3" width="1.1" height="1.1" fill="#111"/>
<rect x="88.6" y="424.3" width="1.1" height="1.1" fill="#333"/>
<rect x="114.5" y="436.5" width="1.1" height="1.1" fill="#333"/>
<rect x="103.1" y="427.1" width="1.1" height="1.1" fill="#333"/>
<rect x="105.7" y="429.7" width="1.1" height="1.1" fill="#111"/>
<rect x="103.3" y="428.1" width="1.1" height="1.1" fill="#111"/>
<rect x="92.5" y="427.1" width="1.1" height="1.1" fill="#111"/>
<rect x="102.8" y="428.5" width="1.1" height="1.1" fill="#111"/>
<rect x="81.3" y="441.3" width="1.1" height="1.1" fill="#333"/>
<rect x="111.7" y="435.2" width="1.1" height="1.1" fill="#111"/>
<rect x="100.3" y="428.5" width="1.1" height="1.1" fill="#111"/>
<rect x="111.4" y="434.6" width="1.1" height="1.1" fill="#111"/>
<rect x="93.1" y="427.2" width="1.1" height="1.1" fill="#111"/>
<rect x="88.8" y="424.8" width="1.1" height="1.1" fill="#333"/>
<rect x="92.2" y="426.1" width="1.1" height="1.1" fill="#111"/>
<rect x="103.9" y="426.0" width="1.1" height="1.1" fill="#333"/>
<rect x="99.7" y="428.5" width="1.1" height="1.1" fill="#111"/>
<rect x="110.8" y="433.5" width="1.1" height="1.1" fill="#111"/>
<rect x="103.7" y="424.7" width="1.1" height="1.1" fill="#333"/>
<rect x="81.1" y="440.9" width="1.1" height="1.1" fill="#333"/>
<rect x="99.7" y="427.3" width="1.1" height="1.1" fill="#111"/>
<rect x="105.1" y="424.9" width="1.1" height="1.1" fill="#333"/>
<rect x="111.7" y="435.9" width="1.1" height="1.1" fill="#111"/>
<rect x="107.7" y="429.0" width="1.1" height="1.1" fill="#111"/>
<rect x="113.2" y="434.5" width="1.1" height="1.1" fill="#111"/>
<rect x="114.4" y="435.9" width="1.1" height="1.1" fill="#333"/>
<rect x="113.5" y="433.8" width="1.1" height="1.1" fill="#333"/>
<rect x="96.2" y="427.0" width="1.1" height="1.1" fill="#111"/>
<rect x="87.4" y="426.1" width="1.1" height="1.1" fill="#111"/>
<rect x="102.9" y="427.2" width="1.1" height="1.1" fill="#111"/>
<rect x="107.8" y="430.2" width="1.1" height="1.1" fill="#111"/>
<rect x="94.6" y="424.9" width="1.1" height="1.1" fill="#333"/>
<rect x="112.3" y="435.8" width="1.1" height="1.1" fill="#111"/>
<rect x="80.3" y="435.5" width="1.1" height="1.1" fill="#333"/>
<rect x="119.7" y="431.5" width="1.1" height="1.1" fill="#333"/>
<rect x="77.5" y="444.3" width="1.1" height="1.1" fill="#333"/>
<rect x="109.5" y="430.1" width="1.1" height="1.1" fill="#111"/>
<rect x="105.9" y="427.5" width="1.1" height="1.1" fill="#333"/>
<rect x="92.0" y="427.4" width="1.1" height="1.1" fill="#111"/>
<rect x="112.4" y="426.4" width="1.1" height="1.1" fill="#333"/>
<rect x="113.0" y="436.9" width="1.1" height="1.1" fill="#111"/>
<rect x="117.4" y="434.9" width="1.1" height="1.1" fill="#333"/>
<rect x="117.4" y="426.5" width="1.1" height="1.1" fill="#333"/>
<rect x="105.2" y="429.6" width="1.1" height="1.1" fill="#111"/>
<rect x="89.0" y="426.5" width="1.1" height="1.1" fill="#111"/>
<rect x="95.1" y="427.3" width="1.1" height="1.1" fill="#111"/>
<rect x="94.6" y="426.1" width="1.1" height="1.1" fill="#111"/>
<rect x="104.7" y="429.9" width="1.1" height="1.1" fill="#111"/>
<rect x="106.3" y="428.4" width="1.1" height="1.1" fill="#111"/>
<rect x="87.6" y="425.6" width="1.1" height="1.1" fill="#333"/>
<rect x="111.8" y="427.7" width="1.1" height="1.1" fill="#333"/>
<rect x="99.3" y="427.4" width="1.1" height="1.1" fill="#111"/>
<rect x="88.7" y="426.8" width="1.1" height="1.1" fill="#111"/>
<rect x="107.9" y="431.3" width="1.1" height="1.1" fill="#111"/>
<rect x="107.5" y="429.3" width="1.1" height="1.1" fill="#111"/>
<rect x="95.2" y="426.9" width="1.1" height="1.1" fill="#111"/>
<rect x="110.5" y="430.7" width="1.1" height="1.1" fill="#111"/>
<rect x="108.5" y="430.3" width="1.1" height="1.1" fill="#111"/>
<rect x="111.7" y="431.6" width="1.1" height="1.1" fill="#111"/>
<rect x="93.1" y="425.1" width="1.1" height="1.1" fill="#333"/>
<rect x="89.0" y="427.8" width="1.1" height="1.1" fill="#111"/>
<rect x="70.4" y="442.1" width="0.9" height="0.9" fill="#fff"/>
<rect x="57.3" y="435.8" width="0.9" height="0.9" fill="#fff"/>
<rect x="59.5" y="434.0" width="0.9" height="0.9" fill="#fff"/>
<rect x="65.5" y="434.5" width="0.9" height="0.9" fill="#fff"/>
<rect x="58.0" y="433.1" width="0.9" height="0.9" fill="#fff"/>
<rect x="53.6" y="438.6" width="0.9" height="0.9" fill="#fff"/>
<rect x="61.8" y="430.9" width="0.9" height="0.9" fill="#fff"/>
<rect x="56.5" y="441.5" width="0.9" height="0.9" fill="#fff"/>
<rect x="73.3" y="432.6" width="0.9" height="0.9" fill="#fff"/>
<rect x="55.9" y="441.5" width="0.9" height="0.9" fill="#fff"/>
<rect x="54.3" y="437.2" width="0.9" height="0.9" fill="#fff"/>
<rect x="56.4" y="439.7" width="0.9" height="0.9" fill="#fff"/>
<rect x="66.1" y="434.1" width="0.9" height="0.9" fill="#fff"/>
<rect x="62.0" y="431.5" width="0.9" height="0.9" fill="#fff"/>
<rect x="62.1" y="430.5" width="0.9" height="0.9" fill="#fff"/>
<rect x="52.9" y="437.3" width="0.9" height="0.9" fill="#fff"/>
<rect x="54.2" y="438.6" width="0.9" height="0.9" fill="#fff"/>
<rect x="61.6" y="440.9" width="0.9" height="0.9" fill="#fff"/>
<rect x="63.9" y="441.3" width="0.9" height="0.9" fill="#fff"/>
<rect x="55.6" y="437.6" width="0.9" height="0.9" fill="#fff"/>
<rect x="60.6" y="436.7" width="0.9" height="0.9" fill="#fff"/>
<rect x="57.1" y="437.8" width="0.9" height="0.9" fill="#fff"/>
<rect x="65.4" y="440.3" width="0.9" height="0.9" fill="#fff"/>
<rect x="63.3" y="433.3" width="0.9" height="0.9" fill="#fff"/>
<rect x="58.2" y="438.6" width="0.9" height="0.9" fill="#fff"/>
<rect x="58.1" y="435.3" width="0.9" height="0.9" fill="#fff"/>
<rect x="57.4" y="433.6" width="0.9" height="0.9" fill="#fff"/>
<rect x="63.2" y="443.2" width="0.9" height="0.9" fill="#fff"/>
<rect x="67.8" y="430.3" width="0.9" height="0.9" fill="#fff"/>
<rect x="65.4" y="444.2" width="0.9" height="0.9" fill="#fff"/>
<rect x="101.7" y="434.7" width="0.9" height="0.9" fill="#fff"/>
<rect x="104.9" y="432.6" width="0.9" height="0.9" fill="#fff"/>
<rect x="104.7" y="432.2" width="0.9" height="0.9" fill="#fff"/>
<rect x="105.6" y="439.6" width="0.9" height="0.9" fill="#fff"/>
<rect x="104.0" y="437.8" width="0.9" height="0.9" fill="#fff"/>
<rect x="107.6" y="437.5" width="0.9" height="0.9" fill="#fff"/>
<rect x="109.3" y="437.1" width="0.9" height="0.9" fill="#fff"/>
<rect x="89.0" y="441.0" width="0.9" height="0.9" fill="#fff"/>
<rect x="106.4" y="441.5" width="0.9" height="0.9" fill="#fff"/>
<rect x="109.9" y="438.4" width="0.9" height="0.9" fill="#fff"/>
<rect x="111.1" y="436.5" width="0.9" height="0.9" fill="#fff"/>
<rect x="101.2" y="441.6" width="0.9" height="0.9" fill="#fff"/>
<rect x="109.7" y="435.8" width="0.9" height="0.9" fill="#fff"/>
<rect x="109.9" y="438.3" width="0.9" height="0.9" fill="#fff"/>
<rect x="92.4" y="444.4" width="0.9" height="0.9" fill="#fff"/>
<rect x="102.9" y="440.9" width="0.9" height="0.9" fill="#fff"/>
<rect x="99.7" y="435.6" width="0.9" height="0.9" fill="#fff"/>
<rect x="103.1" y="431.0" width="0.9" height="0.9" fill="#fff"/>
<rect x="101.8" y="432.5" width="0.9" height="0.9" fill="#fff"/>
<rect x="107.7" y="440.5" width="0.9" height="0.9" fill="#fff"/>
<rect x="99.6" y="432.1" width="0.9" height="0.9" fill="#fff"/>
<rect x="98.6" y="439.3" width="0.9" height="0.9" fill="#fff"/>
<rect x="101.8" y="430.6" width="0.9" height="0.9" fill="#fff"/>
<rect x="98.1" y="443.6" width="0.9" height="0.9" fill="#fff"/>
<rect x="109.6" y="437.2" width="0.9" height="0.9" fill="#fff"/>
<rect x="53.9" y="429.0" width="1.1" height="1.1" fill="#5a86ba"/>
<rect x="63.5" y="427.7" width="1.1" height="1.1" fill="#5a86ba"/>
<rect x="55.5" y="422.8" width="1.1" height="1.1" fill="#5a86ba"/>
<rect x="44.9" y="429.0" width="1.1" height="1.1" fill="#5a86ba"/>
<rect x="60.2" y="427.1" width="1.1" height="1.1" fill="#5a86ba"/>
<rect x="72.4" y="427.5" width="1.1" height="1.1" fill="#5a86ba"/>
<rect x="43.6" y="423.4" width="1.1" height="1.1" fill="#5a86ba"/>
<rect x="56.2" y="429.4" width="1.1" height="1.1" fill="#5a86ba"/>
<rect x="68.9" y="428.0" width="1.1" height="1.1" fill="#5a86ba"/>
<rect x="75.7" y="426.0" width="1.1" height="1.1" fill="#5a86ba"/>
<rect x="59.7" y="428.3" width="1.1" height="1.1" fill="#5a86ba"/>
<rect x="66.4" y="428.1" width="1.1" height="1.1" fill="#5a86ba"/>
<rect x="49.5" y="423.1" width="1.1" height="1.1" fill="#5a86ba"/>
<rect x="68.0" y="416.6" width="1.1" height="1.1" fill="#5a86ba"/>
<rect x="75.6" y="423.3" width="1.1" height="1.1" fill="#5a86ba"/>
<rect x="51.6" y="426.3" width="1.1" height="1.1" fill="#5a86ba"/>
<rect x="48.6" y="425.2" width="1.1" height="1.1" fill="#5a86ba"/>
<rect x="65.2" y="420.4" width="1.1" height="1.1" fill="#5a86ba"/>
<rect x="76.9" y="423.2" width="1.1" height="1.1" fill="#5a86ba"/>
<rect x="60.1" y="424.7" width="1.1" height="1.1" fill="#5a86ba"/>
<rect x="51.3" y="423.7" width="1.1" height="1.1" fill="#5a86ba"/>
<rect x="51.1" y="416.7" width="1.1" height="1.1" fill="#5a86ba"/>
<rect x="68.0" y="418.0" width="1.1" height="1.1" fill="#5a86ba"/>
<rect x="75.1" y="426.9" width="1.1" height="1.1" fill="#5a86ba"/>
<rect x="62.7" y="424.6" width="1.1" height="1.1" fill="#5a86ba"/>
<rect x="68.3" y="417.2" width="1.1" height="1.1" fill="#5a86ba"/>
<rect x="55.7" y="428.0" width="1.1" height="1.1" fill="#5a86ba"/>
<rect x="63.3" y="424.6" width="1.1" height="1.1" fill="#5a86ba"/>
<rect x="52.5" y="422.1" width="1.1" height="1.1" fill="#5a86ba"/>
<rect x="62.3" y="416.4" width="1.1" height="1.1" fill="#5a86ba"/>
<rect x="61.2" y="423.7" width="1.1" height="1.1" fill="#5a86ba"/>
<rect x="73.2" y="418.6" width="1.1" height="1.1" fill="#5a86ba"/>
<rect x="77.7" y="428.5" width="1.1" height="1.1" fill="#5a86ba"/>
<rect x="75.5" y="428.8" width="1.1" height="1.1" fill="#5a86ba"/>
<rect x="52.1" y="415.2" width="1.1" height="1.1" fill="#5a86ba"/>
<rect x="71.9" y="422.0" width="1.1" height="1.1" fill="#5a86ba"/>
<rect x="54.5" y="424.7" width="1.1" height="1.1" fill="#5a86ba"/>
<rect x="73.1" y="427.0" width="1.1" height="1.1" fill="#5a86ba"/>
<rect x="78.1" y="425.9" width="1.1" height="1.1" fill="#5a86ba"/>
<rect x="59.5" y="426.6" width="1.1" height="1.1" fill="#5a86ba"/>
<rect x="76.6" y="427.9" width="1.1" height="1.1" fill="#5a86ba"/>
<rect x="70.1" y="423.5" width="1.1" height="1.1" fill="#5a86ba"/>
<rect x="48.0" y="417.5" width="1.1" height="1.1" fill="#5a86ba"/>
<rect x="72.3" y="416.2" width="1.1" height="1.1" fill="#5a86ba"/>
<rect x="70.1" y="429.4" width="1.1" height="1.1" fill="#5a86ba"/>
<rect x="51.9" y="421.1" width="1.1" height="1.1" fill="#5a86ba"/>
<rect x="69.9" y="428.3" width="1.1" height="1.1" fill="#5a86ba"/>
<rect x="51.6" y="423.0" width="1.1" height="1.1" fill="#5a86ba"/>
<rect x="65.9" y="429.3" width="1.1" height="1.1" fill="#5a86ba"/>
<rect x="44.3" y="428.5" width="1.1" height="1.1" fill="#5a86ba"/>
<rect x="63.7" y="418.5" width="1.1" height="1.1" fill="#333"/>
<rect x="44.4" y="428.0" width="1.1" height="1.1" fill="#333"/>
<rect x="71.0" y="429.3" width="1.1" height="1.1" fill="#333"/>
<rect x="53.5" y="427.8" width="1.1" height="1.1" fill="#333"/>
<rect x="74.9" y="420.9" width="1.1" height="1.1" fill="#333"/>
<rect x="66.1" y="429.1" width="1.1" height="1.1" fill="#333"/>
<rect x="63.5" y="428.7" width="1.1" height="1.1" fill="#333"/>
<rect x="61.6" y="420.0" width="1.1" height="1.1" fill="#333"/>
<rect x="71.6" y="427.7" width="1.1" height="1.1" fill="#333"/>
<rect x="55.6" y="425.2" width="1.1" height="1.1" fill="#333"/>
<rect x="52.8" y="423.8" width="1.1" height="1.1" fill="#333"/>
<rect x="74.3" y="429.2" width="1.1" height="1.1" fill="#333"/>
<rect x="46.4" y="429.3" width="1.1" height="1.1" fill="#333"/>
<rect x="79.0" y="428.7" width="1.1" height="1.1" fill="#333"/>
<rect x="48.9" y="419.2" width="1.1" height="1.1" fill="#333"/>
<rect x="47.6" y="428.6" width="1.1" height="1.1" fill="#333"/>
<rect x="67.6" y="429.1" width="1.1" height="1.1" fill="#333"/>
<rect x="54.3" y="428.0" width="1.1" height="1.1" fill="#333"/>
<rect x="71.6" y="422.9" width="1.1" height="1.1" fill="#333"/>
<rect x="60.0" y="429.1" width="1.1" height="1.1" fill="#333"/>
<rect x="96.8" y="420.2" width="1.1" height="1.1" fill="#cf2a4c"/>
<rect x="92.6" y="422.5" width="1.1" height="1.1" fill="#cf2a4c"/>
<rect x="96.9" y="428.6" width="1.1" height="1.1" fill="#cf2a4c"/>
<rect x="98.4" y="424.8" width="1.1" height="1.1" fill="#cf2a4c"/>
<rect x="94.9" y="427.2" width="1.1" height="1.1" fill="#cf2a4c"/>
<rect x="105.8" y="427.0" width="1.1" height="1.1" fill="#cf2a4c"/>
<rect x="100.2" y="422.3" width="1.1" height="1.1" fill="#cf2a4c"/>
<rect x="97.1" y="425.4" width="1.1" height="1.1" fill="#cf2a4c"/>
<rect x="105.6" y="416.9" width="1.1" height="1.1" fill="#cf2a4c"/>
<rect x="99.7" y="427.2" width="1.1" height="1.1" fill="#cf2a4c"/>
<rect x="94.3" y="427.4" width="1.1" height="1.1" fill="#cf2a4c"/>
<rect x="107.4" y="427.4" width="1.1" height="1.1" fill="#cf2a4c"/>
<rect x="89.4" y="428.9" width="1.1" height="1.1" fill="#cf2a4c"/>
<rect x="90.3" y="421.7" width="1.1" height="1.1" fill="#cf2a4c"/>
<rect x="90.7" y="428.9" width="1.1" height="1.1" fill="#cf2a4c"/>
<rect x="101.1" y="426.2" width="1.1" height="1.1" fill="#cf2a4c"/>
<rect x="94.5" y="415.2" width="1.1" height="1.1" fill="#cf2a4c"/>
<rect x="95.2" y="412.7" width="1.1" height="1.1" fill="#cf2a4c"/>
<rect x="92.4" y="422.7" width="1.1" height="1.1" fill="#cf2a4c"/>
<rect x="99.7" y="428.0" width="1.1" height="1.1" fill="#cf2a4c"/>
<rect x="94.2" y="423.8" width="1.1" height="1.1" fill="#cf2a4c"/>
<rect x="98.5" y="415.1" width="1.1" height="1.1" fill="#cf2a4c"/>
<rect x="94.1" y="425.5" width="1.1" height="1.1" fill="#cf2a4c"/>
<rect x="89.2" y="423.1" width="1.1" height="1.1" fill="#cf2a4c"/>
<rect x="100.7" y="424.8" width="1.1" height="1.1" fill="#cf2a4c"/>
<rect x="103.1" y="423.7" width="1.1" height="1.1" fill="#cf2a4c"/>
<rect x="100.4" y="423.4" width="1.1" height="1.1" fill="#cf2a4c"/>
<rect x="89.8" y="429.1" width="1.1" height="1.1" fill="#cf2a4c"/>
<rect x="100.1" y="421.9" width="1.1" height="1.1" fill="#cf2a4c"/>
<rect x="101.4" y="427.7" width="1.1" height="1.1" fill="#cf2a4c"/>
<rect x="88.8" y="426.7" width="1.1" height="1.1" fill="#cf2a4c"/>
<rect x="97.1" y="428.4" width="1.1" height="1.1" fill="#cf2a4c"/>
<rect x="98.7" y="419.1" width="1.1" height="1.1" fill="#cf2a4c"/>
<rect x="103.4" y="420.4" width="1.1" height="1.1" fill="#cf2a4c"/>
<rect x="102.0" y="422.4" width="1.1" height="1.1" fill="#cf2a4c"/>
<rect x="88.1" y="427.8" width="1.1" height="1.1" fill="#cf2a4c"/>
<rect x="90.7" y="423.7" width="1.1" height="1.1" fill="#cf2a4c"/>
<rect x="104.0" y="426.6" width="1.1" height="1.1" fill="#cf2a4c"/>
<rect x="95.3" y="415.4" width="1.1" height="1.1" fill="#cf2a4c"/>
<rect x="92.0" y="423.2" width="1.1" height="1.1" fill="#cf2a4c"/>
<rect x="104.1" y="417.1" width="1.1" height="1.1" fill="#cf2a4c"/>
<rect x="104.3" y="427.6" width="1.1" height="1.1" fill="#cf2a4c"/>
<rect x="89.2" y="428.7" width="1.1" height="1.1" fill="#cf2a4c"/>
<rect x="88.8" y="428.8" width="1.1" height="1.1" fill="#cf2a4c"/>
<rect x="89.0" y="427.3" width="1.1" height="1.1" fill="#cf2a4c"/>
<rect x="100.4" y="423.3" width="1.1" height="1.1" fill="#cf2a4c"/>
<rect x="104.0" y="424.9" width="1.1" height="1.1" fill="#cf2a4c"/>
<rect x="100.1" y="429.1" width="1.1" height="1.1" fill="#cf2a4c"/>
<rect x="91.1" y="420.4" width="1.1" height="1.1" fill="#cf2a4c"/>
<rect x="102.1" y="423.3" width="1.1" height="1.1" fill="#cf2a4c"/>
<rect x="97.5" y="422.0" width="1.1" height="1.1" fill="#cf2a4c"/>
<rect x="99.2" y="415.7" width="1.1" height="1.1" fill="#cf2a4c"/>
<rect x="88.6" y="427.3" width="1.1" height="1.1" fill="#cf2a4c"/>
<rect x="100.4" y="426.6" width="1.1" height="1.1" fill="#cf2a4c"/>
<rect x="100.3" y="421.7" width="1.1" height="1.1" fill="#cf2a4c"/>
<rect x="104.9" y="426.5" width="1.1" height="1.1" fill="#cf2a4c"/>
<rect x="100.8" y="419.0" width="1.1" height="1.1" fill="#cf2a4c"/>
<rect x="107.4" y="420.4" width="1.1" height="1.1" fill="#cf2a4c"/>
<rect x="105.0" y="421.6" width="1.1" height="1.1" fill="#cf2a4c"/>
<rect x="97.5" y="427.7" width="1.1" height="1.1" fill="#cf2a4c"/>
<rect x="92.5" y="428.2" width="1.1" height="1.1" fill="#cf2a4c"/>
<rect x="96.4" y="414.9" width="1.1" height="1.1" fill="#cf2a4c"/>
<rect x="97.9" y="429.0" width="1.1" height="1.1" fill="#cf2a4c"/>
<rect x="89.5" y="427.2" width="1.1" height="1.1" fill="#cf2a4c"/>
<rect x="99.3" y="424.9" width="1.1" height="1.1" fill="#cf2a4c"/>
<rect x="101.8" y="427.3" width="1.1" height="1.1" fill="#cf2a4c"/>
<rect x="105.6" y="425.2" width="1.1" height="1.1" fill="#cf2a4c"/>
<rect x="94.4" y="425.3" width="1.1" height="1.1" fill="#cf2a4c"/>
<rect x="94.8" y="428.3" width="1.1" height="1.1" fill="#cf2a4c"/>
<rect x="91.9" y="426.7" width="1.1" height="1.1" fill="#cf2a4c"/>
<rect x="92.7" y="419.6" width="1.1" height="1.1" fill="#cf2a4c"/>
<rect x="100.3" y="427.9" width="1.1" height="1.1" fill="#cf2a4c"/>
<rect x="92.3" y="419.5" width="1.1" height="1.1" fill="#cf2a4c"/>
<rect x="99.8" y="422.0" width="1.1" height="1.1" fill="#cf2a4c"/>
<rect x="93.4" y="428.0" width="1.1" height="1.1" fill="#cf2a4c"/>
<rect x="99.9" y="419.0" width="1.1" height="1.1" fill="#cf2a4c"/>
<rect x="103.4" y="424.7" width="1.1" height="1.1" fill="#cf2a4c"/>
<rect x="103.6" y="427.9" width="1.1" height="1.1" fill="#cf2a4c"/>
<rect x="107.6" y="420.5" width="1.1" height="1.1" fill="#cf2a4c"/>
<rect x="103.8" y="423.9" width="1.1" height="1.1" fill="#cf2a4c"/>
<rect x="89.5" y="429.3" width="1.1" height="1.1" fill="#cf2a4c"/>
<rect x="94.8" y="428.5" width="1.1" height="1.1" fill="#cf2a4c"/>
<rect x="92.1" y="416.7" width="1.1" height="1.1" fill="#cf2a4c"/>
<rect x="99.4" y="416.7" width="1.1" height="1.1" fill="#cf2a4c"/>
<rect x="91.3" y="427.1" width="1.1" height="1.1" fill="#cf2a4c"/>
<rect x="101.0" y="429.2" width="1.1" height="1.1" fill="#cf2a4c"/>
<rect x="95.7" y="416.3" width="1.1" height="1.1" fill="#cf2a4c"/>
<rect x="92.2" y="415.7" width="1.1" height="1.1" fill="#cf2a4c"/>
<rect x="104.8" y="422.2" width="1.1" height="1.1" fill="#cf2a4c"/>
<rect x="103.6" y="417.5" width="1.1" height="1.1" fill="#cf2a4c"/>
<rect x="97.1" y="423.9" width="1.1" height="1.1" fill="#cf2a4c"/>
<rect x="104.9" y="429.4" width="1.1" height="1.1" fill="#cf2a4c"/>
<rect x="96.3" y="413.2" width="1.1" height="1.1" fill="#cf2a4c"/>
<rect x="91.0" y="428.8" width="1.1" height="1.1" fill="#cf2a4c"/>
<rect x="101.5" y="427.7" width="1.1" height="1.1" fill="#cf2a4c"/>
<rect x="104.9" y="429.0" width="1.1" height="1.1" fill="#cf2a4c"/>
<rect x="105.6" y="417.7" width="1.1" height="1.1" fill="#cf2a4c"/>
<rect x="104.9" y="423.7" width="1.1" height="1.1" fill="#cf2a4c"/>
<rect x="90.8" y="418.9" width="1.1" height="1.1" fill="#cf2a4c"/>
<rect x="103.9" y="428.2" width="1.1" height="1.1" fill="#cf2a4c"/>
<rect x="98.2" y="429.1" width="1.1" height="1.1" fill="#cf2a4c"/>
<rect x="91.0" y="427.7" width="1.1" height="1.1" fill="#cf2a4c"/>
<rect x="100.9" y="427.3" width="1.1" height="1.1" fill="#cf2a4c"/>
<rect x="99.8" y="423.6" width="1.1" height="1.1" fill="#cf2a4c"/>
<rect x="96.4" y="425.0" width="1.1" height="1.1" fill="#cf2a4c"/>
<rect x="106.0" y="423.0" width="1.1" height="1.1" fill="#cf2a4c"/>
<rect x="94.5" y="425.0" width="1.1" height="1.1" fill="#cf2a4c"/>
<rect x="96.3" y="424.9" width="1.1" height="1.1" fill="#cf2a4c"/>
<rect x="108.0" y="422.3" width="1.1" height="1.1" fill="#cf2a4c"/>
<rect x="100.8" y="418.5" width="1.1" height="1.1" fill="#cf2a4c"/>
<rect x="104.8" y="427.4" width="1.1" height="1.1" fill="#444"/>
<rect x="106.5" y="427.7" width="1.1" height="1.1" fill="#444"/>
<rect x="102.8" y="414.1" width="1.1" height="1.1" fill="#444"/>
<rect x="95.5" y="420.7" width="1.1" height="1.1" fill="#444"/>
<rect x="98.3" y="425.2" width="1.1" height="1.1" fill="#444"/>
<rect x="102.6" y="414.6" width="1.1" height="1.1" fill="#444"/>
<rect x="93.7" y="426.2" width="1.1" height="1.1" fill="#444"/>
<rect x="94.8" y="427.9" width="1.1" height="1.1" fill="#444"/>
<rect x="98.3" y="427.1" width="1.1" height="1.1" fill="#444"/>
<rect x="92.7" y="429.4" width="1.1" height="1.1" fill="#444"/>
<rect x="100.1" y="429.0" width="1.1" height="1.1" fill="#444"/>
<rect x="94.6" y="425.6" width="1.1" height="1.1" fill="#444"/>
<rect x="102.9" y="424.5" width="1.1" height="1.1" fill="#444"/>
<rect x="102.7" y="427.6" width="1.1" height="1.1" fill="#444"/>
<rect x="91.1" y="425.8" width="1.1" height="1.1" fill="#444"/>
<rect x="44.6" y="388.6" width="1.0" height="1.0" fill="#666"/>
<rect x="71.9" y="423.1" width="1.0" height="1.0" fill="#666"/>
<rect x="74.0" y="419.1" width="1.0" height="1.0" fill="#666"/>
<rect x="60.8" y="424.9" width="1.0" height="1.0" fill="#666"/>
<rect x="63.8" y="387.7" width="1.0" height="1.0" fill="#666"/>
<rect x="74.1" y="425.7" width="1.0" height="1.0" fill="#666"/>
<rect x="66.7" y="410.0" width="1.0" height="1.0" fill="#666"/>
<rect x="48.9" y="423.8" width="1.0" height="1.0" fill="#666"/>
<rect x="90.5" y="420.6" width="1.0" height="1.0" fill="#777"/>
<rect x="117.5" y="420.9" width="1.0" height="1.0" fill="#777"/>
<rect x="88.0" y="417.6" width="1.0" height="1.0" fill="#777"/>
<rect x="117.7" y="425.3" width="1.0" height="1.0" fill="#777"/>
<rect x="94.5" y="426.7" width="1.0" height="1.0" fill="#777"/>
<rect x="111.4" y="424.9" width="1.0" height="1.0" fill="#777"/>
<rect x="103.5" y="419.2" width="1.0" height="1.0" fill="#777"/>
<rect x="94.3" y="421.9" width="1.0" height="1.0" fill="#777"/>
<rect x="42.9" y="416.9" width="1.2" height="1.2" fill="#7070a8"/>
<rect x="43.9" y="418.9" width="1.2" height="1.2" fill="#7070a8"/>
<rect x="42.4" y="418.4" width="1.2" height="1.2" fill="#8080b0"/>
<rect x="100.4" y="388.0" width="1.2" height="1.2" fill="#777"/>
<rect x="112.1" y="396.4" width="1.2" height="1.2" fill="#777"/>
<rect x="126.4" y="404.4" width="1.2" height="1.2" fill="#777"/>
<rect x="105.9" y="408.1" width="1.2" height="1.2" fill="#777"/>
<rect x="40.9" y="434.4" width="1.2" height="1.2" fill="#555"/>
<rect x="39.4" y="442.4" width="1.2" height="1.2" fill="#555"/>
<rect x="75.4" y="403.4" width="1.2" height="1.2" fill="#888"/>
<rect x="58.4" y="403.4" width="1.2" height="1.2" fill="#888"/>
</g>
<rect x="33.30" y="379.60" width="100.70" height="71.60" stroke="#231f20" stroke-width="1.1" fill="none"/>
<line x1="29.90" y1="381.60" x2="33.30" y2="381.60" stroke="#231f20" stroke-width="0.85"/>
<text x="26.90" y="383.80" font-size="6.3" text-anchor="end" fill="#231f20" >12</text>
<line x1="29.90" y1="398.43" x2="33.30" y2="398.43" stroke="#231f20" stroke-width="0.85"/>
<text x="26.90" y="400.63" font-size="6.3" text-anchor="end" fill="#231f20" >8</text>
<line x1="29.90" y1="415.26" x2="33.30" y2="415.26" stroke="#231f20" stroke-width="0.85"/>
<text x="26.90" y="417.46" font-size="6.3" text-anchor="end" fill="#231f20" >6</text>
<line x1="29.90" y1="432.09" x2="33.30" y2="432.09" stroke="#231f20" stroke-width="0.85"/>
<text x="26.90" y="434.29" font-size="6.3" text-anchor="end" fill="#231f20" >4</text>
<line x1="29.90" y1="448.92" x2="33.30" y2="448.92" stroke="#231f20" stroke-width="0.85"/>
<text x="26.90" y="451.12" font-size="6.3" text-anchor="end" fill="#231f20" >0</text>
<line x1="36.80" y1="451.20" x2="36.80" y2="453.90" stroke="#231f20" stroke-width="0.85"/>
<text x="36.80" y="463.10" font-size="6.3" text-anchor="middle" fill="#231f20" >−10</text>
<line x1="60.30" y1="451.20" x2="60.30" y2="453.90" stroke="#231f20" stroke-width="0.85"/>
<text x="60.30" y="463.10" font-size="6.3" text-anchor="middle" fill="#231f20" >−5</text>
<line x1="83.80" y1="451.20" x2="83.80" y2="453.90" stroke="#231f20" stroke-width="0.85"/>
<text x="83.80" y="463.10" font-size="6.3" text-anchor="middle" fill="#231f20" >0</text>
<line x1="107.30" y1="451.20" x2="107.30" y2="453.90" stroke="#231f20" stroke-width="0.85"/>
<text x="107.30" y="463.10" font-size="6.3" text-anchor="middle" fill="#231f20" >5</text>
<line x1="130.80" y1="451.20" x2="130.80" y2="453.90" stroke="#231f20" stroke-width="0.85"/>
<text x="130.80" y="463.10" font-size="6.3" text-anchor="middle" fill="#231f20" >10</text>
<text x="0" y="0" font-size="7.9" text-anchor="middle" fill="#231f20" stroke="#231f20" stroke-width="0.15" transform="translate(83.50,476.00) scale(0.72,1)">Log<tspan font-size="5" dy="1.6">2</tspan><tspan dy="-1.6">(fold change)</tspan></text>
<text x="0" y="0" font-size="8.0" text-anchor="middle" fill="#231f20" stroke="#231f20" stroke-width="0.15" transform="translate(14.4,415.70) rotate(-90) scale(0.77,1)">-Log<tspan font-size="5.5" dy="1.8">10</tspan><tspan dy="-1.8">(FDR)</tspan></text>
<text x="140.80" y="400.40" font-size="6.0" text-anchor="start" fill="#231f20" >DEG (FDR&lt;0.05)</text>
<circle cx="143.50" cy="408.20" r="2.25" fill="#b5162d"/>
<text x="149.80" y="410.30" font-size="6.0" text-anchor="start" fill="#231f20" >Upregulation in</text>
<text x="149.80" y="417.60" font-size="6.0" text-anchor="start" fill="#231f20" >non-naive (69 genes)</text>
<circle cx="143.50" cy="425.50" r="2.25" fill="#1e3f6b"/>
<text x="149.80" y="427.60" font-size="6.0" text-anchor="start" fill="#231f20" >Downregulation</text>
<text x="149.80" y="434.90" font-size="6.0" text-anchor="start" fill="#231f20" >in non-naive (64 genes)</text>
<text x="6.60" y="518.70" font-size="11.0" text-anchor="start" fill="#231f20" font-weight="bold">D</text>
<text x="84.20" y="531.00" font-size="7.9" text-anchor="middle" fill="#231f20" >Non-naive vs. treatment-naive</text>
<text x="84.20" y="541.20" font-size="7.9" text-anchor="middle" fill="#231f20" >in pts with R/R</text>
<clipPath id="cD"><rect x="33.3" y="546.0" width="101.7" height="72.10000000000002"/></clipPath>
<g clip-path="url(#cD)">
<polygon fill="#000" points="81.80,602.20 81.65,602.20 81.34,602.20 80.88,602.20 80.27,602.20 79.50,602.20 78.58,602.20 77.51,602.20 76.29,602.20 75.08,602.20 73.88,602.20 72.69,602.20 71.51,602.20 70.35,602.20 69.20,602.20 68.06,602.20 66.94,602.20 65.93,602.23 65.05,602.28 64.29,602.37 63.66,602.48 63.14,602.62 62.75,602.79 62.48,602.99 62.33,603.21 62.20,603.46 62.11,603.73 62.05,604.03 62.02,604.35 62.02,604.69 62.05,605.05 62.11,605.44 62.19,605.86 62.32,606.26 62.48,606.64 62.67,607.02 62.90,607.38 63.17,607.73 63.47,608.07 63.81,608.39 64.19,608.71 64.65,609.02 65.20,609.33 65.83,609.63 66.55,609.94 67.35,610.25 68.24,610.55 69.22,610.85 70.28,611.15 71.39,611.45 72.54,611.75 73.73,612.05 74.97,612.35 76.25,612.65 77.58,612.95 78.94,613.25 80.36,613.55 81.59,613.81 82.65,614.04 83.53,614.22 84.24,614.38 84.77,614.49 85.12,614.56 85.30,614.60"/>
<polygon fill="#000" points="88.80,602.20 88.97,602.20 89.33,602.20 89.85,602.20 90.55,602.20 91.42,602.20 92.47,602.20 93.70,602.20 95.10,602.20 96.49,602.20 97.86,602.20 99.22,602.20 100.56,602.20 101.89,602.20 103.20,602.20 104.51,602.20 105.79,602.20 106.93,602.24 107.92,602.31 108.76,602.42 109.44,602.56 109.98,602.74 110.37,602.95 110.61,603.21 110.69,603.49 110.75,603.79 110.77,604.09 110.75,604.40 110.70,604.72 110.62,605.05 110.50,605.38 110.34,605.72 110.16,606.08 109.94,606.41 109.69,606.74 109.41,607.06 109.09,607.37 108.75,607.66 108.38,607.95 107.97,608.22 107.53,608.48 106.99,608.75 106.35,609.03 105.61,609.32 104.77,609.61 103.82,609.91 102.77,610.22 101.62,610.54 100.38,610.86 99.11,611.19 97.84,611.51 96.56,611.84 95.27,612.16 93.96,612.49 92.65,612.81 91.32,613.14 89.98,613.46 88.81,613.75 87.81,613.99 86.97,614.19 86.30,614.36 85.80,614.48 85.47,614.56 85.30,614.60"/>
<rect x="88.7" y="611.7" width="1.1" height="1.1" fill="#333"/>
<rect x="63.0" y="601.4" width="1.1" height="1.1" fill="#111"/>
<rect x="61.1" y="601.3" width="1.1" height="1.1" fill="#111"/>
<rect x="69.2" y="601.6" width="1.1" height="1.1" fill="#111"/>
<rect x="72.7" y="601.4" width="1.1" height="1.1" fill="#111"/>
<rect x="61.4" y="602.3" width="1.1" height="1.1" fill="#111"/>
<rect x="86.5" y="610.0" width="1.1" height="1.1" fill="#333"/>
<rect x="63.5" y="601.4" width="1.1" height="1.1" fill="#111"/>
<rect x="62.0" y="602.4" width="1.1" height="1.1" fill="#111"/>
<rect x="51.9" y="603.5" width="1.1" height="1.1" fill="#333"/>
<rect x="61.9" y="601.4" width="1.1" height="1.1" fill="#111"/>
<rect x="89.8" y="614.2" width="1.1" height="1.1" fill="#333"/>
<rect x="89.0" y="610.5" width="1.1" height="1.1" fill="#333"/>
<rect x="65.4" y="601.4" width="1.1" height="1.1" fill="#111"/>
<rect x="61.7" y="602.6" width="1.1" height="1.1" fill="#111"/>
<rect x="61.2" y="602.7" width="1.1" height="1.1" fill="#111"/>
<rect x="59.7" y="601.6" width="1.1" height="1.1" fill="#111"/>
<rect x="89.0" y="605.4" width="1.1" height="1.1" fill="#333"/>
<rect x="61.8" y="602.3" width="1.1" height="1.1" fill="#111"/>
<rect x="65.1" y="601.5" width="1.1" height="1.1" fill="#111"/>
<rect x="74.3" y="601.2" width="1.1" height="1.1" fill="#111"/>
<rect x="65.9" y="601.3" width="1.1" height="1.1" fill="#111"/>
<rect x="85.9" y="610.8" width="1.1" height="1.1" fill="#111"/>
<rect x="60.0" y="602.7" width="1.1" height="1.1" fill="#111"/>
<rect x="70.7" y="601.2" width="1.1" height="1.1" fill="#111"/>
<rect x="58.3" y="603.4" width="1.1" height="1.1" fill="#333"/>
<rect x="88.4" y="607.4" width="1.1" height="1.1" fill="#333"/>
<rect x="85.4" y="613.4" width="1.1" height="1.1" fill="#111"/>
<rect x="56.8" y="603.8" width="1.1" height="1.1" fill="#333"/>
<rect x="61.4" y="601.7" width="1.1" height="1.1" fill="#111"/>
<rect x="88.9" y="613.9" width="1.1" height="1.1" fill="#333"/>
<rect x="60.7" y="602.6" width="1.1" height="1.1" fill="#111"/>
<rect x="74.5" y="601.5" width="1.1" height="1.1" fill="#111"/>
<rect x="93.2" y="613.1" width="1.1" height="1.1" fill="#333"/>
<rect x="59.4" y="601.5" width="1.1" height="1.1" fill="#333"/>
<rect x="56.4" y="601.3" width="1.1" height="1.1" fill="#333"/>
<rect x="63.8" y="601.7" width="1.1" height="1.1" fill="#111"/>
<rect x="58.6" y="601.8" width="1.1" height="1.1" fill="#333"/>
<rect x="90.2" y="604.6" width="1.1" height="1.1" fill="#333"/>
<rect x="87.9" y="613.4" width="1.1" height="1.1" fill="#333"/>
<rect x="89.2" y="614.5" width="1.1" height="1.1" fill="#333"/>
<rect x="56.3" y="602.3" width="1.1" height="1.1" fill="#333"/>
<rect x="57.8" y="601.6" width="1.1" height="1.1" fill="#333"/>
<rect x="89.0" y="612.4" width="1.1" height="1.1" fill="#333"/>
<rect x="91.4" y="604.7" width="1.1" height="1.1" fill="#333"/>
<rect x="90.7" y="603.8" width="1.1" height="1.1" fill="#333"/>
<rect x="88.8" y="605.3" width="1.1" height="1.1" fill="#333"/>
<rect x="77.0" y="601.5" width="1.1" height="1.1" fill="#111"/>
<rect x="85.8" y="614.5" width="1.1" height="1.1" fill="#111"/>
<rect x="91.4" y="613.7" width="1.1" height="1.1" fill="#333"/>
<rect x="60.0" y="603.9" width="1.1" height="1.1" fill="#111"/>
<rect x="60.2" y="602.8" width="1.1" height="1.1" fill="#111"/>
<rect x="64.4" y="601.6" width="1.1" height="1.1" fill="#111"/>
<rect x="63.5" y="601.3" width="1.1" height="1.1" fill="#111"/>
<rect x="85.8" y="614.3" width="1.1" height="1.1" fill="#111"/>
<rect x="58.5" y="601.9" width="1.1" height="1.1" fill="#333"/>
<rect x="87.7" y="613.4" width="1.1" height="1.1" fill="#333"/>
<rect x="76.4" y="601.2" width="1.1" height="1.1" fill="#111"/>
<rect x="67.0" y="601.2" width="1.1" height="1.1" fill="#111"/>
<rect x="87.1" y="613.5" width="1.1" height="1.1" fill="#111"/>
<rect x="87.1" y="609.1" width="1.1" height="1.1" fill="#333"/>
<rect x="86.7" y="610.4" width="1.1" height="1.1" fill="#333"/>
<rect x="89.6" y="607.2" width="1.1" height="1.1" fill="#333"/>
<rect x="90.8" y="612.7" width="1.1" height="1.1" fill="#333"/>
<rect x="59.3" y="603.5" width="1.1" height="1.1" fill="#111"/>
<rect x="59.3" y="601.5" width="1.1" height="1.1" fill="#333"/>
<rect x="91.1" y="606.5" width="1.1" height="1.1" fill="#333"/>
<rect x="63.0" y="602.0" width="1.1" height="1.1" fill="#111"/>
<rect x="79.9" y="601.3" width="1.1" height="1.1" fill="#111"/>
<rect x="90.1" y="605.9" width="1.1" height="1.1" fill="#333"/>
<rect x="92.4" y="610.6" width="1.1" height="1.1" fill="#333"/>
<rect x="87.9" y="612.8" width="1.1" height="1.1" fill="#333"/>
<rect x="59.5" y="602.2" width="1.1" height="1.1" fill="#111"/>
<rect x="59.3" y="603.7" width="1.1" height="1.1" fill="#111"/>
<rect x="71.2" y="601.6" width="1.1" height="1.1" fill="#111"/>
<rect x="87.6" y="614.4" width="1.1" height="1.1" fill="#333"/>
<rect x="58.1" y="602.8" width="1.1" height="1.1" fill="#333"/>
<rect x="87.6" y="609.2" width="1.1" height="1.1" fill="#333"/>
<rect x="87.2" y="613.3" width="1.1" height="1.1" fill="#333"/>
<rect x="58.5" y="603.3" width="1.1" height="1.1" fill="#333"/>
<rect x="87.9" y="610.2" width="1.1" height="1.1" fill="#333"/>
<rect x="51.9" y="603.9" width="1.1" height="1.1" fill="#333"/>
<rect x="59.3" y="603.2" width="1.1" height="1.1" fill="#111"/>
<rect x="74.1" y="601.3" width="1.1" height="1.1" fill="#111"/>
<rect x="74.9" y="601.2" width="1.1" height="1.1" fill="#111"/>
<rect x="79.7" y="601.5" width="1.1" height="1.1" fill="#111"/>
<rect x="87.0" y="611.2" width="1.1" height="1.1" fill="#333"/>
<rect x="91.4" y="610.7" width="1.1" height="1.1" fill="#333"/>
<rect x="70.0" y="601.4" width="1.1" height="1.1" fill="#111"/>
<rect x="61.0" y="601.5" width="1.1" height="1.1" fill="#111"/>
<rect x="71.0" y="601.6" width="1.1" height="1.1" fill="#111"/>
<rect x="87.5" y="614.0" width="1.1" height="1.1" fill="#333"/>
<rect x="87.5" y="606.9" width="1.1" height="1.1" fill="#333"/>
<rect x="92.1" y="611.0" width="1.1" height="1.1" fill="#333"/>
<rect x="90.3" y="605.6" width="1.1" height="1.1" fill="#333"/>
<rect x="85.1" y="614.0" width="1.1" height="1.1" fill="#111"/>
<rect x="85.9" y="611.5" width="1.1" height="1.1" fill="#111"/>
<rect x="87.5" y="614.3" width="1.1" height="1.1" fill="#333"/>
<rect x="90.4" y="612.9" width="1.1" height="1.1" fill="#333"/>
<rect x="86.9" y="610.8" width="1.1" height="1.1" fill="#333"/>
<rect x="74.9" y="601.2" width="1.1" height="1.1" fill="#111"/>
<rect x="60.5" y="603.2" width="1.1" height="1.1" fill="#111"/>
<rect x="63.9" y="601.6" width="1.1" height="1.1" fill="#111"/>
<rect x="57.6" y="602.2" width="1.1" height="1.1" fill="#333"/>
<rect x="61.5" y="601.9" width="1.1" height="1.1" fill="#111"/>
<rect x="86.0" y="614.1" width="1.1" height="1.1" fill="#111"/>
<rect x="56.1" y="603.7" width="1.1" height="1.1" fill="#333"/>
<rect x="64.9" y="601.6" width="1.1" height="1.1" fill="#111"/>
<rect x="88.1" y="609.6" width="1.1" height="1.1" fill="#333"/>
<rect x="53.3" y="602.9" width="1.1" height="1.1" fill="#333"/>
<rect x="93.2" y="601.2" width="1.1" height="1.1" fill="#111"/>
<rect x="82.9" y="614.5" width="1.1" height="1.1" fill="#111"/>
<rect x="114.2" y="602.9" width="1.1" height="1.1" fill="#333"/>
<rect x="106.9" y="601.6" width="1.1" height="1.1" fill="#111"/>
<rect x="118.1" y="603.1" width="1.1" height="1.1" fill="#333"/>
<rect x="78.1" y="610.8" width="1.1" height="1.1" fill="#333"/>
<rect x="84.0" y="613.5" width="1.1" height="1.1" fill="#111"/>
<rect x="80.0" y="610.4" width="1.1" height="1.1" fill="#333"/>
<rect x="89.3" y="601.2" width="1.1" height="1.1" fill="#111"/>
<rect x="110.6" y="601.9" width="1.1" height="1.1" fill="#111"/>
<rect x="110.3" y="603.3" width="1.1" height="1.1" fill="#111"/>
<rect x="75.8" y="611.0" width="1.1" height="1.1" fill="#333"/>
<rect x="118.4" y="603.8" width="1.1" height="1.1" fill="#333"/>
<rect x="116.8" y="601.9" width="1.1" height="1.1" fill="#333"/>
<rect x="81.3" y="614.0" width="1.1" height="1.1" fill="#333"/>
<rect x="110.7" y="601.9" width="1.1" height="1.1" fill="#111"/>
<rect x="94.9" y="601.3" width="1.1" height="1.1" fill="#111"/>
<rect x="83.7" y="614.4" width="1.1" height="1.1" fill="#111"/>
<rect x="110.0" y="601.9" width="1.1" height="1.1" fill="#111"/>
<rect x="116.2" y="601.9" width="1.1" height="1.1" fill="#333"/>
<rect x="116.1" y="603.8" width="1.1" height="1.1" fill="#333"/>
<rect x="80.6" y="610.1" width="1.1" height="1.1" fill="#333"/>
<rect x="79.7" y="605.7" width="1.1" height="1.1" fill="#333"/>
<rect x="91.5" y="601.3" width="1.1" height="1.1" fill="#111"/>
<rect x="110.4" y="603.7" width="1.1" height="1.1" fill="#111"/>
<rect x="99.9" y="601.3" width="1.1" height="1.1" fill="#111"/>
<rect x="97.0" y="601.4" width="1.1" height="1.1" fill="#111"/>
<rect x="102.8" y="601.2" width="1.1" height="1.1" fill="#111"/>
<rect x="78.7" y="614.1" width="1.1" height="1.1" fill="#333"/>
<rect x="106.8" y="601.4" width="1.1" height="1.1" fill="#111"/>
<rect x="79.2" y="608.6" width="1.1" height="1.1" fill="#333"/>
<rect x="80.4" y="606.8" width="1.1" height="1.1" fill="#333"/>
<rect x="78.9" y="607.4" width="1.1" height="1.1" fill="#333"/>
<rect x="115.5" y="602.6" width="1.1" height="1.1" fill="#333"/>
<rect x="107.0" y="601.3" width="1.1" height="1.1" fill="#111"/>
<rect x="95.7" y="601.3" width="1.1" height="1.1" fill="#111"/>
<rect x="119.6" y="602.0" width="1.1" height="1.1" fill="#333"/>
<rect x="104.6" y="601.3" width="1.1" height="1.1" fill="#111"/>
<rect x="81.1" y="613.3" width="1.1" height="1.1" fill="#333"/>
<rect x="111.2" y="602.5" width="1.1" height="1.1" fill="#111"/>
<rect x="82.3" y="612.7" width="1.1" height="1.1" fill="#333"/>
<rect x="101.7" y="601.3" width="1.1" height="1.1" fill="#111"/>
<rect x="81.0" y="610.3" width="1.1" height="1.1" fill="#333"/>
<rect x="82.7" y="613.6" width="1.1" height="1.1" fill="#111"/>
<rect x="81.9" y="612.4" width="1.1" height="1.1" fill="#333"/>
<rect x="80.3" y="614.3" width="1.1" height="1.1" fill="#333"/>
<rect x="113.8" y="602.0" width="1.1" height="1.1" fill="#333"/>
<rect x="81.8" y="607.9" width="1.1" height="1.1" fill="#333"/>
<rect x="101.0" y="601.3" width="1.1" height="1.1" fill="#111"/>
<rect x="89.4" y="601.5" width="1.1" height="1.1" fill="#111"/>
<rect x="80.9" y="601.5" width="1.1" height="1.1" fill="#333"/>
<rect x="107.1" y="601.7" width="1.1" height="1.1" fill="#111"/>
<rect x="90.5" y="601.6" width="1.1" height="1.1" fill="#111"/>
<rect x="114.6" y="602.4" width="1.1" height="1.1" fill="#333"/>
<rect x="110.6" y="603.8" width="1.1" height="1.1" fill="#111"/>
<rect x="80.9" y="604.2" width="1.1" height="1.1" fill="#333"/>
<rect x="84.3" y="614.0" width="1.1" height="1.1" fill="#111"/>
<rect x="80.5" y="613.7" width="1.1" height="1.1" fill="#333"/>
<rect x="81.5" y="610.7" width="1.1" height="1.1" fill="#333"/>
<rect x="82.5" y="611.5" width="1.1" height="1.1" fill="#333"/>
<rect x="84.0" y="613.9" width="1.1" height="1.1" fill="#111"/>
<rect x="115.5" y="603.7" width="1.1" height="1.1" fill="#333"/>
<rect x="84.4" y="614.2" width="1.1" height="1.1" fill="#111"/>
<rect x="88.7" y="601.3" width="1.1" height="1.1" fill="#111"/>
<rect x="80.2" y="611.6" width="1.1" height="1.1" fill="#333"/>
<rect x="77.5" y="608.3" width="1.1" height="1.1" fill="#333"/>
<rect x="106.5" y="601.7" width="1.1" height="1.1" fill="#111"/>
<rect x="96.7" y="601.4" width="1.1" height="1.1" fill="#111"/>
<rect x="82.5" y="614.5" width="1.1" height="1.1" fill="#111"/>
<rect x="112.0" y="602.7" width="1.1" height="1.1" fill="#111"/>
<rect x="80.9" y="613.7" width="1.1" height="1.1" fill="#333"/>
<rect x="80.0" y="613.6" width="1.1" height="1.1" fill="#333"/>
<rect x="116.4" y="601.6" width="1.1" height="1.1" fill="#333"/>
<rect x="79.8" y="611.9" width="1.1" height="1.1" fill="#333"/>
<rect x="102.9" y="601.6" width="1.1" height="1.1" fill="#111"/>
<rect x="110.2" y="602.5" width="1.1" height="1.1" fill="#111"/>
<rect x="103.0" y="601.2" width="1.1" height="1.1" fill="#111"/>
<rect x="109.9" y="601.3" width="1.1" height="1.1" fill="#111"/>
<rect x="94.6" y="601.5" width="1.1" height="1.1" fill="#111"/>
<rect x="83.6" y="611.0" width="1.1" height="1.1" fill="#111"/>
<polygon fill="#1d5c9c" points="61.70,602.30 62.96,602.30 65.47,602.30 69.24,602.30 74.26,602.30 78.00,601.97 80.45,601.31 81.61,600.31 81.49,598.99 81.28,597.74 80.99,596.58 80.62,595.50 80.18,594.50 79.49,593.59 78.58,592.78 77.44,592.06 76.06,591.44 74.59,590.95 73.03,590.60 71.38,590.39 69.62,590.31 68.06,590.37 66.69,590.56 65.50,590.88 64.50,591.33 63.66,591.91 62.97,592.64 62.44,593.50 62.06,594.50 61.78,595.25 61.59,595.75 61.50,596.00"/>
<polygon fill="#e5172d" points="88.80,602.30 90.23,602.30 93.09,602.30 97.39,602.30 103.11,602.30 107.39,601.97 110.23,601.31 111.63,600.31 111.57,598.99 111.38,597.74 111.04,596.58 110.56,595.50 109.94,594.50 109.09,593.58 108.03,592.72 106.75,591.95 105.25,591.25 103.62,590.70 101.88,590.30 100.00,590.05 98.00,589.95 96.22,590.01 94.66,590.24 93.31,590.62 92.19,591.17 91.24,591.84 90.46,592.61 89.86,593.50 89.44,594.50 89.12,595.25 88.91,595.75 88.80,596.00"/>
<rect x="62.2" y="588.7" width="1.1" height="1.1" fill="#2a68a8"/>
<rect x="78.5" y="586.0" width="1.1" height="1.1" fill="#2a68a8"/>
<rect x="61.9" y="594.1" width="1.1" height="1.1" fill="#2a68a8"/>
<rect x="72.2" y="591.0" width="1.1" height="1.1" fill="#2a68a8"/>
<rect x="64.2" y="597.7" width="1.1" height="1.1" fill="#2a68a8"/>
<rect x="61.3" y="593.9" width="1.1" height="1.1" fill="#2a68a8"/>
<rect x="73.4" y="577.8" width="1.1" height="1.1" fill="#2a68a8"/>
<rect x="62.3" y="587.4" width="1.1" height="1.1" fill="#2a68a8"/>
<rect x="51.4" y="586.8" width="1.1" height="1.1" fill="#2a68a8"/>
<rect x="66.5" y="600.7" width="1.1" height="1.1" fill="#2a68a8"/>
<rect x="61.4" y="598.7" width="1.1" height="1.1" fill="#2a68a8"/>
<rect x="52.3" y="592.2" width="1.1" height="1.1" fill="#2a68a8"/>
<rect x="78.2" y="600.3" width="1.1" height="1.1" fill="#2a68a8"/>
<rect x="55.7" y="597.3" width="1.1" height="1.1" fill="#2a68a8"/>
<rect x="68.7" y="601.3" width="1.1" height="1.1" fill="#2a68a8"/>
<rect x="65.8" y="601.0" width="1.1" height="1.1" fill="#2a68a8"/>
<rect x="60.7" y="580.4" width="1.1" height="1.1" fill="#2a68a8"/>
<rect x="56.0" y="597.0" width="1.1" height="1.1" fill="#2a68a8"/>
<rect x="73.7" y="589.0" width="1.1" height="1.1" fill="#2a68a8"/>
<rect x="52.9" y="584.6" width="1.1" height="1.1" fill="#2a68a8"/>
<rect x="72.1" y="591.5" width="1.1" height="1.1" fill="#2a68a8"/>
<rect x="70.2" y="594.5" width="1.1" height="1.1" fill="#2a68a8"/>
<rect x="52.7" y="593.2" width="1.1" height="1.1" fill="#2a68a8"/>
<rect x="72.7" y="600.5" width="1.1" height="1.1" fill="#2a68a8"/>
<rect x="51.2" y="597.1" width="1.1" height="1.1" fill="#2a68a8"/>
<rect x="58.4" y="593.9" width="1.1" height="1.1" fill="#2a68a8"/>
<rect x="72.3" y="597.3" width="1.1" height="1.1" fill="#2a68a8"/>
<rect x="64.2" y="592.7" width="1.1" height="1.1" fill="#2a68a8"/>
<rect x="62.2" y="598.0" width="1.1" height="1.1" fill="#2a68a8"/>
<rect x="75.2" y="572.4" width="1.1" height="1.1" fill="#2a68a8"/>
<rect x="73.2" y="600.8" width="1.1" height="1.1" fill="#2a68a8"/>
<rect x="60.6" y="598.2" width="1.1" height="1.1" fill="#2a68a8"/>
<rect x="59.7" y="598.7" width="1.1" height="1.1" fill="#2a68a8"/>
<rect x="68.0" y="592.6" width="1.1" height="1.1" fill="#2a68a8"/>
<rect x="63.2" y="589.6" width="1.1" height="1.1" fill="#2a68a8"/>
<rect x="78.1" y="591.2" width="1.1" height="1.1" fill="#2a68a8"/>
<rect x="60.9" y="601.1" width="1.1" height="1.1" fill="#2a68a8"/>
<rect x="65.2" y="600.7" width="1.1" height="1.1" fill="#2a68a8"/>
<rect x="76.2" y="594.0" width="1.1" height="1.1" fill="#2a68a8"/>
<rect x="50.1" y="598.6" width="1.1" height="1.1" fill="#2a68a8"/>
<rect x="61.1" y="591.8" width="1.1" height="1.1" fill="#2a68a8"/>
<rect x="71.6" y="600.4" width="1.1" height="1.1" fill="#2a68a8"/>
<rect x="76.1" y="588.5" width="1.1" height="1.1" fill="#2a68a8"/>
<rect x="75.4" y="596.4" width="1.1" height="1.1" fill="#2a68a8"/>
<rect x="55.5" y="600.2" width="1.1" height="1.1" fill="#2a68a8"/>
<rect x="66.1" y="597.2" width="1.1" height="1.1" fill="#2a68a8"/>
<rect x="54.1" y="599.1" width="1.1" height="1.1" fill="#2a68a8"/>
<rect x="65.6" y="587.2" width="1.1" height="1.1" fill="#2a68a8"/>
<rect x="72.3" y="590.5" width="1.1" height="1.1" fill="#2a68a8"/>
<rect x="76.0" y="587.7" width="1.1" height="1.1" fill="#2a68a8"/>
<rect x="54.4" y="584.3" width="1.1" height="1.1" fill="#2a68a8"/>
<rect x="59.9" y="578.2" width="1.1" height="1.1" fill="#2a68a8"/>
<rect x="52.3" y="596.2" width="1.1" height="1.1" fill="#2a68a8"/>
<rect x="54.8" y="589.6" width="1.1" height="1.1" fill="#2a68a8"/>
<rect x="64.6" y="574.6" width="1.1" height="1.1" fill="#2a68a8"/>
<rect x="54.7" y="596.0" width="1.1" height="1.1" fill="#2a68a8"/>
<rect x="80.2" y="601.3" width="1.1" height="1.1" fill="#2a68a8"/>
<rect x="69.5" y="564.7" width="1.1" height="1.1" fill="#2a68a8"/>
<rect x="80.8" y="601.4" width="1.1" height="1.1" fill="#2a68a8"/>
<rect x="54.8" y="591.4" width="1.1" height="1.1" fill="#2a68a8"/>
<rect x="57.3" y="590.2" width="1.1" height="1.1" fill="#2a68a8"/>
<rect x="59.2" y="580.4" width="1.1" height="1.1" fill="#2a68a8"/>
<rect x="67.5" y="589.3" width="1.1" height="1.1" fill="#2a68a8"/>
<rect x="71.6" y="586.6" width="1.1" height="1.1" fill="#2a68a8"/>
<rect x="56.0" y="597.4" width="1.1" height="1.1" fill="#2a68a8"/>
<rect x="62.3" y="597.0" width="1.1" height="1.1" fill="#2a68a8"/>
<rect x="52.2" y="598.4" width="1.1" height="1.1" fill="#2a68a8"/>
<rect x="62.8" y="601.3" width="1.1" height="1.1" fill="#2a68a8"/>
<rect x="60.6" y="595.1" width="1.1" height="1.1" fill="#2a68a8"/>
<rect x="75.2" y="584.5" width="1.1" height="1.1" fill="#2a68a8"/>
<rect x="70.2" y="573.0" width="1.1" height="1.1" fill="#2a68a8"/>
<rect x="64.9" y="562.6" width="1.1" height="1.1" fill="#2a68a8"/>
<rect x="73.5" y="580.2" width="1.1" height="1.1" fill="#2a68a8"/>
<rect x="68.5" y="601.3" width="1.1" height="1.1" fill="#2a68a8"/>
<rect x="74.5" y="599.4" width="1.1" height="1.1" fill="#2a68a8"/>
<rect x="56.4" y="600.9" width="1.1" height="1.1" fill="#2a68a8"/>
<rect x="74.6" y="594.9" width="1.1" height="1.1" fill="#2a68a8"/>
<rect x="55.6" y="583.3" width="1.1" height="1.1" fill="#2a68a8"/>
<rect x="79.3" y="598.3" width="1.1" height="1.1" fill="#2a68a8"/>
<rect x="52.4" y="597.3" width="1.1" height="1.1" fill="#2a68a8"/>
<rect x="54.1" y="590.9" width="1.1" height="1.1" fill="#2a68a8"/>
<rect x="63.3" y="596.2" width="1.1" height="1.1" fill="#2a68a8"/>
<rect x="70.1" y="578.1" width="1.1" height="1.1" fill="#2a68a8"/>
<rect x="65.5" y="592.2" width="1.1" height="1.1" fill="#2a68a8"/>
<rect x="69.9" y="597.4" width="1.1" height="1.1" fill="#2a68a8"/>
<rect x="62.9" y="599.4" width="1.1" height="1.1" fill="#2a68a8"/>
<rect x="66.1" y="593.0" width="1.1" height="1.1" fill="#2a68a8"/>
<rect x="65.9" y="596.9" width="1.1" height="1.1" fill="#2a68a8"/>
<rect x="63.3" y="600.6" width="1.1" height="1.1" fill="#2a68a8"/>
<rect x="73.9" y="571.9" width="1.1" height="1.1" fill="#2a68a8"/>
<rect x="57.6" y="592.3" width="1.1" height="1.1" fill="#2a68a8"/>
<rect x="63.5" y="595.0" width="1.1" height="1.1" fill="#2a68a8"/>
<rect x="52.0" y="595.2" width="1.1" height="1.1" fill="#2a68a8"/>
<rect x="61.6" y="586.4" width="1.1" height="1.1" fill="#2a68a8"/>
<rect x="51.7" y="590.7" width="1.1" height="1.1" fill="#2a68a8"/>
<rect x="64.0" y="599.7" width="1.1" height="1.1" fill="#2a68a8"/>
<rect x="72.4" y="600.1" width="1.1" height="1.1" fill="#2a68a8"/>
<rect x="61.0" y="598.5" width="1.1" height="1.1" fill="#2a68a8"/>
<rect x="70.9" y="594.5" width="1.1" height="1.1" fill="#2a68a8"/>
<rect x="58.0" y="591.5" width="1.1" height="1.1" fill="#2a68a8"/>
<rect x="70.5" y="595.7" width="1.1" height="1.1" fill="#2a68a8"/>
<rect x="74.0" y="591.6" width="1.1" height="1.1" fill="#2a68a8"/>
<rect x="49.5" y="592.9" width="1.1" height="1.1" fill="#2a68a8"/>
<rect x="51.4" y="600.7" width="1.1" height="1.1" fill="#2a68a8"/>
<rect x="54.3" y="595.2" width="1.1" height="1.1" fill="#2a68a8"/>
<rect x="63.9" y="587.2" width="1.1" height="1.1" fill="#2a68a8"/>
<rect x="76.8" y="584.2" width="1.1" height="1.1" fill="#2a68a8"/>
<rect x="60.0" y="575.8" width="1.1" height="1.1" fill="#2a68a8"/>
<rect x="74.1" y="576.7" width="1.1" height="1.1" fill="#2a68a8"/>
<rect x="61.0" y="601.3" width="1.1" height="1.1" fill="#2a68a8"/>
<rect x="72.3" y="586.8" width="1.1" height="1.1" fill="#2a68a8"/>
<rect x="53.8" y="593.3" width="1.1" height="1.1" fill="#2a68a8"/>
<rect x="68.4" y="591.7" width="1.1" height="1.1" fill="#2a68a8"/>
<rect x="55.2" y="587.4" width="1.1" height="1.1" fill="#2a68a8"/>
<rect x="70.8" y="599.6" width="1.1" height="1.1" fill="#2a68a8"/>
<rect x="61.5" y="600.7" width="1.1" height="1.1" fill="#2a68a8"/>
<rect x="57.7" y="601.3" width="1.1" height="1.1" fill="#2a68a8"/>
<rect x="73.3" y="594.9" width="1.1" height="1.1" fill="#2a68a8"/>
<rect x="56.4" y="594.4" width="1.1" height="1.1" fill="#2a68a8"/>
<rect x="66.2" y="579.2" width="1.1" height="1.1" fill="#2a68a8"/>
<rect x="54.1" y="597.8" width="1.1" height="1.1" fill="#2a68a8"/>
<rect x="54.7" y="586.2" width="1.1" height="1.1" fill="#2a68a8"/>
<rect x="72.6" y="599.9" width="1.1" height="1.1" fill="#2a68a8"/>
<rect x="73.0" y="581.2" width="1.1" height="1.1" fill="#2a68a8"/>
<rect x="54.3" y="585.6" width="1.1" height="1.1" fill="#2a68a8"/>
<rect x="60.4" y="589.1" width="1.1" height="1.1" fill="#2a68a8"/>
<rect x="64.6" y="569.0" width="1.1" height="1.1" fill="#2a68a8"/>
<rect x="72.1" y="582.5" width="1.1" height="1.1" fill="#2a68a8"/>
<rect x="53.7" y="586.1" width="1.1" height="1.1" fill="#2a68a8"/>
<rect x="55.0" y="580.3" width="1.1" height="1.1" fill="#2a68a8"/>
<rect x="76.5" y="600.8" width="1.1" height="1.1" fill="#2a68a8"/>
<rect x="74.2" y="580.7" width="1.1" height="1.1" fill="#2a68a8"/>
<rect x="70.5" y="591.5" width="1.1" height="1.1" fill="#2a68a8"/>
<rect x="69.3" y="598.5" width="1.1" height="1.1" fill="#2a68a8"/>
<rect x="61.0" y="585.6" width="1.1" height="1.1" fill="#2a68a8"/>
<rect x="59.4" y="592.0" width="1.1" height="1.1" fill="#2a68a8"/>
<rect x="63.0" y="584.0" width="1.1" height="1.1" fill="#2a68a8"/>
<rect x="57.7" y="595.7" width="1.1" height="1.1" fill="#2a68a8"/>
<rect x="80.8" y="596.8" width="1.1" height="1.1" fill="#2a68a8"/>
<rect x="63.1" y="595.2" width="1.1" height="1.1" fill="#2a68a8"/>
<rect x="70.6" y="575.0" width="1.1" height="1.1" fill="#2a68a8"/>
<rect x="70.2" y="585.2" width="1.1" height="1.1" fill="#2a68a8"/>
<rect x="78.5" y="591.1" width="1.1" height="1.1" fill="#2a68a8"/>
<rect x="64.2" y="597.5" width="1.1" height="1.1" fill="#2a68a8"/>
<rect x="66.3" y="591.0" width="1.1" height="1.1" fill="#2a68a8"/>
<rect x="71.0" y="598.0" width="1.1" height="1.1" fill="#2a68a8"/>
<rect x="74.2" y="583.9" width="1.1" height="1.1" fill="#2a68a8"/>
<rect x="68.0" y="582.6" width="1.1" height="1.1" fill="#2a68a8"/>
<rect x="59.2" y="595.7" width="1.1" height="1.1" fill="#2a68a8"/>
<rect x="53.1" y="587.3" width="1.1" height="1.1" fill="#2a68a8"/>
<rect x="80.5" y="597.1" width="1.1" height="1.1" fill="#2a68a8"/>
<rect x="53.5" y="599.6" width="1.1" height="1.1" fill="#2a68a8"/>
<rect x="75.9" y="600.8" width="1.1" height="1.1" fill="#2a68a8"/>
<rect x="64.3" y="595.4" width="1.1" height="1.1" fill="#2a68a8"/>
<rect x="69.5" y="574.8" width="1.1" height="1.1" fill="#2a68a8"/>
<rect x="77.8" y="595.2" width="1.1" height="1.1" fill="#2a68a8"/>
<rect x="59.0" y="583.5" width="1.1" height="1.1" fill="#2a68a8"/>
<rect x="66.7" y="598.5" width="1.1" height="1.1" fill="#2a68a8"/>
<rect x="73.9" y="593.3" width="1.1" height="1.1" fill="#2a68a8"/>
<rect x="74.5" y="597.0" width="1.1" height="1.1" fill="#2a68a8"/>
<rect x="79.3" y="590.8" width="1.1" height="1.1" fill="#2a68a8"/>
<rect x="55.2" y="599.0" width="1.1" height="1.1" fill="#2a68a8"/>
<rect x="63.9" y="595.9" width="1.1" height="1.1" fill="#2a68a8"/>
<rect x="64.2" y="598.2" width="1.1" height="1.1" fill="#2a68a8"/>
<rect x="66.9" y="600.2" width="1.1" height="1.1" fill="#2a68a8"/>
<rect x="52.3" y="600.7" width="1.1" height="1.1" fill="#2a68a8"/>
<rect x="52.2" y="598.1" width="1.1" height="1.1" fill="#2a68a8"/>
<rect x="67.6" y="599.6" width="1.1" height="1.1" fill="#2a68a8"/>
<rect x="65.5" y="597.5" width="1.1" height="1.1" fill="#2a68a8"/>
<rect x="75.0" y="600.7" width="1.1" height="1.1" fill="#2a68a8"/>
<rect x="51.6" y="587.5" width="1.1" height="1.1" fill="#2a68a8"/>
<rect x="79.5" y="589.1" width="1.1" height="1.1" fill="#2a68a8"/>
<rect x="64.2" y="596.0" width="1.1" height="1.1" fill="#2a68a8"/>
<rect x="71.1" y="589.5" width="1.1" height="1.1" fill="#2a68a8"/>
<rect x="59.9" y="586.8" width="1.1" height="1.1" fill="#2a68a8"/>
<rect x="67.1" y="590.9" width="1.1" height="1.1" fill="#2a68a8"/>
<rect x="69.3" y="600.7" width="1.1" height="1.1" fill="#2a68a8"/>
<rect x="74.2" y="587.0" width="1.1" height="1.1" fill="#2a68a8"/>
<rect x="64.9" y="600.6" width="1.1" height="1.1" fill="#2a68a8"/>
<rect x="57.8" y="597.5" width="1.1" height="1.1" fill="#2a68a8"/>
<rect x="72.0" y="589.4" width="1.1" height="1.1" fill="#2a68a8"/>
<rect x="55.9" y="579.4" width="1.1" height="1.1" fill="#2a68a8"/>
<rect x="66.6" y="579.0" width="1.1" height="1.1" fill="#2a68a8"/>
<rect x="60.1" y="596.3" width="1.1" height="1.1" fill="#2a68a8"/>
<rect x="70.6" y="575.9" width="1.1" height="1.1" fill="#2a68a8"/>
<rect x="50.6" y="598.6" width="1.1" height="1.1" fill="#2a68a8"/>
<rect x="52.0" y="588.0" width="1.1" height="1.1" fill="#2a68a8"/>
<rect x="52.1" y="598.9" width="1.1" height="1.1" fill="#2a68a8"/>
<rect x="72.1" y="597.2" width="1.1" height="1.1" fill="#2a68a8"/>
<rect x="59.3" y="597.9" width="1.1" height="1.1" fill="#2a68a8"/>
<rect x="67.0" y="580.9" width="1.1" height="1.1" fill="#2a68a8"/>
<rect x="62.9" y="580.9" width="1.1" height="1.1" fill="#2a68a8"/>
<rect x="51.7" y="597.9" width="1.1" height="1.1" fill="#2a68a8"/>
<rect x="78.0" y="596.8" width="1.1" height="1.1" fill="#2a68a8"/>
<rect x="67.4" y="601.1" width="1.1" height="1.1" fill="#2a68a8"/>
<rect x="64.1" y="598.2" width="1.1" height="1.1" fill="#2a68a8"/>
<rect x="55.6" y="585.1" width="1.1" height="1.1" fill="#2a68a8"/>
<rect x="58.7" y="592.3" width="1.1" height="1.1" fill="#2a68a8"/>
<rect x="66.9" y="574.8" width="1.1" height="1.1" fill="#2a68a8"/>
<rect x="72.4" y="595.6" width="1.1" height="1.1" fill="#2a68a8"/>
<rect x="72.9" y="570.8" width="1.1" height="1.1" fill="#2a68a8"/>
<rect x="60.6" y="580.1" width="1.1" height="1.1" fill="#2a68a8"/>
<rect x="64.4" y="594.1" width="1.1" height="1.1" fill="#2a68a8"/>
<rect x="69.3" y="596.9" width="1.1" height="1.1" fill="#2a68a8"/>
<rect x="63.4" y="583.1" width="1.1" height="1.1" fill="#2a68a8"/>
<rect x="54.8" y="597.1" width="1.1" height="1.1" fill="#2a68a8"/>
<rect x="72.2" y="587.2" width="1.1" height="1.1" fill="#2a68a8"/>
<rect x="66.4" y="588.1" width="1.1" height="1.1" fill="#2a68a8"/>
<rect x="62.6" y="577.5" width="1.1" height="1.1" fill="#2a68a8"/>
<rect x="62.6" y="591.3" width="1.1" height="1.1" fill="#2a68a8"/>
<rect x="50.7" y="593.0" width="1.1" height="1.1" fill="#2a68a8"/>
<rect x="51.5" y="586.9" width="1.1" height="1.1" fill="#2a68a8"/>
<rect x="60.0" y="592.3" width="1.1" height="1.1" fill="#2a68a8"/>
<rect x="60.9" y="598.7" width="1.1" height="1.1" fill="#2a68a8"/>
<rect x="78.5" y="587.0" width="1.1" height="1.1" fill="#2a68a8"/>
<rect x="52.3" y="598.3" width="1.1" height="1.1" fill="#2a68a8"/>
<rect x="79.4" y="589.2" width="1.1" height="1.1" fill="#2a68a8"/>
<rect x="67.5" y="596.8" width="1.1" height="1.1" fill="#2a68a8"/>
<rect x="66.8" y="590.9" width="1.1" height="1.1" fill="#2a68a8"/>
<rect x="65.1" y="599.8" width="1.1" height="1.1" fill="#2a68a8"/>
<rect x="51.7" y="591.8" width="1.1" height="1.1" fill="#2a68a8"/>
<rect x="52.0" y="589.0" width="1.1" height="1.1" fill="#2a68a8"/>
<rect x="60.5" y="587.0" width="1.1" height="1.1" fill="#2a68a8"/>
<rect x="67.8" y="596.4" width="1.1" height="1.1" fill="#2a68a8"/>
<rect x="69.9" y="591.7" width="1.1" height="1.1" fill="#2a68a8"/>
<rect x="58.4" y="578.5" width="1.1" height="1.1" fill="#2a68a8"/>
<rect x="78.2" y="599.4" width="1.1" height="1.1" fill="#2a68a8"/>
<rect x="67.0" y="575.2" width="1.1" height="1.1" fill="#2a68a8"/>
<rect x="73.1" y="587.2" width="1.1" height="1.1" fill="#2a68a8"/>
<rect x="54.8" y="589.2" width="1.1" height="1.1" fill="#2a68a8"/>
<rect x="51.5" y="600.7" width="1.1" height="1.1" fill="#2a68a8"/>
<rect x="60.7" y="598.2" width="1.1" height="1.1" fill="#2a68a8"/>
<rect x="55.0" y="595.2" width="1.1" height="1.1" fill="#2a68a8"/>
<rect x="50.6" y="600.6" width="1.1" height="1.1" fill="#2a68a8"/>
<rect x="74.6" y="592.7" width="1.1" height="1.1" fill="#2a68a8"/>
<rect x="75.4" y="590.6" width="1.1" height="1.1" fill="#2a68a8"/>
<rect x="54.3" y="599.1" width="1.1" height="1.1" fill="#2a68a8"/>
<rect x="51.2" y="596.4" width="1.1" height="1.1" fill="#2a68a8"/>
<rect x="68.6" y="599.6" width="1.1" height="1.1" fill="#2a68a8"/>
<rect x="60.9" y="596.4" width="1.1" height="1.1" fill="#2a68a8"/>
<rect x="59.5" y="599.9" width="1.1" height="1.1" fill="#2a68a8"/>
<rect x="61.8" y="593.5" width="1.1" height="1.1" fill="#2a68a8"/>
<rect x="69.8" y="592.7" width="1.1" height="1.1" fill="#2a68a8"/>
<rect x="60.3" y="598.0" width="1.1" height="1.1" fill="#2a68a8"/>
<rect x="75.1" y="598.9" width="1.1" height="1.1" fill="#2a68a8"/>
<rect x="60.4" y="576.4" width="1.1" height="1.1" fill="#2a68a8"/>
<rect x="57.8" y="595.5" width="1.1" height="1.1" fill="#2a68a8"/>
<rect x="51.5" y="591.1" width="1.1" height="1.1" fill="#2a68a8"/>
<rect x="56.2" y="592.1" width="1.1" height="1.1" fill="#2a68a8"/>
<rect x="68.6" y="599.1" width="1.1" height="1.1" fill="#2a68a8"/>
<rect x="67.6" y="600.4" width="1.1" height="1.1" fill="#2a68a8"/>
<rect x="59.8" y="580.2" width="1.1" height="1.1" fill="#2a68a8"/>
<rect x="71.5" y="585.7" width="1.1" height="1.1" fill="#2a68a8"/>
<rect x="75.6" y="600.3" width="1.1" height="1.1" fill="#2a68a8"/>
<rect x="74.0" y="598.0" width="1.1" height="1.1" fill="#2a68a8"/>
<rect x="80.5" y="592.2" width="1.1" height="1.1" fill="#2a68a8"/>
<rect x="52.5" y="600.5" width="1.1" height="1.1" fill="#2a68a8"/>
<rect x="68.7" y="595.1" width="1.1" height="1.1" fill="#2a68a8"/>
<rect x="72.3" y="598.0" width="1.1" height="1.1" fill="#2a68a8"/>
<rect x="65.5" y="592.7" width="1.1" height="1.1" fill="#2a68a8"/>
<rect x="62.4" y="581.1" width="1.1" height="1.1" fill="#2a68a8"/>
<rect x="75.5" y="596.6" width="1.1" height="1.1" fill="#2a68a8"/>
<rect x="58.3" y="583.4" width="1.1" height="1.1" fill="#2a68a8"/>
<rect x="59.1" y="591.0" width="1.1" height="1.1" fill="#2a68a8"/>
<rect x="56.9" y="576.0" width="1.1" height="1.1" fill="#2a68a8"/>
<rect x="60.8" y="591.0" width="1.1" height="1.1" fill="#2a68a8"/>
<rect x="68.9" y="595.5" width="1.1" height="1.1" fill="#2a68a8"/>
<rect x="71.3" y="587.4" width="1.1" height="1.1" fill="#2a68a8"/>
<rect x="79.0" y="596.9" width="1.1" height="1.1" fill="#2a68a8"/>
<rect x="58.1" y="593.6" width="1.1" height="1.1" fill="#2a68a8"/>
<rect x="54.6" y="600.5" width="1.1" height="1.1" fill="#2a68a8"/>
<rect x="55.0" y="599.9" width="1.1" height="1.1" fill="#2a68a8"/>
<rect x="53.3" y="600.7" width="1.1" height="1.1" fill="#2a68a8"/>
<rect x="73.1" y="599.2" width="1.1" height="1.1" fill="#2a68a8"/>
<rect x="75.3" y="576.1" width="1.1" height="1.1" fill="#2a68a8"/>
<rect x="61.4" y="590.3" width="1.1" height="1.1" fill="#2a68a8"/>
<rect x="53.6" y="595.0" width="1.1" height="1.1" fill="#2a68a8"/>
<rect x="50.5" y="595.6" width="1.1" height="1.1" fill="#2a68a8"/>
<rect x="71.0" y="590.7" width="1.1" height="1.1" fill="#2a68a8"/>
<rect x="53.2" y="595.6" width="1.1" height="1.1" fill="#2a68a8"/>
<rect x="57.5" y="593.2" width="1.1" height="1.1" fill="#2a68a8"/>
<rect x="80.2" y="592.4" width="1.1" height="1.1" fill="#2a68a8"/>
<rect x="68.3" y="596.1" width="1.1" height="1.1" fill="#2a68a8"/>
<rect x="77.6" y="599.3" width="1.1" height="1.1" fill="#2a68a8"/>
<rect x="77.7" y="587.9" width="1.1" height="1.1" fill="#2a68a8"/>
<rect x="68.6" y="597.5" width="1.1" height="1.1" fill="#2a68a8"/>
<rect x="60.1" y="585.8" width="1.1" height="1.1" fill="#2a68a8"/>
<rect x="52.2" y="600.0" width="1.1" height="1.1" fill="#2a68a8"/>
<rect x="63.7" y="595.7" width="1.1" height="1.1" fill="#2a68a8"/>
<rect x="50.2" y="592.1" width="1.1" height="1.1" fill="#2a68a8"/>
<rect x="53.4" y="595.3" width="1.1" height="1.1" fill="#2a68a8"/>
<rect x="54.0" y="594.9" width="1.1" height="1.1" fill="#2a68a8"/>
<rect x="71.8" y="600.6" width="1.1" height="1.1" fill="#2a68a8"/>
<rect x="65.7" y="592.0" width="1.1" height="1.1" fill="#2a68a8"/>
<rect x="80.2" y="599.5" width="1.1" height="1.1" fill="#2a68a8"/>
<rect x="78.0" y="598.5" width="1.1" height="1.1" fill="#2a68a8"/>
<rect x="66.2" y="596.7" width="1.1" height="1.1" fill="#2a68a8"/>
<rect x="54.9" y="601.0" width="1.1" height="1.1" fill="#2a68a8"/>
<rect x="73.8" y="593.6" width="1.1" height="1.1" fill="#2a68a8"/>
<rect x="62.8" y="592.2" width="1.1" height="1.1" fill="#2a68a8"/>
<rect x="64.2" y="594.8" width="1.1" height="1.1" fill="#2a68a8"/>
<rect x="74.5" y="597.6" width="1.1" height="1.1" fill="#2a68a8"/>
<rect x="68.1" y="581.9" width="1.1" height="1.1" fill="#2a68a8"/>
<rect x="63.4" y="586.9" width="1.1" height="1.1" fill="#2a68a8"/>
<rect x="75.2" y="582.9" width="1.1" height="1.1" fill="#2a68a8"/>
<rect x="52.4" y="590.8" width="1.1" height="1.1" fill="#2a68a8"/>
<rect x="78.0" y="592.8" width="1.1" height="1.1" fill="#2a68a8"/>
<rect x="78.3" y="599.5" width="1.1" height="1.1" fill="#2a68a8"/>
<rect x="66.9" y="594.4" width="1.1" height="1.1" fill="#2a68a8"/>
<rect x="61.8" y="586.3" width="1.1" height="1.1" fill="#2a68a8"/>
<rect x="75.7" y="593.2" width="1.1" height="1.1" fill="#2a68a8"/>
<rect x="70.4" y="597.7" width="1.1" height="1.1" fill="#2a68a8"/>
<rect x="57.1" y="600.3" width="1.1" height="1.1" fill="#2a68a8"/>
<rect x="53.2" y="600.8" width="1.1" height="1.1" fill="#2a68a8"/>
<rect x="53.4" y="598.1" width="1.1" height="1.1" fill="#2a68a8"/>
<rect x="68.8" y="595.8" width="1.1" height="1.1" fill="#2a68a8"/>
<rect x="60.1" y="583.7" width="1.1" height="1.1" fill="#2a68a8"/>
<rect x="55.6" y="601.2" width="1.1" height="1.1" fill="#2a68a8"/>
<rect x="73.6" y="600.7" width="1.1" height="1.1" fill="#2a68a8"/>
<rect x="65.1" y="591.3" width="1.1" height="1.1" fill="#2a68a8"/>
<rect x="77.2" y="584.8" width="1.1" height="1.1" fill="#2a68a8"/>
<rect x="67.4" y="593.1" width="1.1" height="1.1" fill="#2a68a8"/>
<rect x="53.1" y="598.8" width="1.1" height="1.1" fill="#2a68a8"/>
<rect x="50.2" y="597.6" width="1.1" height="1.1" fill="#2a68a8"/>
<rect x="64.0" y="590.1" width="1.1" height="1.1" fill="#2a68a8"/>
<rect x="54.8" y="597.1" width="1.1" height="1.1" fill="#2a68a8"/>
<rect x="65.6" y="599.5" width="1.1" height="1.1" fill="#2a68a8"/>
<rect x="76.6" y="596.5" width="1.1" height="1.1" fill="#2a68a8"/>
<rect x="49.6" y="592.7" width="1.1" height="1.1" fill="#2a68a8"/>
<rect x="68.8" y="595.1" width="1.1" height="1.1" fill="#2a68a8"/>
<rect x="76.9" y="592.3" width="1.1" height="1.1" fill="#2a68a8"/>
<rect x="54.4" y="587.4" width="1.1" height="1.1" fill="#2a68a8"/>
<rect x="72.6" y="600.6" width="1.1" height="1.1" fill="#2a68a8"/>
<rect x="69.0" y="578.5" width="1.1" height="1.1" fill="#2a68a8"/>
<rect x="65.2" y="589.2" width="1.1" height="1.1" fill="#2a68a8"/>
<rect x="76.8" y="598.6" width="1.1" height="1.1" fill="#2a68a8"/>
<rect x="74.6" y="585.3" width="1.1" height="1.1" fill="#2a68a8"/>
<rect x="65.5" y="597.0" width="1.1" height="1.1" fill="#2a68a8"/>
<rect x="56.4" y="596.0" width="1.1" height="1.1" fill="#2a68a8"/>
<rect x="57.5" y="595.7" width="1.1" height="1.1" fill="#2a68a8"/>
<rect x="55.3" y="597.7" width="1.1" height="1.1" fill="#2a68a8"/>
<rect x="56.2" y="599.7" width="1.1" height="1.1" fill="#2a68a8"/>
<rect x="69.1" y="595.8" width="1.1" height="1.1" fill="#2a68a8"/>
<rect x="76.5" y="599.8" width="1.1" height="1.1" fill="#2a68a8"/>
<rect x="62.5" y="591.8" width="1.1" height="1.1" fill="#2a68a8"/>
<rect x="53.6" y="593.4" width="1.1" height="1.1" fill="#2a68a8"/>
<rect x="57.2" y="588.3" width="1.1" height="1.1" fill="#2a68a8"/>
<rect x="74.2" y="587.7" width="1.1" height="1.1" fill="#2a68a8"/>
<rect x="71.4" y="592.1" width="1.1" height="1.1" fill="#2a68a8"/>
<rect x="55.4" y="593.8" width="1.1" height="1.1" fill="#2a68a8"/>
<rect x="72.8" y="599.4" width="1.1" height="1.1" fill="#2a68a8"/>
<rect x="72.1" y="573.6" width="1.1" height="1.1" fill="#2a68a8"/>
<rect x="70.2" y="598.9" width="1.1" height="1.1" fill="#2a68a8"/>
<rect x="73.9" y="599.3" width="1.1" height="1.1" fill="#2a68a8"/>
<rect x="72.3" y="584.9" width="1.1" height="1.1" fill="#2a68a8"/>
<rect x="65.8" y="598.0" width="1.1" height="1.1" fill="#2a68a8"/>
<rect x="74.6" y="593.4" width="1.1" height="1.1" fill="#2a68a8"/>
<rect x="51.2" y="589.1" width="1.1" height="1.1" fill="#2a68a8"/>
<rect x="70.2" y="581.6" width="1.1" height="1.1" fill="#2a68a8"/>
<rect x="71.4" y="601.1" width="1.1" height="1.1" fill="#2a68a8"/>
<rect x="58.5" y="584.9" width="1.1" height="1.1" fill="#1b3f66"/>
<rect x="66.7" y="592.0" width="1.1" height="1.1" fill="#1b3f66"/>
<rect x="68.7" y="598.1" width="1.1" height="1.1" fill="#1b3f66"/>
<rect x="67.8" y="590.8" width="1.1" height="1.1" fill="#1b3f66"/>
<rect x="78.0" y="587.9" width="1.1" height="1.1" fill="#1b3f66"/>
<rect x="59.1" y="595.5" width="1.1" height="1.1" fill="#1b3f66"/>
<rect x="67.1" y="584.1" width="1.1" height="1.1" fill="#1b3f66"/>
<rect x="78.1" y="597.8" width="1.1" height="1.1" fill="#1b3f66"/>
<rect x="67.9" y="600.3" width="1.1" height="1.1" fill="#1b3f66"/>
<rect x="71.4" y="594.0" width="1.1" height="1.1" fill="#1b3f66"/>
<rect x="59.7" y="594.4" width="1.1" height="1.1" fill="#1b3f66"/>
<rect x="71.6" y="593.1" width="1.1" height="1.1" fill="#1b3f66"/>
<rect x="63.9" y="592.0" width="1.1" height="1.1" fill="#1b3f66"/>
<rect x="64.2" y="598.9" width="1.1" height="1.1" fill="#1b3f66"/>
<rect x="80.5" y="596.9" width="1.1" height="1.1" fill="#1b3f66"/>
<rect x="80.6" y="595.5" width="1.1" height="1.1" fill="#1b3f66"/>
<rect x="75.5" y="600.4" width="1.1" height="1.1" fill="#1b3f66"/>
<rect x="52.8" y="595.4" width="1.1" height="1.1" fill="#1b3f66"/>
<rect x="66.0" y="588.3" width="1.1" height="1.1" fill="#1b3f66"/>
<rect x="75.4" y="591.7" width="1.1" height="1.1" fill="#1b3f66"/>
<rect x="55.2" y="585.7" width="1.1" height="1.1" fill="#1b3f66"/>
<rect x="56.5" y="598.9" width="1.1" height="1.1" fill="#1b3f66"/>
<rect x="56.5" y="596.8" width="1.1" height="1.1" fill="#1b3f66"/>
<rect x="50.4" y="590.0" width="1.1" height="1.1" fill="#1b3f66"/>
<rect x="69.0" y="591.3" width="1.1" height="1.1" fill="#1b3f66"/>
<rect x="55.9" y="594.5" width="1.1" height="1.1" fill="#1b3f66"/>
<rect x="72.7" y="601.2" width="1.1" height="1.1" fill="#1b3f66"/>
<rect x="69.0" y="586.1" width="1.1" height="1.1" fill="#1b3f66"/>
<rect x="76.1" y="595.0" width="1.1" height="1.1" fill="#1b3f66"/>
<rect x="50.1" y="591.4" width="1.1" height="1.1" fill="#1b3f66"/>
<rect x="71.4" y="573.4" width="1.1" height="1.1" fill="#1b3f66"/>
<rect x="52.7" y="598.8" width="1.1" height="1.1" fill="#1b3f66"/>
<rect x="52.4" y="598.2" width="1.1" height="1.1" fill="#1b3f66"/>
<rect x="74.2" y="599.4" width="1.1" height="1.1" fill="#1b3f66"/>
<rect x="52.7" y="595.6" width="1.1" height="1.1" fill="#1b3f66"/>
<rect x="63.6" y="596.9" width="1.1" height="1.1" fill="#1b3f66"/>
<rect x="61.3" y="595.7" width="1.1" height="1.1" fill="#1b3f66"/>
<rect x="58.4" y="588.0" width="1.1" height="1.1" fill="#1b3f66"/>
<rect x="71.8" y="594.3" width="1.1" height="1.1" fill="#1b3f66"/>
<rect x="76.2" y="578.7" width="1.1" height="1.1" fill="#1b3f66"/>
<rect x="63.6" y="581.6" width="1.1" height="1.1" fill="#1b3f66"/>
<rect x="52.1" y="585.4" width="1.1" height="1.1" fill="#1b3f66"/>
<rect x="72.4" y="598.9" width="1.1" height="1.1" fill="#1b3f66"/>
<rect x="61.0" y="586.1" width="1.1" height="1.1" fill="#1b3f66"/>
<rect x="71.3" y="598.1" width="1.1" height="1.1" fill="#1b3f66"/>
<rect x="52.6" y="600.0" width="1.1" height="1.1" fill="#1b3f66"/>
<rect x="78.0" y="599.7" width="1.1" height="1.1" fill="#1b3f66"/>
<rect x="72.7" y="593.1" width="1.1" height="1.1" fill="#1b3f66"/>
<rect x="65.8" y="567.6" width="1.1" height="1.1" fill="#1b3f66"/>
<rect x="74.9" y="586.5" width="1.1" height="1.1" fill="#1b3f66"/>
<rect x="76.3" y="587.6" width="1.1" height="1.1" fill="#1b3f66"/>
<rect x="65.7" y="589.5" width="1.1" height="1.1" fill="#1b3f66"/>
<rect x="50.2" y="594.4" width="1.1" height="1.1" fill="#1b3f66"/>
<rect x="68.6" y="600.5" width="1.1" height="1.1" fill="#1b3f66"/>
<rect x="69.2" y="580.6" width="1.1" height="1.1" fill="#1b3f66"/>
<rect x="56.0" y="599.4" width="1.1" height="1.1" fill="#1b3f66"/>
<rect x="55.2" y="599.7" width="1.1" height="1.1" fill="#1b3f66"/>
<rect x="60.9" y="597.2" width="1.1" height="1.1" fill="#1b3f66"/>
<rect x="60.6" y="589.9" width="1.1" height="1.1" fill="#1b3f66"/>
<rect x="71.0" y="596.3" width="1.1" height="1.1" fill="#1b3f66"/>
<rect x="66.3" y="594.4" width="1.1" height="1.1" fill="#1b3f66"/>
<rect x="61.2" y="596.6" width="1.1" height="1.1" fill="#1b3f66"/>
<rect x="60.8" y="583.7" width="1.1" height="1.1" fill="#1b3f66"/>
<rect x="60.4" y="591.0" width="1.1" height="1.1" fill="#1b3f66"/>
<rect x="56.6" y="595.7" width="1.1" height="1.1" fill="#1b3f66"/>
<rect x="60.7" y="594.6" width="1.1" height="1.1" fill="#1b3f66"/>
<rect x="54.0" y="596.9" width="1.1" height="1.1" fill="#1b3f66"/>
<rect x="74.3" y="586.9" width="1.1" height="1.1" fill="#1b3f66"/>
<rect x="49.9" y="599.9" width="1.1" height="1.1" fill="#1b3f66"/>
<rect x="61.4" y="598.5" width="1.1" height="1.1" fill="#1b3f66"/>
<rect x="77.2" y="594.1" width="1.1" height="1.1" fill="#1b3f66"/>
<rect x="71.2" y="595.3" width="1.1" height="1.1" fill="#1b3f66"/>
<rect x="55.1" y="599.2" width="1.1" height="1.1" fill="#1b3f66"/>
<rect x="60.3" y="595.5" width="1.1" height="1.1" fill="#1b3f66"/>
<rect x="58.3" y="583.0" width="1.1" height="1.1" fill="#1b3f66"/>
<rect x="65.7" y="597.4" width="1.1" height="1.1" fill="#1b3f66"/>
<rect x="60.6" y="592.8" width="1.1" height="1.1" fill="#1b3f66"/>
<rect x="56.1" y="578.6" width="1.1" height="1.1" fill="#1b3f66"/>
<rect x="66.7" y="594.4" width="1.1" height="1.1" fill="#1b3f66"/>
<rect x="69.5" y="598.5" width="1.1" height="1.1" fill="#1b3f66"/>
<rect x="91.5" y="599.6" width="1.1" height="1.1" fill="#e01a30"/>
<rect x="104.5" y="598.9" width="1.1" height="1.1" fill="#e01a30"/>
<rect x="95.8" y="594.3" width="1.1" height="1.1" fill="#e01a30"/>
<rect x="90.4" y="589.1" width="1.1" height="1.1" fill="#e01a30"/>
<rect x="95.4" y="601.1" width="1.1" height="1.1" fill="#e01a30"/>
<rect x="122.6" y="582.6" width="1.1" height="1.1" fill="#e01a30"/>
<rect x="119.9" y="595.7" width="1.1" height="1.1" fill="#e01a30"/>
<rect x="98.8" y="589.6" width="1.1" height="1.1" fill="#e01a30"/>
<rect x="118.0" y="595.7" width="1.1" height="1.1" fill="#e01a30"/>
<rect x="108.8" y="572.4" width="1.1" height="1.1" fill="#e01a30"/>
<rect x="115.8" y="586.1" width="1.1" height="1.1" fill="#e01a30"/>
<rect x="114.0" y="595.1" width="1.1" height="1.1" fill="#e01a30"/>
<rect x="118.4" y="595.5" width="1.1" height="1.1" fill="#e01a30"/>
<rect x="105.8" y="589.9" width="1.1" height="1.1" fill="#e01a30"/>
<rect x="115.7" y="595.4" width="1.1" height="1.1" fill="#e01a30"/>
<rect x="102.1" y="590.9" width="1.1" height="1.1" fill="#e01a30"/>
<rect x="111.8" y="593.3" width="1.1" height="1.1" fill="#e01a30"/>
<rect x="124.0" y="589.6" width="1.1" height="1.1" fill="#e01a30"/>
<rect x="100.6" y="600.8" width="1.1" height="1.1" fill="#e01a30"/>
<rect x="91.4" y="592.2" width="1.1" height="1.1" fill="#e01a30"/>
<rect x="97.8" y="599.7" width="1.1" height="1.1" fill="#e01a30"/>
<rect x="120.2" y="594.8" width="1.1" height="1.1" fill="#e01a30"/>
<rect x="93.3" y="600.9" width="1.1" height="1.1" fill="#e01a30"/>
<rect x="92.8" y="599.2" width="1.1" height="1.1" fill="#e01a30"/>
<rect x="90.9" y="591.5" width="1.1" height="1.1" fill="#e01a30"/>
<rect x="108.4" y="579.6" width="1.1" height="1.1" fill="#e01a30"/>
<rect x="120.4" y="586.6" width="1.1" height="1.1" fill="#e01a30"/>
<rect x="107.2" y="598.4" width="1.1" height="1.1" fill="#e01a30"/>
<rect x="108.6" y="583.0" width="1.1" height="1.1" fill="#e01a30"/>
<rect x="99.9" y="578.7" width="1.1" height="1.1" fill="#e01a30"/>
<rect x="112.0" y="592.9" width="1.1" height="1.1" fill="#e01a30"/>
<rect x="102.5" y="600.9" width="1.1" height="1.1" fill="#e01a30"/>
<rect x="91.4" y="593.3" width="1.1" height="1.1" fill="#e01a30"/>
<rect x="91.4" y="595.9" width="1.1" height="1.1" fill="#e01a30"/>
<rect x="93.0" y="600.6" width="1.1" height="1.1" fill="#e01a30"/>
<rect x="88.7" y="587.8" width="1.1" height="1.1" fill="#e01a30"/>
<rect x="96.0" y="599.2" width="1.1" height="1.1" fill="#e01a30"/>
<rect x="119.1" y="595.1" width="1.1" height="1.1" fill="#e01a30"/>
<rect x="97.5" y="598.8" width="1.1" height="1.1" fill="#e01a30"/>
<rect x="114.8" y="596.2" width="1.1" height="1.1" fill="#e01a30"/>
<rect x="111.3" y="586.4" width="1.1" height="1.1" fill="#e01a30"/>
<rect x="96.5" y="600.1" width="1.1" height="1.1" fill="#e01a30"/>
<rect x="105.0" y="601.1" width="1.1" height="1.1" fill="#e01a30"/>
<rect x="101.6" y="584.5" width="1.1" height="1.1" fill="#e01a30"/>
<rect x="107.9" y="596.9" width="1.1" height="1.1" fill="#e01a30"/>
<rect x="89.2" y="600.6" width="1.1" height="1.1" fill="#e01a30"/>
<rect x="110.0" y="597.7" width="1.1" height="1.1" fill="#e01a30"/>
<rect x="97.6" y="587.0" width="1.1" height="1.1" fill="#e01a30"/>
<rect x="96.4" y="597.3" width="1.1" height="1.1" fill="#e01a30"/>
<rect x="102.0" y="587.8" width="1.1" height="1.1" fill="#e01a30"/>
<rect x="101.1" y="599.6" width="1.1" height="1.1" fill="#e01a30"/>
<rect x="115.0" y="600.6" width="1.1" height="1.1" fill="#e01a30"/>
<rect x="91.7" y="596.7" width="1.1" height="1.1" fill="#e01a30"/>
<rect x="104.3" y="599.4" width="1.1" height="1.1" fill="#e01a30"/>
<rect x="91.8" y="589.2" width="1.1" height="1.1" fill="#e01a30"/>
<rect x="115.5" y="601.4" width="1.1" height="1.1" fill="#e01a30"/>
<rect x="124.5" y="585.9" width="1.1" height="1.1" fill="#e01a30"/>
<rect x="116.9" y="581.6" width="1.1" height="1.1" fill="#e01a30"/>
<rect x="110.6" y="599.1" width="1.1" height="1.1" fill="#e01a30"/>
<rect x="100.6" y="599.7" width="1.1" height="1.1" fill="#e01a30"/>
<rect x="117.0" y="590.4" width="1.1" height="1.1" fill="#e01a30"/>
<rect x="109.5" y="600.8" width="1.1" height="1.1" fill="#e01a30"/>
<rect x="95.5" y="599.2" width="1.1" height="1.1" fill="#e01a30"/>
<rect x="110.3" y="567.6" width="1.1" height="1.1" fill="#e01a30"/>
<rect x="114.6" y="600.8" width="1.1" height="1.1" fill="#e01a30"/>
<rect x="99.2" y="600.7" width="1.1" height="1.1" fill="#e01a30"/>
<rect x="105.6" y="593.9" width="1.1" height="1.1" fill="#e01a30"/>
<rect x="120.9" y="586.1" width="1.1" height="1.1" fill="#e01a30"/>
<rect x="107.8" y="589.5" width="1.1" height="1.1" fill="#e01a30"/>
<rect x="112.1" y="601.0" width="1.1" height="1.1" fill="#e01a30"/>
<rect x="93.7" y="591.3" width="1.1" height="1.1" fill="#e01a30"/>
<rect x="105.0" y="593.7" width="1.1" height="1.1" fill="#e01a30"/>
<rect x="115.0" y="591.9" width="1.1" height="1.1" fill="#e01a30"/>
<rect x="93.0" y="581.7" width="1.1" height="1.1" fill="#e01a30"/>
<rect x="115.1" y="599.5" width="1.1" height="1.1" fill="#e01a30"/>
<rect x="98.9" y="597.1" width="1.1" height="1.1" fill="#e01a30"/>
<rect x="117.5" y="588.3" width="1.1" height="1.1" fill="#e01a30"/>
<rect x="104.9" y="599.0" width="1.1" height="1.1" fill="#e01a30"/>
<rect x="108.3" y="570.1" width="1.1" height="1.1" fill="#e01a30"/>
<rect x="101.3" y="576.5" width="1.1" height="1.1" fill="#e01a30"/>
<rect x="127.0" y="586.3" width="1.1" height="1.1" fill="#e01a30"/>
<rect x="94.4" y="598.7" width="1.1" height="1.1" fill="#e01a30"/>
<rect x="119.2" y="596.1" width="1.1" height="1.1" fill="#e01a30"/>
<rect x="109.4" y="593.4" width="1.1" height="1.1" fill="#e01a30"/>
<rect x="108.5" y="597.5" width="1.1" height="1.1" fill="#e01a30"/>
<rect x="102.2" y="599.1" width="1.1" height="1.1" fill="#e01a30"/>
<rect x="116.0" y="593.5" width="1.1" height="1.1" fill="#e01a30"/>
<rect x="93.9" y="590.4" width="1.1" height="1.1" fill="#e01a30"/>
<rect x="102.6" y="598.6" width="1.1" height="1.1" fill="#e01a30"/>
<rect x="117.0" y="581.8" width="1.1" height="1.1" fill="#e01a30"/>
<rect x="103.4" y="600.2" width="1.1" height="1.1" fill="#e01a30"/>
<rect x="100.1" y="575.1" width="1.1" height="1.1" fill="#e01a30"/>
<rect x="102.9" y="581.6" width="1.1" height="1.1" fill="#e01a30"/>
<rect x="93.0" y="591.8" width="1.1" height="1.1" fill="#e01a30"/>
<rect x="99.2" y="593.5" width="1.1" height="1.1" fill="#e01a30"/>
<rect x="97.4" y="593.1" width="1.1" height="1.1" fill="#e01a30"/>
<rect x="106.2" y="592.0" width="1.1" height="1.1" fill="#e01a30"/>
<rect x="94.8" y="590.7" width="1.1" height="1.1" fill="#e01a30"/>
<rect x="90.4" y="601.2" width="1.1" height="1.1" fill="#e01a30"/>
<rect x="108.7" y="591.2" width="1.1" height="1.1" fill="#e01a30"/>
<rect x="120.6" y="586.8" width="1.1" height="1.1" fill="#e01a30"/>
<rect x="113.9" y="599.9" width="1.1" height="1.1" fill="#e01a30"/>
<rect x="99.8" y="584.4" width="1.1" height="1.1" fill="#e01a30"/>
<rect x="119.3" y="593.8" width="1.1" height="1.1" fill="#e01a30"/>
<rect x="104.7" y="594.7" width="1.1" height="1.1" fill="#e01a30"/>
<rect x="107.3" y="600.3" width="1.1" height="1.1" fill="#e01a30"/>
<rect x="104.4" y="601.3" width="1.1" height="1.1" fill="#e01a30"/>
<rect x="117.8" y="595.4" width="1.1" height="1.1" fill="#e01a30"/>
<rect x="110.0" y="581.2" width="1.1" height="1.1" fill="#e01a30"/>
<rect x="103.8" y="592.2" width="1.1" height="1.1" fill="#e01a30"/>
<rect x="91.0" y="601.4" width="1.1" height="1.1" fill="#e01a30"/>
<rect x="119.6" y="583.9" width="1.1" height="1.1" fill="#e01a30"/>
<rect x="126.9" y="572.5" width="1.1" height="1.1" fill="#e01a30"/>
<rect x="111.6" y="583.3" width="1.1" height="1.1" fill="#e01a30"/>
<rect x="96.0" y="591.9" width="1.1" height="1.1" fill="#e01a30"/>
<rect x="100.2" y="594.8" width="1.1" height="1.1" fill="#e01a30"/>
<rect x="96.7" y="593.2" width="1.1" height="1.1" fill="#e01a30"/>
<rect x="110.8" y="587.8" width="1.1" height="1.1" fill="#e01a30"/>
<rect x="108.4" y="600.5" width="1.1" height="1.1" fill="#e01a30"/>
<rect x="103.1" y="590.6" width="1.1" height="1.1" fill="#e01a30"/>
<rect x="91.7" y="601.2" width="1.1" height="1.1" fill="#e01a30"/>
<rect x="124.4" y="576.1" width="1.1" height="1.1" fill="#e01a30"/>
<rect x="94.8" y="600.7" width="1.1" height="1.1" fill="#e01a30"/>
<rect x="93.5" y="601.1" width="1.1" height="1.1" fill="#e01a30"/>
<rect x="117.5" y="575.7" width="1.1" height="1.1" fill="#e01a30"/>
<rect x="115.0" y="585.0" width="1.1" height="1.1" fill="#e01a30"/>
<rect x="94.7" y="596.1" width="1.1" height="1.1" fill="#e01a30"/>
<rect x="123.7" y="575.7" width="1.1" height="1.1" fill="#e01a30"/>
<rect x="101.6" y="599.7" width="1.1" height="1.1" fill="#e01a30"/>
<rect x="100.8" y="599.7" width="1.1" height="1.1" fill="#e01a30"/>
<rect x="106.9" y="591.7" width="1.1" height="1.1" fill="#e01a30"/>
<rect x="91.3" y="588.2" width="1.1" height="1.1" fill="#e01a30"/>
<rect x="112.4" y="596.1" width="1.1" height="1.1" fill="#e01a30"/>
<rect x="97.7" y="597.9" width="1.1" height="1.1" fill="#e01a30"/>
<rect x="113.3" y="598.4" width="1.1" height="1.1" fill="#e01a30"/>
<rect x="113.4" y="596.4" width="1.1" height="1.1" fill="#e01a30"/>
<rect x="89.7" y="591.3" width="1.1" height="1.1" fill="#e01a30"/>
<rect x="109.4" y="590.8" width="1.1" height="1.1" fill="#e01a30"/>
<rect x="117.6" y="594.4" width="1.1" height="1.1" fill="#e01a30"/>
<rect x="95.5" y="585.3" width="1.1" height="1.1" fill="#e01a30"/>
<rect x="100.5" y="585.5" width="1.1" height="1.1" fill="#e01a30"/>
<rect x="105.4" y="598.0" width="1.1" height="1.1" fill="#e01a30"/>
<rect x="90.9" y="600.6" width="1.1" height="1.1" fill="#e01a30"/>
<rect x="115.5" y="590.4" width="1.1" height="1.1" fill="#e01a30"/>
<rect x="114.1" y="594.9" width="1.1" height="1.1" fill="#e01a30"/>
<rect x="106.4" y="597.1" width="1.1" height="1.1" fill="#e01a30"/>
<rect x="106.4" y="598.4" width="1.1" height="1.1" fill="#e01a30"/>
<rect x="117.9" y="581.9" width="1.1" height="1.1" fill="#e01a30"/>
<rect x="100.4" y="586.5" width="1.1" height="1.1" fill="#e01a30"/>
<rect x="94.1" y="579.7" width="1.1" height="1.1" fill="#e01a30"/>
<rect x="111.1" y="593.7" width="1.1" height="1.1" fill="#e01a30"/>
<rect x="114.1" y="591.7" width="1.1" height="1.1" fill="#e01a30"/>
<rect x="112.8" y="598.8" width="1.1" height="1.1" fill="#e01a30"/>
<rect x="102.7" y="595.3" width="1.1" height="1.1" fill="#e01a30"/>
<rect x="114.5" y="596.7" width="1.1" height="1.1" fill="#e01a30"/>
<rect x="100.7" y="591.9" width="1.1" height="1.1" fill="#e01a30"/>
<rect x="102.7" y="600.8" width="1.1" height="1.1" fill="#e01a30"/>
<rect x="93.9" y="584.4" width="1.1" height="1.1" fill="#e01a30"/>
<rect x="91.1" y="593.6" width="1.1" height="1.1" fill="#e01a30"/>
<rect x="117.6" y="598.5" width="1.1" height="1.1" fill="#e01a30"/>
<rect x="112.4" y="595.9" width="1.1" height="1.1" fill="#e01a30"/>
<rect x="93.4" y="590.8" width="1.1" height="1.1" fill="#e01a30"/>
<rect x="97.2" y="594.8" width="1.1" height="1.1" fill="#e01a30"/>
<rect x="111.1" y="596.5" width="1.1" height="1.1" fill="#e01a30"/>
<rect x="94.1" y="593.2" width="1.1" height="1.1" fill="#e01a30"/>
<rect x="104.1" y="587.9" width="1.1" height="1.1" fill="#e01a30"/>
<rect x="107.6" y="595.1" width="1.1" height="1.1" fill="#e01a30"/>
<rect x="105.5" y="591.2" width="1.1" height="1.1" fill="#e01a30"/>
<rect x="104.2" y="596.4" width="1.1" height="1.1" fill="#e01a30"/>
<rect x="121.4" y="590.8" width="1.1" height="1.1" fill="#e01a30"/>
<rect x="113.0" y="593.6" width="1.1" height="1.1" fill="#e01a30"/>
<rect x="112.2" y="592.6" width="1.1" height="1.1" fill="#e01a30"/>
<rect x="95.6" y="581.6" width="1.1" height="1.1" fill="#e01a30"/>
<rect x="92.1" y="593.2" width="1.1" height="1.1" fill="#e01a30"/>
<rect x="104.6" y="593.6" width="1.1" height="1.1" fill="#e01a30"/>
<rect x="115.1" y="600.3" width="1.1" height="1.1" fill="#e01a30"/>
<rect x="105.1" y="598.4" width="1.1" height="1.1" fill="#e01a30"/>
<rect x="92.1" y="601.1" width="1.1" height="1.1" fill="#e01a30"/>
<rect x="101.0" y="590.7" width="1.1" height="1.1" fill="#e01a30"/>
<rect x="112.0" y="594.1" width="1.1" height="1.1" fill="#e01a30"/>
<rect x="107.9" y="585.5" width="1.1" height="1.1" fill="#e01a30"/>
<rect x="93.2" y="600.1" width="1.1" height="1.1" fill="#e01a30"/>
<rect x="112.3" y="579.4" width="1.1" height="1.1" fill="#e01a30"/>
<rect x="109.6" y="584.5" width="1.1" height="1.1" fill="#e01a30"/>
<rect x="103.9" y="586.9" width="1.1" height="1.1" fill="#e01a30"/>
<rect x="95.6" y="591.5" width="1.1" height="1.1" fill="#e01a30"/>
<rect x="126.3" y="586.7" width="1.1" height="1.1" fill="#e01a30"/>
<rect x="117.5" y="595.1" width="1.1" height="1.1" fill="#e01a30"/>
<rect x="100.3" y="600.1" width="1.1" height="1.1" fill="#e01a30"/>
<rect x="90.9" y="595.8" width="1.1" height="1.1" fill="#e01a30"/>
<rect x="97.7" y="594.8" width="1.1" height="1.1" fill="#e01a30"/>
<rect x="111.0" y="596.9" width="1.1" height="1.1" fill="#e01a30"/>
<rect x="108.9" y="588.3" width="1.1" height="1.1" fill="#e01a30"/>
<rect x="93.8" y="599.8" width="1.1" height="1.1" fill="#e01a30"/>
<rect x="115.9" y="599.8" width="1.1" height="1.1" fill="#e01a30"/>
<rect x="111.6" y="591.0" width="1.1" height="1.1" fill="#e01a30"/>
<rect x="91.6" y="579.9" width="1.1" height="1.1" fill="#e01a30"/>
<rect x="121.3" y="592.8" width="1.1" height="1.1" fill="#e01a30"/>
<rect x="94.3" y="590.6" width="1.1" height="1.1" fill="#e01a30"/>
<rect x="94.8" y="592.7" width="1.1" height="1.1" fill="#e01a30"/>
<rect x="115.3" y="592.3" width="1.1" height="1.1" fill="#e01a30"/>
<rect x="122.0" y="593.7" width="1.1" height="1.1" fill="#e01a30"/>
<rect x="116.5" y="585.3" width="1.1" height="1.1" fill="#e01a30"/>
<rect x="90.1" y="594.9" width="1.1" height="1.1" fill="#e01a30"/>
<rect x="124.6" y="585.7" width="1.1" height="1.1" fill="#e01a30"/>
<rect x="102.0" y="597.0" width="1.1" height="1.1" fill="#e01a30"/>
<rect x="111.9" y="592.3" width="1.1" height="1.1" fill="#e01a30"/>
<rect x="100.9" y="588.0" width="1.1" height="1.1" fill="#e01a30"/>
<rect x="100.4" y="598.7" width="1.1" height="1.1" fill="#e01a30"/>
<rect x="91.1" y="582.9" width="1.1" height="1.1" fill="#e01a30"/>
<rect x="94.2" y="600.5" width="1.1" height="1.1" fill="#e01a30"/>
<rect x="104.8" y="600.1" width="1.1" height="1.1" fill="#e01a30"/>
<rect x="94.5" y="576.9" width="1.1" height="1.1" fill="#e01a30"/>
<rect x="94.7" y="575.7" width="1.1" height="1.1" fill="#e01a30"/>
<rect x="91.6" y="594.1" width="1.1" height="1.1" fill="#e01a30"/>
<rect x="107.9" y="598.3" width="1.1" height="1.1" fill="#e01a30"/>
<rect x="106.3" y="597.3" width="1.1" height="1.1" fill="#e01a30"/>
<rect x="115.0" y="594.2" width="1.1" height="1.1" fill="#e01a30"/>
<rect x="99.4" y="599.9" width="1.1" height="1.1" fill="#e01a30"/>
<rect x="110.2" y="581.7" width="1.1" height="1.1" fill="#e01a30"/>
<rect x="105.3" y="596.8" width="1.1" height="1.1" fill="#e01a30"/>
<rect x="117.0" y="593.9" width="1.1" height="1.1" fill="#e01a30"/>
<rect x="122.0" y="590.0" width="1.1" height="1.1" fill="#e01a30"/>
<rect x="111.4" y="597.5" width="1.1" height="1.1" fill="#e01a30"/>
<rect x="89.4" y="600.8" width="1.1" height="1.1" fill="#e01a30"/>
<rect x="107.7" y="599.2" width="1.1" height="1.1" fill="#e01a30"/>
<rect x="111.2" y="590.7" width="1.1" height="1.1" fill="#e01a30"/>
<rect x="108.0" y="591.3" width="1.1" height="1.1" fill="#e01a30"/>
<rect x="128.1" y="581.3" width="1.1" height="1.1" fill="#e01a30"/>
<rect x="105.6" y="590.1" width="1.1" height="1.1" fill="#e01a30"/>
<rect x="90.9" y="599.4" width="1.1" height="1.1" fill="#e01a30"/>
<rect x="118.4" y="591.6" width="1.1" height="1.1" fill="#e01a30"/>
<rect x="121.5" y="593.5" width="1.1" height="1.1" fill="#e01a30"/>
<rect x="98.0" y="600.0" width="1.1" height="1.1" fill="#e01a30"/>
<rect x="120.7" y="591.8" width="1.1" height="1.1" fill="#e01a30"/>
<rect x="113.1" y="591.6" width="1.1" height="1.1" fill="#e01a30"/>
<rect x="94.7" y="589.0" width="1.1" height="1.1" fill="#e01a30"/>
<rect x="101.2" y="589.7" width="1.1" height="1.1" fill="#e01a30"/>
<rect x="110.5" y="596.4" width="1.1" height="1.1" fill="#e01a30"/>
<rect x="111.7" y="594.1" width="1.1" height="1.1" fill="#e01a30"/>
<rect x="93.3" y="591.2" width="1.1" height="1.1" fill="#e01a30"/>
<rect x="91.7" y="596.8" width="1.1" height="1.1" fill="#e01a30"/>
<rect x="105.5" y="598.3" width="1.1" height="1.1" fill="#e01a30"/>
<rect x="123.0" y="589.7" width="1.1" height="1.1" fill="#e01a30"/>
<rect x="122.9" y="590.8" width="1.1" height="1.1" fill="#e01a30"/>
<rect x="105.2" y="590.2" width="1.1" height="1.1" fill="#e01a30"/>
<rect x="89.8" y="599.1" width="1.1" height="1.1" fill="#e01a30"/>
<rect x="111.5" y="584.0" width="1.1" height="1.1" fill="#e01a30"/>
<rect x="101.5" y="587.2" width="1.1" height="1.1" fill="#e01a30"/>
<rect x="106.4" y="596.5" width="1.1" height="1.1" fill="#e01a30"/>
<rect x="101.8" y="590.9" width="1.1" height="1.1" fill="#e01a30"/>
<rect x="113.5" y="600.0" width="1.1" height="1.1" fill="#e01a30"/>
<rect x="121.5" y="592.5" width="1.1" height="1.1" fill="#e01a30"/>
<rect x="99.9" y="586.5" width="1.1" height="1.1" fill="#e01a30"/>
<rect x="101.7" y="594.6" width="1.1" height="1.1" fill="#e01a30"/>
<rect x="96.8" y="594.3" width="1.1" height="1.1" fill="#e01a30"/>
<rect x="99.6" y="596.2" width="1.1" height="1.1" fill="#e01a30"/>
<rect x="95.0" y="601.1" width="1.1" height="1.1" fill="#e01a30"/>
<rect x="99.7" y="599.5" width="1.1" height="1.1" fill="#e01a30"/>
<rect x="100.3" y="600.7" width="1.1" height="1.1" fill="#e01a30"/>
<rect x="101.0" y="596.7" width="1.1" height="1.1" fill="#e01a30"/>
<rect x="112.3" y="600.5" width="1.1" height="1.1" fill="#e01a30"/>
<rect x="107.0" y="600.4" width="1.1" height="1.1" fill="#e01a30"/>
<rect x="98.4" y="598.3" width="1.1" height="1.1" fill="#e01a30"/>
<rect x="100.7" y="579.6" width="1.1" height="1.1" fill="#e01a30"/>
<rect x="113.4" y="598.5" width="1.1" height="1.1" fill="#e01a30"/>
<rect x="101.8" y="573.7" width="1.1" height="1.1" fill="#e01a30"/>
<rect x="93.0" y="593.3" width="1.1" height="1.1" fill="#e01a30"/>
<rect x="110.3" y="591.4" width="1.1" height="1.1" fill="#e01a30"/>
<rect x="118.1" y="583.4" width="1.1" height="1.1" fill="#e01a30"/>
<rect x="110.7" y="590.1" width="1.1" height="1.1" fill="#e01a30"/>
<rect x="114.8" y="597.9" width="1.1" height="1.1" fill="#e01a30"/>
<rect x="124.8" y="579.8" width="1.1" height="1.1" fill="#e01a30"/>
<rect x="99.9" y="595.3" width="1.1" height="1.1" fill="#e01a30"/>
<rect x="99.2" y="600.1" width="1.1" height="1.1" fill="#e01a30"/>
<rect x="93.1" y="581.5" width="1.1" height="1.1" fill="#e01a30"/>
<rect x="109.2" y="600.0" width="1.1" height="1.1" fill="#e01a30"/>
<rect x="97.4" y="584.8" width="1.1" height="1.1" fill="#e01a30"/>
<rect x="109.0" y="587.6" width="1.1" height="1.1" fill="#e01a30"/>
<rect x="119.4" y="587.1" width="1.1" height="1.1" fill="#e01a30"/>
<rect x="92.0" y="593.5" width="1.1" height="1.1" fill="#e01a30"/>
<rect x="113.7" y="593.3" width="1.1" height="1.1" fill="#e01a30"/>
<rect x="97.2" y="576.3" width="1.1" height="1.1" fill="#e01a30"/>
<rect x="115.6" y="600.2" width="1.1" height="1.1" fill="#e01a30"/>
<rect x="118.2" y="593.9" width="1.1" height="1.1" fill="#e01a30"/>
<rect x="98.4" y="588.6" width="1.1" height="1.1" fill="#e01a30"/>
<rect x="105.6" y="597.5" width="1.1" height="1.1" fill="#e01a30"/>
<rect x="99.6" y="586.9" width="1.1" height="1.1" fill="#e01a30"/>
<rect x="100.6" y="588.7" width="1.1" height="1.1" fill="#e01a30"/>
<rect x="90.1" y="598.0" width="1.1" height="1.1" fill="#e01a30"/>
<rect x="88.6" y="593.6" width="1.1" height="1.1" fill="#e01a30"/>
<rect x="105.0" y="598.4" width="1.1" height="1.1" fill="#e01a30"/>
<rect x="100.3" y="586.0" width="1.1" height="1.1" fill="#e01a30"/>
<rect x="118.3" y="590.8" width="1.1" height="1.1" fill="#e01a30"/>
<rect x="116.9" y="598.8" width="1.1" height="1.1" fill="#e01a30"/>
<rect x="112.7" y="599.5" width="1.1" height="1.1" fill="#e01a30"/>
<rect x="101.3" y="597.5" width="1.1" height="1.1" fill="#e01a30"/>
<rect x="123.6" y="583.8" width="1.1" height="1.1" fill="#e01a30"/>
<rect x="107.7" y="580.7" width="1.1" height="1.1" fill="#e01a30"/>
<rect x="120.5" y="590.1" width="1.1" height="1.1" fill="#e01a30"/>
<rect x="116.0" y="598.3" width="1.1" height="1.1" fill="#e01a30"/>
<rect x="90.0" y="593.3" width="1.1" height="1.1" fill="#e01a30"/>
<rect x="107.1" y="597.3" width="1.1" height="1.1" fill="#e01a30"/>
<rect x="92.3" y="600.1" width="1.1" height="1.1" fill="#e01a30"/>
<rect x="113.2" y="567.2" width="1.1" height="1.1" fill="#e01a30"/>
<rect x="110.6" y="599.2" width="1.1" height="1.1" fill="#e01a30"/>
<rect x="113.1" y="601.1" width="1.1" height="1.1" fill="#e01a30"/>
<rect x="121.1" y="589.0" width="1.1" height="1.1" fill="#e01a30"/>
<rect x="118.4" y="590.9" width="1.1" height="1.1" fill="#e01a30"/>
<rect x="105.9" y="593.1" width="1.1" height="1.1" fill="#e01a30"/>
<rect x="100.0" y="589.3" width="1.1" height="1.1" fill="#e01a30"/>
<rect x="120.9" y="579.1" width="1.1" height="1.1" fill="#e01a30"/>
<rect x="93.2" y="590.9" width="1.1" height="1.1" fill="#e01a30"/>
<rect x="90.3" y="588.9" width="1.1" height="1.1" fill="#e01a30"/>
<rect x="95.6" y="598.1" width="1.1" height="1.1" fill="#e01a30"/>
<rect x="113.0" y="569.0" width="1.1" height="1.1" fill="#e01a30"/>
<rect x="94.9" y="599.1" width="1.1" height="1.1" fill="#e01a30"/>
<rect x="122.2" y="586.7" width="1.1" height="1.1" fill="#e01a30"/>
<rect x="97.2" y="598.8" width="1.1" height="1.1" fill="#e01a30"/>
<rect x="115.7" y="592.9" width="1.1" height="1.1" fill="#e01a30"/>
<rect x="102.6" y="600.1" width="1.1" height="1.1" fill="#e01a30"/>
<rect x="119.6" y="574.9" width="1.1" height="1.1" fill="#e01a30"/>
<rect x="116.2" y="600.4" width="1.1" height="1.1" fill="#e01a30"/>
<rect x="112.9" y="597.5" width="1.1" height="1.1" fill="#e01a30"/>
<rect x="105.2" y="600.2" width="1.1" height="1.1" fill="#e01a30"/>
<rect x="107.6" y="599.3" width="1.1" height="1.1" fill="#e01a30"/>
<rect x="104.9" y="599.5" width="1.1" height="1.1" fill="#e01a30"/>
<rect x="116.5" y="596.3" width="1.1" height="1.1" fill="#e01a30"/>
<rect x="98.3" y="598.3" width="1.1" height="1.1" fill="#e01a30"/>
<rect x="122.6" y="592.0" width="1.1" height="1.1" fill="#e01a30"/>
<rect x="93.3" y="591.1" width="1.1" height="1.1" fill="#a01828"/>
<rect x="102.9" y="579.1" width="1.1" height="1.1" fill="#a01828"/>
<rect x="121.4" y="581.6" width="1.1" height="1.1" fill="#a01828"/>
<rect x="104.7" y="598.3" width="1.1" height="1.1" fill="#a01828"/>
<rect x="89.4" y="594.3" width="1.1" height="1.1" fill="#a01828"/>
<rect x="116.2" y="575.9" width="1.1" height="1.1" fill="#a01828"/>
<rect x="94.1" y="585.4" width="1.1" height="1.1" fill="#a01828"/>
<rect x="111.7" y="597.6" width="1.1" height="1.1" fill="#a01828"/>
<rect x="116.0" y="594.8" width="1.1" height="1.1" fill="#a01828"/>
<rect x="122.3" y="590.1" width="1.1" height="1.1" fill="#a01828"/>
<rect x="118.1" y="584.3" width="1.1" height="1.1" fill="#a01828"/>
<rect x="113.8" y="591.6" width="1.1" height="1.1" fill="#a01828"/>
<rect x="118.2" y="585.1" width="1.1" height="1.1" fill="#a01828"/>
<rect x="97.0" y="591.3" width="1.1" height="1.1" fill="#a01828"/>
<rect x="109.8" y="596.7" width="1.1" height="1.1" fill="#a01828"/>
<rect x="121.8" y="589.7" width="1.1" height="1.1" fill="#a01828"/>
<rect x="126.8" y="587.9" width="1.1" height="1.1" fill="#a01828"/>
<rect x="127.3" y="582.7" width="1.1" height="1.1" fill="#a01828"/>
<rect x="101.3" y="598.0" width="1.1" height="1.1" fill="#a01828"/>
<rect x="100.4" y="593.2" width="1.1" height="1.1" fill="#a01828"/>
<rect x="114.8" y="601.0" width="1.1" height="1.1" fill="#a01828"/>
<rect x="112.8" y="601.1" width="1.1" height="1.1" fill="#a01828"/>
<rect x="94.2" y="580.3" width="1.1" height="1.1" fill="#a01828"/>
<rect x="91.2" y="590.1" width="1.1" height="1.1" fill="#a01828"/>
<rect x="101.6" y="601.1" width="1.1" height="1.1" fill="#a01828"/>
<rect x="116.8" y="593.8" width="1.1" height="1.1" fill="#a01828"/>
<rect x="96.0" y="597.1" width="1.1" height="1.1" fill="#a01828"/>
<rect x="121.1" y="594.7" width="1.1" height="1.1" fill="#a01828"/>
<rect x="112.3" y="596.8" width="1.1" height="1.1" fill="#a01828"/>
<rect x="101.6" y="576.2" width="1.1" height="1.1" fill="#a01828"/>
<rect x="95.6" y="588.6" width="1.1" height="1.1" fill="#a01828"/>
<rect x="119.1" y="585.4" width="1.1" height="1.1" fill="#a01828"/>
<rect x="113.8" y="593.6" width="1.1" height="1.1" fill="#a01828"/>
<rect x="100.6" y="587.3" width="1.1" height="1.1" fill="#a01828"/>
<rect x="96.5" y="599.7" width="1.1" height="1.1" fill="#a01828"/>
<rect x="106.6" y="600.4" width="1.1" height="1.1" fill="#a01828"/>
<rect x="109.8" y="576.9" width="1.1" height="1.1" fill="#a01828"/>
<rect x="102.2" y="591.2" width="1.1" height="1.1" fill="#a01828"/>
<rect x="93.9" y="575.4" width="1.1" height="1.1" fill="#a01828"/>
<rect x="96.0" y="590.4" width="1.1" height="1.1" fill="#a01828"/>
<rect x="126.4" y="580.5" width="1.1" height="1.1" fill="#a01828"/>
<rect x="117.7" y="578.8" width="1.1" height="1.1" fill="#a01828"/>
<rect x="109.3" y="590.6" width="1.1" height="1.1" fill="#a01828"/>
<rect x="93.7" y="600.6" width="1.1" height="1.1" fill="#a01828"/>
<rect x="108.9" y="594.7" width="1.1" height="1.1" fill="#a01828"/>
<rect x="117.8" y="586.4" width="1.1" height="1.1" fill="#a01828"/>
<rect x="94.1" y="600.6" width="1.1" height="1.1" fill="#a01828"/>
<rect x="98.1" y="597.2" width="1.1" height="1.1" fill="#a01828"/>
<rect x="98.8" y="589.1" width="1.1" height="1.1" fill="#a01828"/>
<rect x="100.9" y="587.1" width="1.1" height="1.1" fill="#a01828"/>
<rect x="48.5" y="597.8" width="1.0" height="1.0" fill="#444"/>
<rect x="52.2" y="592.1" width="1.0" height="1.0" fill="#444"/>
<rect x="50.8" y="588.3" width="1.0" height="1.0" fill="#444"/>
<rect x="57.2" y="578.9" width="1.0" height="1.0" fill="#444"/>
<rect x="51.8" y="599.3" width="1.0" height="1.0" fill="#444"/>
<rect x="57.0" y="577.0" width="1.0" height="1.0" fill="#444"/>
<rect x="47.9" y="597.9" width="1.0" height="1.0" fill="#444"/>
<rect x="53.5" y="600.5" width="1.0" height="1.0" fill="#444"/>
<rect x="48.4" y="596.9" width="1.0" height="1.0" fill="#444"/>
<rect x="56.6" y="561.9" width="1.0" height="1.0" fill="#444"/>
<rect x="53.5" y="588.3" width="1.0" height="1.0" fill="#444"/>
<rect x="58.7" y="596.4" width="1.0" height="1.0" fill="#444"/>
<rect x="53.4" y="593.7" width="1.0" height="1.0" fill="#444"/>
<rect x="55.1" y="575.3" width="1.0" height="1.0" fill="#444"/>
<rect x="47.4" y="590.1" width="1.0" height="1.0" fill="#444"/>
<rect x="48.7" y="597.6" width="1.0" height="1.0" fill="#444"/>
<rect x="49.5" y="594.3" width="1.0" height="1.0" fill="#444"/>
<rect x="48.9" y="588.5" width="1.0" height="1.0" fill="#444"/>
<rect x="49.9" y="587.4" width="1.0" height="1.0" fill="#444"/>
<rect x="54.6" y="569.3" width="1.0" height="1.0" fill="#444"/>
<rect x="54.2" y="597.4" width="1.0" height="1.0" fill="#444"/>
<rect x="57.9" y="600.1" width="1.0" height="1.0" fill="#444"/>
<rect x="54.0" y="589.6" width="1.0" height="1.0" fill="#444"/>
<rect x="57.0" y="599.1" width="1.0" height="1.0" fill="#444"/>
<rect x="55.4" y="597.9" width="1.0" height="1.0" fill="#444"/>
<rect x="69.9" y="561.4" width="1.2" height="1.2" fill="#666"/>
<rect x="106.9" y="557.9" width="1.2" height="1.2" fill="#777"/>
<rect x="111.9" y="568.4" width="1.2" height="1.2" fill="#c44"/>
<rect x="130.4" y="565.4" width="1.2" height="1.2" fill="#d55"/>
<rect x="47.4" y="589.4" width="1.2" height="1.2" fill="#555"/>
<rect x="49.4" y="597.4" width="1.2" height="1.2" fill="#555"/>
</g>
<rect x="33.30" y="546.00" width="101.70" height="72.10" stroke="#231f20" stroke-width="1.1" fill="none"/>
<line x1="29.90" y1="548.20" x2="33.30" y2="548.20" stroke="#231f20" stroke-width="0.85"/>
<text x="26.90" y="550.40" font-size="6.3" text-anchor="end" fill="#231f20" >12</text>
<line x1="29.90" y1="565.03" x2="33.30" y2="565.03" stroke="#231f20" stroke-width="0.85"/>
<text x="26.90" y="567.23" font-size="6.3" text-anchor="end" fill="#231f20" >8</text>
<line x1="29.90" y1="581.86" x2="33.30" y2="581.86" stroke="#231f20" stroke-width="0.85"/>
<text x="26.90" y="584.06" font-size="6.3" text-anchor="end" fill="#231f20" >6</text>
<line x1="29.90" y1="598.69" x2="33.30" y2="598.69" stroke="#231f20" stroke-width="0.85"/>
<text x="26.90" y="600.89" font-size="6.3" text-anchor="end" fill="#231f20" >4</text>
<line x1="29.90" y1="615.52" x2="33.30" y2="615.52" stroke="#231f20" stroke-width="0.85"/>
<text x="26.90" y="617.72" font-size="6.3" text-anchor="end" fill="#231f20" >0</text>
<line x1="37.60" y1="618.10" x2="37.60" y2="620.80" stroke="#231f20" stroke-width="0.85"/>
<text x="37.60" y="630.00" font-size="6.3" text-anchor="middle" fill="#231f20" >−10</text>
<line x1="61.20" y1="618.10" x2="61.20" y2="620.80" stroke="#231f20" stroke-width="0.85"/>
<text x="61.20" y="630.00" font-size="6.3" text-anchor="middle" fill="#231f20" >−5</text>
<line x1="84.80" y1="618.10" x2="84.80" y2="620.80" stroke="#231f20" stroke-width="0.85"/>
<text x="84.80" y="630.00" font-size="6.3" text-anchor="middle" fill="#231f20" >0</text>
<line x1="108.40" y1="618.10" x2="108.40" y2="620.80" stroke="#231f20" stroke-width="0.85"/>
<text x="108.40" y="630.00" font-size="6.3" text-anchor="middle" fill="#231f20" >5</text>
<line x1="132.00" y1="618.10" x2="132.00" y2="620.80" stroke="#231f20" stroke-width="0.85"/>
<text x="132.00" y="630.00" font-size="6.3" text-anchor="middle" fill="#231f20" >10</text>
<text x="0" y="0" font-size="7.9" text-anchor="middle" fill="#231f20" stroke="#231f20" stroke-width="0.15" transform="translate(84.00,642.90) scale(0.72,1)">Log<tspan font-size="5" dy="1.6">2</tspan><tspan dy="-1.6">(fold change)</tspan></text>
<text x="0" y="0" font-size="8.0" text-anchor="middle" fill="#231f20" stroke="#231f20" stroke-width="0.15" transform="translate(14.4,582.35) rotate(-90) scale(0.77,1)">-Log<tspan font-size="5.5" dy="1.8">10</tspan><tspan dy="-1.8">(FDR)</tspan></text>
<text x="140.80" y="566.60" font-size="6.0" text-anchor="start" fill="#231f20" >DEG (FDR&lt;0.05)</text>
<circle cx="143.50" cy="574.60" r="2.25" fill="#b5162d"/>
<text x="149.80" y="576.70" font-size="6.0" text-anchor="start" fill="#231f20" >Upregulation in</text>
<text x="149.80" y="584.70" font-size="6.0" text-anchor="start" fill="#231f20" >non-naive (798 genes)</text>
<circle cx="143.50" cy="591.90" r="2.25" fill="#1e3f6b"/>
<text x="149.80" y="594.00" font-size="6.0" text-anchor="start" fill="#231f20" >Downregulation in</text>
<text x="149.80" y="602.00" font-size="6.0" text-anchor="start" fill="#231f20" >non-naive (1294 genes)</text>
<text x="323.70" y="14.20" font-size="8.2" text-anchor="middle" fill="#231f20" >GO (BP) terms</text>
<text x="387.80" y="17.80" font-size="6.0" text-anchor="middle" fill="#231f20" >Downregulated</text>
<text x="448.20" y="17.80" font-size="6.0" text-anchor="middle" fill="#231f20" >Upregulated</text>
<text x="353.60" y="27.90" font-size="5.05" text-anchor="end" fill="#231f20" stroke="#231f20" stroke-width="0.12">Neutrophil chemotaxis</text>
<line x1="355.90" y1="26.10" x2="358.70" y2="26.10" stroke="#231f20" stroke-width="0.8"/>
<text x="353.60" y="34.32" font-size="5.05" text-anchor="end" fill="#231f20" stroke="#231f20" stroke-width="0.12">Plasma membrane repair</text>
<line x1="355.90" y1="32.52" x2="358.70" y2="32.52" stroke="#231f20" stroke-width="0.8"/>
<text x="353.60" y="40.74" font-size="5.05" text-anchor="end" fill="#231f20" stroke="#231f20" stroke-width="0.12">Granulocyte chemotaxis</text>
<line x1="355.90" y1="38.94" x2="358.70" y2="38.94" stroke="#231f20" stroke-width="0.8"/>
<text x="353.60" y="47.15" font-size="5.05" text-anchor="end" fill="#231f20" stroke="#231f20" stroke-width="0.12">Neutrophil migration</text>
<line x1="355.90" y1="45.35" x2="358.70" y2="45.35" stroke="#231f20" stroke-width="0.8"/>
<text x="353.60" y="53.57" font-size="5.05" text-anchor="end" fill="#231f20" stroke="#231f20" stroke-width="0.12">Membrane protein ectodomain proteolysis</text>
<line x1="355.90" y1="51.77" x2="358.70" y2="51.77" stroke="#231f20" stroke-width="0.8"/>
<text x="353.60" y="59.99" font-size="5.05" text-anchor="end" fill="#231f20" stroke="#231f20" stroke-width="0.12">•Proton transmembrane transport</text>
<line x1="355.90" y1="58.19" x2="358.70" y2="58.19" stroke="#231f20" stroke-width="0.8"/>
<text x="353.60" y="66.41" font-size="5.05" text-anchor="end" fill="#231f20" stroke="#231f20" stroke-width="0.12">Sodium ion import across plasma membrane</text>
<line x1="355.90" y1="64.61" x2="358.70" y2="64.61" stroke="#231f20" stroke-width="0.8"/>
<text x="353.60" y="72.83" font-size="5.05" text-anchor="end" fill="#231f20" stroke="#231f20" stroke-width="0.12">•ATP synthesis coupled electron transport</text>
<line x1="355.90" y1="71.03" x2="358.70" y2="71.03" stroke="#231f20" stroke-width="0.8"/>
<text x="353.60" y="79.24" font-size="5.05" text-anchor="end" fill="#231f20" stroke="#231f20" stroke-width="0.12">Ureter development</text>
<line x1="355.90" y1="77.44" x2="358.70" y2="77.44" stroke="#231f20" stroke-width="0.8"/>
<text x="353.60" y="85.66" font-size="5.05" text-anchor="end" fill="#231f20" stroke="#231f20" stroke-width="0.12">•Respiratory electron transport chain</text>
<line x1="355.90" y1="83.86" x2="358.70" y2="83.86" stroke="#231f20" stroke-width="0.8"/>
<text x="353.60" y="92.08" font-size="5.05" text-anchor="end" fill="#231f20" stroke="#231f20" stroke-width="0.12">Neural precursor cell proliferation</text>
<line x1="355.90" y1="90.28" x2="358.70" y2="90.28" stroke="#231f20" stroke-width="0.8"/>
<text x="353.60" y="98.50" font-size="5.05" text-anchor="end" fill="#231f20" stroke="#231f20" stroke-width="0.12">Regulation of muscle adaptation</text>
<line x1="355.90" y1="96.70" x2="358.70" y2="96.70" stroke="#231f20" stroke-width="0.8"/>
<text x="353.60" y="104.92" font-size="5.05" text-anchor="end" fill="#231f20" stroke="#231f20" stroke-width="0.12">Vascular endothelial growth factor production</text>
<line x1="355.90" y1="103.12" x2="358.70" y2="103.12" stroke="#231f20" stroke-width="0.8"/>
<text x="353.60" y="111.33" font-size="5.05" text-anchor="end" fill="#231f20" stroke="#231f20" stroke-width="0.12">•Oxidative phosphorylation</text>
<line x1="355.90" y1="109.53" x2="358.70" y2="109.53" stroke="#231f20" stroke-width="0.8"/>
<text x="353.60" y="117.75" font-size="5.05" text-anchor="end" fill="#231f20" stroke="#231f20" stroke-width="0.12">posttranslational protein targeting to ER membrane</text>
<line x1="355.90" y1="115.95" x2="358.70" y2="115.95" stroke="#231f20" stroke-width="0.8"/>
<text x="353.60" y="124.17" font-size="5.05" text-anchor="end" fill="#231f20" stroke="#231f20" stroke-width="0.12">Non motile cilium assembly</text>
<line x1="355.90" y1="122.37" x2="358.70" y2="122.37" stroke="#231f20" stroke-width="0.8"/>
<text x="353.60" y="130.59" font-size="5.05" text-anchor="end" fill="#231f20" stroke="#231f20" stroke-width="0.12">••Natural killer cell mediated immunity</text>
<line x1="355.90" y1="128.79" x2="358.70" y2="128.79" stroke="#231f20" stroke-width="0.8"/>
<text x="353.60" y="137.01" font-size="5.05" text-anchor="end" fill="#231f20" stroke="#231f20" stroke-width="0.12">••Natural killer cell mediated cytotoxicity</text>
<line x1="355.90" y1="135.21" x2="358.70" y2="135.21" stroke="#231f20" stroke-width="0.8"/>
<rect x="358.70" y="22.00" width="58.30" height="117.30" stroke="#444" stroke-width="1.0" fill="none"/>
<rect x="419.20" y="22.00" width="58.00" height="117.30" stroke="#231f20" stroke-width="1.0" fill="none"/>
<circle cx="474.20" cy="26.10" r="1.60" fill="#bf1329"/>
<circle cx="450.20" cy="32.50" r="1.85" fill="#bf1329"/>
<circle cx="444.70" cy="38.90" r="1.65" fill="#bf1329"/>
<circle cx="444.40" cy="45.30" r="1.65" fill="#bf1329"/>
<circle cx="437.90" cy="51.80" r="2.05" fill="#bf1329"/>
<circle cx="437.20" cy="58.20" r="1.75" fill="#bf1329"/>
<circle cx="435.30" cy="64.60" r="1.75" fill="#bf1329"/>
<circle cx="430.20" cy="71.00" r="1.85" fill="#bf1329"/>
<circle cx="429.00" cy="77.40" r="1.95" fill="#bf1329"/>
<circle cx="427.40" cy="83.90" r="1.95" fill="#bf1329"/>
<circle cx="424.20" cy="90.30" r="1.75" fill="#bf1329"/>
<circle cx="424.00" cy="96.80" r="1.65" fill="#bf1329"/>
<circle cx="423.30" cy="103.20" r="1.95" fill="#bf1329"/>
<circle cx="423.00" cy="109.60" r="1.95" fill="#bf1329"/>
<circle cx="421.30" cy="116.10" r="2.45" fill="#bf1329"/>
<circle cx="414.30" cy="122.60" r="1.25" fill="#8c5a6c"/>
<circle cx="388.00" cy="129.00" r="1.65" fill="#a3293d"/>
<circle cx="361.80" cy="135.40" r="1.65" fill="#bf1329"/>
<line x1="368.50" y1="139.30" x2="368.50" y2="141.70" stroke="#231f20" stroke-width="0.8"/>
<text x="0" y="0" font-size="6.2" text-anchor="end" fill="#231f20" transform="translate(370.80,147.90) rotate(-45)">−2.00</text>
<line x1="381.30" y1="139.30" x2="381.30" y2="141.70" stroke="#231f20" stroke-width="0.8"/>
<text x="0" y="0" font-size="6.2" text-anchor="end" fill="#231f20" transform="translate(383.60,147.90) rotate(-45)">−1.95</text>
<line x1="394.00" y1="139.30" x2="394.00" y2="141.70" stroke="#231f20" stroke-width="0.8"/>
<text x="0" y="0" font-size="6.2" text-anchor="end" fill="#231f20" transform="translate(396.30,147.90) rotate(-45)">−1.90</text>
<line x1="406.70" y1="139.30" x2="406.70" y2="141.70" stroke="#231f20" stroke-width="0.8"/>
<text x="0" y="0" font-size="6.2" text-anchor="end" fill="#231f20" transform="translate(409.00,147.90) rotate(-45)">−1.85</text>
<line x1="431.40" y1="139.30" x2="431.40" y2="141.70" stroke="#231f20" stroke-width="0.8"/>
<text x="0" y="0" font-size="6.2" text-anchor="end" fill="#231f20" transform="translate(433.70,147.90) rotate(-45)">2.0</text>
<line x1="450.70" y1="139.30" x2="450.70" y2="141.70" stroke="#231f20" stroke-width="0.8"/>
<text x="0" y="0" font-size="6.2" text-anchor="end" fill="#231f20" transform="translate(453.00,147.90) rotate(-45)">2.1</text>
<line x1="469.80" y1="139.30" x2="469.80" y2="141.70" stroke="#231f20" stroke-width="0.8"/>
<text x="0" y="0" font-size="6.2" text-anchor="end" fill="#231f20" transform="translate(472.10,147.90) rotate(-45)">2.2</text>
<text x="0" y="0" font-size="8.0" text-anchor="middle" fill="#231f20" stroke="#231f20" stroke-width="0.1" transform="translate(418.3,166.70) scale(0.70,1)">NES</text>
<text x="483.30" y="38.80" font-size="6.3" text-anchor="start" fill="#231f20" >FDR</text>
<linearGradient id="g36" x1="0" y1="0" x2="0" y2="1"><stop offset="0" stop-color="#6d95d0"/><stop offset="0.25" stop-color="#9a8cc4"/><stop offset="0.5" stop-color="#d06a8a"/><stop offset="0.78" stop-color="#e8383c"/><stop offset="1" stop-color="#f21a16"/></linearGradient>
<rect x="483.30" y="45.00" width="6.4" height="31.00" fill="url(#g36)"/>
<text x="491.10" y="47.10" font-size="6.0" text-anchor="start" fill="#333" >0.4</text>
<text x="491.10" y="54.85" font-size="6.0" text-anchor="start" fill="#333" >0.3</text>
<text x="491.10" y="62.60" font-size="6.0" text-anchor="start" fill="#333" >0.2</text>
<text x="491.10" y="70.35" font-size="6.0" text-anchor="start" fill="#333" >0.1</text>
<text x="491.10" y="78.10" font-size="6.0" text-anchor="start" fill="#333" >0.0</text>
<text x="483.30" y="90.80" font-size="5.9" text-anchor="start" fill="#231f20" >GeneRatio</text>
<circle cx="485.80" cy="97.20" r="1.45" fill="#000"/>
<text x="490.40" y="99.30" font-size="6.0" text-anchor="start" fill="#333" >0.4</text>
<circle cx="485.80" cy="104.20" r="1.60" fill="#000"/>
<text x="490.40" y="106.30" font-size="6.0" text-anchor="start" fill="#333" >0.5</text>
<circle cx="485.80" cy="111.10" r="1.75" fill="#000"/>
<text x="490.40" y="113.20" font-size="6.0" text-anchor="start" fill="#333" >0.6</text>
<circle cx="485.80" cy="118.10" r="1.90" fill="#000"/>
<text x="490.40" y="120.20" font-size="6.0" text-anchor="start" fill="#333" >0.7</text>
<circle cx="485.80" cy="125.00" r="2.10" fill="#000"/>
<text x="490.40" y="127.10" font-size="6.0" text-anchor="start" fill="#333" >0.8</text>
<text x="323.70" y="183.00" font-size="8.2" text-anchor="middle" fill="#231f20" >GO (BP) terms</text>
<text x="387.80" y="187.40" font-size="6.0" text-anchor="middle" fill="#231f20" >Downregulated</text>
<text x="448.20" y="187.40" font-size="6.0" text-anchor="middle" fill="#231f20" >Upregulated</text>
<text x="353.60" y="196.90" font-size="5.05" text-anchor="end" fill="#231f20" stroke="#231f20" stroke-width="0.12">Ribosomal large subunit biogenesis</text>
<line x1="355.90" y1="195.10" x2="358.70" y2="195.10" stroke="#231f20" stroke-width="0.8"/>
<text x="353.60" y="202.62" font-size="5.05" text-anchor="end" fill="#231f20" stroke="#231f20" stroke-width="0.12">Ribosome biogenesis</text>
<line x1="355.90" y1="200.82" x2="358.70" y2="200.82" stroke="#231f20" stroke-width="0.8"/>
<text x="353.60" y="208.34" font-size="5.05" text-anchor="end" fill="#231f20" stroke="#231f20" stroke-width="0.12">Cytoplasmic translation</text>
<line x1="355.90" y1="206.54" x2="358.70" y2="206.54" stroke="#231f20" stroke-width="0.8"/>
<text x="353.60" y="214.06" font-size="5.05" text-anchor="end" fill="#231f20" stroke="#231f20" stroke-width="0.12">rRNA metabolic process</text>
<line x1="355.90" y1="212.26" x2="358.70" y2="212.26" stroke="#231f20" stroke-width="0.8"/>
<text x="353.60" y="219.78" font-size="5.05" text-anchor="end" fill="#231f20" stroke="#231f20" stroke-width="0.12">ncRNA processing</text>
<line x1="355.90" y1="217.98" x2="358.70" y2="217.98" stroke="#231f20" stroke-width="0.8"/>
<text x="353.60" y="225.50" font-size="5.05" text-anchor="end" fill="#231f20" stroke="#231f20" stroke-width="0.12">Ribosomal small subunit biogenesis</text>
<line x1="355.90" y1="223.70" x2="358.70" y2="223.70" stroke="#231f20" stroke-width="0.8"/>
<text x="353.60" y="231.22" font-size="5.05" text-anchor="end" fill="#231f20" stroke="#231f20" stroke-width="0.12">Ribonucleoprotein complex biogenesis</text>
<line x1="355.90" y1="229.42" x2="358.70" y2="229.42" stroke="#231f20" stroke-width="0.8"/>
<text x="353.60" y="236.94" font-size="5.05" text-anchor="end" fill="#231f20" stroke="#231f20" stroke-width="0.12">Maturation of SSU rRNA</text>
<line x1="355.90" y1="235.14" x2="358.70" y2="235.14" stroke="#231f20" stroke-width="0.8"/>
<text x="353.60" y="242.66" font-size="5.05" text-anchor="end" fill="#231f20" stroke="#231f20" stroke-width="0.12">•Amino acid activation</text>
<line x1="355.90" y1="240.86" x2="358.70" y2="240.86" stroke="#231f20" stroke-width="0.8"/>
<text x="353.60" y="248.38" font-size="5.05" text-anchor="end" fill="#231f20" stroke="#231f20" stroke-width="0.12">tRNA metabolic process</text>
<line x1="355.90" y1="246.58" x2="358.70" y2="246.58" stroke="#231f20" stroke-width="0.8"/>
<text x="353.60" y="254.10" font-size="5.05" text-anchor="end" fill="#231f20" stroke="#231f20" stroke-width="0.12">••Regulation of adaptive immune response</text>
<line x1="355.90" y1="252.30" x2="358.70" y2="252.30" stroke="#231f20" stroke-width="0.8"/>
<text x="353.60" y="259.82" font-size="5.05" text-anchor="end" fill="#231f20" stroke="#231f20" stroke-width="0.12">••Defense response to fungus</text>
<line x1="355.90" y1="258.02" x2="358.70" y2="258.02" stroke="#231f20" stroke-width="0.8"/>
<text x="353.60" y="265.54" font-size="5.05" text-anchor="end" fill="#231f20" stroke="#231f20" stroke-width="0.12">Neutrophil migration</text>
<line x1="355.90" y1="263.74" x2="358.70" y2="263.74" stroke="#231f20" stroke-width="0.8"/>
<text x="353.60" y="271.26" font-size="5.05" text-anchor="end" fill="#231f20" stroke="#231f20" stroke-width="0.12">••Response to molecule of bacterial origin</text>
<line x1="355.90" y1="269.46" x2="358.70" y2="269.46" stroke="#231f20" stroke-width="0.8"/>
<text x="353.60" y="276.98" font-size="5.05" text-anchor="end" fill="#231f20" stroke="#231f20" stroke-width="0.12">••Macrophage activation</text>
<line x1="355.90" y1="275.18" x2="358.70" y2="275.18" stroke="#231f20" stroke-width="0.8"/>
<text x="353.60" y="282.70" font-size="5.05" text-anchor="end" fill="#231f20" stroke="#231f20" stroke-width="0.12">••Tumor necrosis factor superfamily cytokine production</text>
<line x1="355.90" y1="280.90" x2="358.70" y2="280.90" stroke="#231f20" stroke-width="0.8"/>
<text x="353.60" y="288.42" font-size="5.05" text-anchor="end" fill="#231f20" stroke="#231f20" stroke-width="0.12">••Cellular response to molecule of bacterial origin</text>
<line x1="355.90" y1="286.62" x2="358.70" y2="286.62" stroke="#231f20" stroke-width="0.8"/>
<text x="353.60" y="294.14" font-size="5.05" text-anchor="end" fill="#231f20" stroke="#231f20" stroke-width="0.12">••Cellular response to biotic stimulus</text>
<line x1="355.90" y1="292.34" x2="358.70" y2="292.34" stroke="#231f20" stroke-width="0.8"/>
<text x="353.60" y="299.86" font-size="5.05" text-anchor="end" fill="#231f20" stroke="#231f20" stroke-width="0.12">Leukocyte chemotaxis</text>
<line x1="355.90" y1="298.06" x2="358.70" y2="298.06" stroke="#231f20" stroke-width="0.8"/>
<text x="353.60" y="305.58" font-size="5.05" text-anchor="end" fill="#231f20" stroke="#231f20" stroke-width="0.12">••Interleukin 1 beta production</text>
<line x1="355.90" y1="303.78" x2="358.70" y2="303.78" stroke="#231f20" stroke-width="0.8"/>
<rect x="358.70" y="191.40" width="58.30" height="115.50" stroke="#444" stroke-width="1.0" fill="none"/>
<rect x="419.20" y="191.40" width="58.00" height="115.50" stroke="#231f20" stroke-width="1.0" fill="none"/>
<circle cx="474.50" cy="195.10" r="1.85" fill="#bf1329"/>
<circle cx="461.50" cy="200.80" r="1.75" fill="#bf1329"/>
<circle cx="450.20" cy="206.50" r="2.05" fill="#bf1329"/>
<circle cx="449.20" cy="212.30" r="1.75" fill="#bf1329"/>
<circle cx="443.50" cy="218.00" r="1.75" fill="#bf1329"/>
<circle cx="442.30" cy="223.70" r="1.75" fill="#bf1329"/>
<circle cx="432.00" cy="229.40" r="1.75" fill="#bf1329"/>
<circle cx="427.10" cy="235.10" r="1.75" fill="#bf1329"/>
<circle cx="425.90" cy="240.90" r="1.75" fill="#bf1329"/>
<circle cx="421.50" cy="246.60" r="1.75" fill="#bf1329"/>
<circle cx="414.60" cy="252.30" r="1.75" fill="#bf1329"/>
<circle cx="413.20" cy="258.00" r="1.75" fill="#bf1329"/>
<circle cx="411.70" cy="263.80" r="1.75" fill="#bf1329"/>
<circle cx="411.30" cy="269.50" r="1.75" fill="#bf1329"/>
<circle cx="410.30" cy="275.20" r="1.75" fill="#bf1329"/>
<circle cx="383.80" cy="280.90" r="1.85" fill="#bf1329"/>
<circle cx="380.00" cy="286.60" r="1.75" fill="#bf1329"/>
<circle cx="379.30" cy="292.40" r="1.65" fill="#bf1329"/>
<circle cx="371.80" cy="298.10" r="1.85" fill="#bf1329"/>
<circle cx="361.70" cy="303.80" r="1.85" fill="#bf1329"/>
<line x1="363.40" y1="306.90" x2="363.40" y2="309.30" stroke="#231f20" stroke-width="0.8"/>
<text x="0" y="0" font-size="6.2" text-anchor="end" fill="#231f20" transform="translate(365.70,315.50) rotate(-45)">−2.45</text>
<line x1="377.40" y1="306.90" x2="377.40" y2="309.30" stroke="#231f20" stroke-width="0.8"/>
<text x="0" y="0" font-size="6.2" text-anchor="end" fill="#231f20" transform="translate(379.70,315.50) rotate(-45)">−2.40</text>
<line x1="391.50" y1="306.90" x2="391.50" y2="309.30" stroke="#231f20" stroke-width="0.8"/>
<text x="0" y="0" font-size="6.2" text-anchor="end" fill="#231f20" transform="translate(393.80,315.50) rotate(-45)">−2.35</text>
<line x1="405.50" y1="306.90" x2="405.50" y2="309.30" stroke="#231f20" stroke-width="0.8"/>
<text x="0" y="0" font-size="6.2" text-anchor="end" fill="#231f20" transform="translate(407.80,315.50) rotate(-45)">−2.30</text>
<line x1="422.30" y1="306.90" x2="422.30" y2="309.30" stroke="#231f20" stroke-width="0.8"/>
<text x="0" y="0" font-size="6.2" text-anchor="end" fill="#231f20" transform="translate(424.60,315.50) rotate(-45)">2.0</text>
<line x1="437.20" y1="306.90" x2="437.20" y2="309.30" stroke="#231f20" stroke-width="0.8"/>
<text x="0" y="0" font-size="6.2" text-anchor="end" fill="#231f20" transform="translate(439.50,315.50) rotate(-45)">2.1</text>
<line x1="452.10" y1="306.90" x2="452.10" y2="309.30" stroke="#231f20" stroke-width="0.8"/>
<text x="0" y="0" font-size="6.2" text-anchor="end" fill="#231f20" transform="translate(454.40,315.50) rotate(-45)">2.2</text>
<line x1="467.00" y1="306.90" x2="467.00" y2="309.30" stroke="#231f20" stroke-width="0.8"/>
<text x="0" y="0" font-size="6.2" text-anchor="end" fill="#231f20" transform="translate(469.30,315.50) rotate(-45)">2.3</text>
<text x="0" y="0" font-size="8.0" text-anchor="middle" fill="#231f20" stroke="#231f20" stroke-width="0.1" transform="translate(418.3,334.20) scale(0.70,1)">NES</text>
<text x="483.30" y="207.70" font-size="6.3" text-anchor="start" fill="#231f20" >FDR</text>
<linearGradient id="g205" x1="0" y1="0" x2="0" y2="1"><stop offset="0" stop-color="#6d95d0"/><stop offset="0.25" stop-color="#9a8cc4"/><stop offset="0.5" stop-color="#d06a8a"/><stop offset="0.78" stop-color="#e8383c"/><stop offset="1" stop-color="#f21a16"/></linearGradient>
<rect x="483.30" y="213.90" width="6.4" height="30.90" fill="url(#g205)"/>
<text x="491.10" y="216.00" font-size="6.0" text-anchor="start" fill="#333" >0.05</text>
<text x="491.10" y="222.18" font-size="6.0" text-anchor="start" fill="#333" >0.04</text>
<text x="491.10" y="228.36" font-size="6.0" text-anchor="start" fill="#333" >0.03</text>
<text x="491.10" y="234.54" font-size="6.0" text-anchor="start" fill="#333" >0.02</text>
<text x="491.10" y="240.72" font-size="6.0" text-anchor="start" fill="#333" >0.01</text>
<text x="491.10" y="246.90" font-size="6.0" text-anchor="start" fill="#333" >0.00</text>
<text x="483.30" y="260.20" font-size="5.9" text-anchor="start" fill="#231f20" >GeneRatio</text>
<circle cx="485.80" cy="267.40" r="1.55" fill="#000"/>
<text x="490.40" y="269.50" font-size="6.0" text-anchor="start" fill="#333" >0.45</text>
<circle cx="485.80" cy="273.90" r="1.65" fill="#000"/>
<text x="490.40" y="276.00" font-size="6.0" text-anchor="start" fill="#333" >0.50</text>
<circle cx="485.80" cy="280.40" r="1.78" fill="#000"/>
<text x="490.40" y="282.50" font-size="6.0" text-anchor="start" fill="#333" >0.55</text>
<circle cx="485.80" cy="287.00" r="1.90" fill="#000"/>
<text x="490.40" y="289.10" font-size="6.0" text-anchor="start" fill="#333" >0.60</text>
<circle cx="485.80" cy="293.50" r="2.05" fill="#000"/>
<text x="490.40" y="295.60" font-size="6.0" text-anchor="start" fill="#333" >0.65</text>
<text x="323.70" y="351.50" font-size="8.2" text-anchor="middle" fill="#231f20" >GO (BP) terms</text>
<text x="387.80" y="356.00" font-size="6.0" text-anchor="middle" fill="#231f20" >Downregulated</text>
<text x="448.20" y="356.00" font-size="6.0" text-anchor="middle" fill="#231f20" >Upregulated</text>
<text x="353.60" y="364.70" font-size="5.05" text-anchor="end" fill="#231f20" stroke="#231f20" stroke-width="0.12">••Response to fungus</text>
<line x1="355.90" y1="362.90" x2="358.70" y2="362.90" stroke="#231f20" stroke-width="0.8"/>
<text x="353.60" y="370.41" font-size="5.05" text-anchor="end" fill="#231f20" stroke="#231f20" stroke-width="0.12">••Defense response to fungus</text>
<line x1="355.90" y1="368.61" x2="358.70" y2="368.61" stroke="#231f20" stroke-width="0.8"/>
<text x="353.60" y="376.12" font-size="5.05" text-anchor="end" fill="#231f20" stroke="#231f20" stroke-width="0.12">••Lipopolysaccharide mediated signaling pathway</text>
<line x1="355.90" y1="374.32" x2="358.70" y2="374.32" stroke="#231f20" stroke-width="0.8"/>
<text x="353.60" y="381.83" font-size="5.05" text-anchor="end" fill="#231f20" stroke="#231f20" stroke-width="0.12">••Viral process</text>
<line x1="355.90" y1="380.03" x2="358.70" y2="380.03" stroke="#231f20" stroke-width="0.8"/>
<text x="353.60" y="387.54" font-size="5.05" text-anchor="end" fill="#231f20" stroke="#231f20" stroke-width="0.12">••Viral genome replication</text>
<line x1="355.90" y1="385.74" x2="358.70" y2="385.74" stroke="#231f20" stroke-width="0.8"/>
<text x="353.60" y="393.25" font-size="5.05" text-anchor="end" fill="#231f20" stroke="#231f20" stroke-width="0.12">••Response to type I interferon</text>
<line x1="355.90" y1="391.45" x2="358.70" y2="391.45" stroke="#231f20" stroke-width="0.8"/>
<text x="353.60" y="398.96" font-size="5.05" text-anchor="end" fill="#231f20" stroke="#231f20" stroke-width="0.12">••T helper 17 type immune response</text>
<line x1="355.90" y1="397.16" x2="358.70" y2="397.16" stroke="#231f20" stroke-width="0.8"/>
<text x="353.60" y="404.67" font-size="5.05" text-anchor="end" fill="#231f20" stroke="#231f20" stroke-width="0.12">••Cellular response to biotic stimulus</text>
<line x1="355.90" y1="402.87" x2="358.70" y2="402.87" stroke="#231f20" stroke-width="0.8"/>
<text x="353.60" y="410.38" font-size="5.05" text-anchor="end" fill="#231f20" stroke="#231f20" stroke-width="0.12">••Leukocyte migration involved in inflammatory response</text>
<line x1="355.90" y1="408.58" x2="358.70" y2="408.58" stroke="#231f20" stroke-width="0.8"/>
<text x="353.60" y="416.09" font-size="5.05" text-anchor="end" fill="#231f20" stroke="#231f20" stroke-width="0.12">••Regulation of T helper 17 type immune response</text>
<line x1="355.90" y1="414.29" x2="358.70" y2="414.29" stroke="#231f20" stroke-width="0.8"/>
<text x="353.60" y="421.80" font-size="5.05" text-anchor="end" fill="#231f20" stroke="#231f20" stroke-width="0.12">ncRNA processing</text>
<line x1="355.90" y1="420.00" x2="358.70" y2="420.00" stroke="#231f20" stroke-width="0.8"/>
<text x="353.60" y="427.51" font-size="5.05" text-anchor="end" fill="#231f20" stroke="#231f20" stroke-width="0.12">Maturation of SSU rRNA</text>
<line x1="355.90" y1="425.71" x2="358.70" y2="425.71" stroke="#231f20" stroke-width="0.8"/>
<text x="353.60" y="433.22" font-size="5.05" text-anchor="end" fill="#231f20" stroke="#231f20" stroke-width="0.12">rRNA metabolic process</text>
<line x1="355.90" y1="431.42" x2="358.70" y2="431.42" stroke="#231f20" stroke-width="0.8"/>
<text x="353.60" y="438.93" font-size="5.05" text-anchor="end" fill="#231f20" stroke="#231f20" stroke-width="0.12">Ribosomal small subunit biogenesis</text>
<line x1="355.90" y1="437.13" x2="358.70" y2="437.13" stroke="#231f20" stroke-width="0.8"/>
<text x="353.60" y="444.64" font-size="5.05" text-anchor="end" fill="#231f20" stroke="#231f20" stroke-width="0.12">Nucleosome organization</text>
<line x1="355.90" y1="442.84" x2="358.70" y2="442.84" stroke="#231f20" stroke-width="0.8"/>
<text x="353.60" y="450.35" font-size="5.05" text-anchor="end" fill="#231f20" stroke="#231f20" stroke-width="0.12">Ribonucleoprotein complex biogenesis</text>
<line x1="355.90" y1="448.55" x2="358.70" y2="448.55" stroke="#231f20" stroke-width="0.8"/>
<text x="353.60" y="456.06" font-size="5.05" text-anchor="end" fill="#231f20" stroke="#231f20" stroke-width="0.12">Ribosome biogenesis</text>
<line x1="355.90" y1="454.26" x2="358.70" y2="454.26" stroke="#231f20" stroke-width="0.8"/>
<text x="353.60" y="461.77" font-size="5.05" text-anchor="end" fill="#231f20" stroke="#231f20" stroke-width="0.12">Ribosomal large subunit biogenesis</text>
<line x1="355.90" y1="459.97" x2="358.70" y2="459.97" stroke="#231f20" stroke-width="0.8"/>
<text x="353.60" y="467.48" font-size="5.05" text-anchor="end" fill="#231f20" stroke="#231f20" stroke-width="0.12">Nucleosome assembly</text>
<line x1="355.90" y1="465.68" x2="358.70" y2="465.68" stroke="#231f20" stroke-width="0.8"/>
<text x="353.60" y="473.19" font-size="5.05" text-anchor="end" fill="#231f20" stroke="#231f20" stroke-width="0.12">Cytoplasmic translation</text>
<line x1="355.90" y1="471.39" x2="358.70" y2="471.39" stroke="#231f20" stroke-width="0.8"/>
<rect x="358.70" y="359.90" width="58.30" height="114.60" stroke="#444" stroke-width="1.0" fill="none"/>
<rect x="419.20" y="359.90" width="58.00" height="114.60" stroke="#231f20" stroke-width="1.0" fill="none"/>
<circle cx="474.20" cy="363.10" r="1.75" fill="#bf1329"/>
<circle cx="466.50" cy="368.80" r="1.75" fill="#bf1329"/>
<circle cx="460.80" cy="374.60" r="1.75" fill="#bf1329"/>
<circle cx="437.90" cy="380.30" r="1.75" fill="#bf1329"/>
<circle cx="435.80" cy="386.00" r="1.95" fill="#bf1329"/>
<circle cx="431.90" cy="391.70" r="1.75" fill="#bf1329"/>
<circle cx="425.90" cy="397.40" r="1.35" fill="#c8283a"/>
<circle cx="424.70" cy="403.10" r="1.45" fill="#d04050"/>
<circle cx="423.50" cy="408.80" r="1.55" fill="#d04a5a"/>
<circle cx="421.60" cy="414.50" r="1.15" fill="#d05a6a"/>
<circle cx="414.60" cy="420.20" r="1.75" fill="#bf1329"/>
<circle cx="407.90" cy="425.90" r="1.85" fill="#bf1329"/>
<circle cx="398.30" cy="431.60" r="1.85" fill="#bf1329"/>
<circle cx="395.90" cy="437.30" r="1.95" fill="#bf1329"/>
<circle cx="387.00" cy="443.00" r="1.85" fill="#bf1329"/>
<circle cx="381.00" cy="448.70" r="1.85" fill="#bf1329"/>
<circle cx="373.50" cy="454.40" r="1.85" fill="#bf1329"/>
<circle cx="368.20" cy="460.10" r="1.95" fill="#bf1329"/>
<circle cx="364.10" cy="465.80" r="1.85" fill="#bf1329"/>
<circle cx="361.50" cy="471.40" r="1.85" fill="#bf1329"/>
<line x1="367.70" y1="474.50" x2="367.70" y2="476.90" stroke="#231f20" stroke-width="0.8"/>
<text x="0" y="0" font-size="6.2" text-anchor="end" fill="#231f20" transform="translate(370.00,483.10) rotate(-45)">−2.4</text>
<line x1="381.00" y1="474.50" x2="381.00" y2="476.90" stroke="#231f20" stroke-width="0.8"/>
<text x="0" y="0" font-size="6.2" text-anchor="end" fill="#231f20" transform="translate(383.30,483.10) rotate(-45)">−2.3</text>
<line x1="394.70" y1="474.50" x2="394.70" y2="476.90" stroke="#231f20" stroke-width="0.8"/>
<text x="0" y="0" font-size="6.2" text-anchor="end" fill="#231f20" transform="translate(397.00,483.10) rotate(-45)">−2.2</text>
<line x1="408.40" y1="474.50" x2="408.40" y2="476.90" stroke="#231f20" stroke-width="0.8"/>
<text x="0" y="0" font-size="6.2" text-anchor="end" fill="#231f20" transform="translate(410.70,483.10) rotate(-45)">−2.1</text>
<line x1="433.10" y1="474.50" x2="433.10" y2="476.90" stroke="#231f20" stroke-width="0.8"/>
<text x="0" y="0" font-size="6.2" text-anchor="end" fill="#231f20" transform="translate(435.40,483.10) rotate(-45)">2.1</text>
<line x1="446.30" y1="474.50" x2="446.30" y2="476.90" stroke="#231f20" stroke-width="0.8"/>
<text x="0" y="0" font-size="6.2" text-anchor="end" fill="#231f20" transform="translate(448.60,483.10) rotate(-45)">2.2</text>
<line x1="460.80" y1="474.50" x2="460.80" y2="476.90" stroke="#231f20" stroke-width="0.8"/>
<text x="0" y="0" font-size="6.2" text-anchor="end" fill="#231f20" transform="translate(463.10,483.10) rotate(-45)">2.3</text>
<line x1="474.50" y1="474.50" x2="474.50" y2="476.90" stroke="#231f20" stroke-width="0.8"/>
<text x="0" y="0" font-size="6.2" text-anchor="end" fill="#231f20" transform="translate(476.80,483.10) rotate(-45)">2.4</text>
<text x="0" y="0" font-size="8.0" text-anchor="middle" fill="#231f20" stroke="#231f20" stroke-width="0.1" transform="translate(418.3,498.70) scale(0.70,1)">NES</text>
<text x="483.30" y="378.00" font-size="6.3" text-anchor="start" fill="#231f20" >FDR</text>
<linearGradient id="g375" x1="0" y1="0" x2="0" y2="1"><stop offset="0" stop-color="#6d95d0"/><stop offset="0.25" stop-color="#9a8cc4"/><stop offset="0.5" stop-color="#d06a8a"/><stop offset="0.78" stop-color="#e8383c"/><stop offset="1" stop-color="#f21a16"/></linearGradient>
<rect x="483.30" y="384.60" width="6.4" height="30.70" fill="url(#g375)"/>
<text x="491.10" y="386.70" font-size="6.0" text-anchor="start" fill="#333" >0.05</text>
<text x="491.10" y="392.84" font-size="6.0" text-anchor="start" fill="#333" >0.04</text>
<text x="491.10" y="398.98" font-size="6.0" text-anchor="start" fill="#333" >0.03</text>
<text x="491.10" y="405.12" font-size="6.0" text-anchor="start" fill="#333" >0.02</text>
<text x="491.10" y="411.26" font-size="6.0" text-anchor="start" fill="#333" >0.01</text>
<text x="491.10" y="417.40" font-size="6.0" text-anchor="start" fill="#333" >0.00</text>
<text x="483.30" y="430.50" font-size="5.9" text-anchor="start" fill="#231f20" >GeneRatio</text>
<circle cx="485.80" cy="438.00" r="1.40" fill="#000"/>
<text x="490.40" y="440.10" font-size="6.0" text-anchor="start" fill="#333" >0.3</text>
<circle cx="485.80" cy="445.00" r="1.60" fill="#000"/>
<text x="490.40" y="447.10" font-size="6.0" text-anchor="start" fill="#333" >0.4</text>
<circle cx="485.80" cy="451.90" r="1.80" fill="#000"/>
<text x="490.40" y="454.00" font-size="6.0" text-anchor="start" fill="#333" >0.5</text>
<circle cx="485.80" cy="458.60" r="2.00" fill="#000"/>
<text x="490.40" y="460.70" font-size="6.0" text-anchor="start" fill="#333" >0.6</text>
<text x="323.70" y="516.00" font-size="8.2" text-anchor="middle" fill="#231f20" >GO (BP) terms</text>
<text x="387.80" y="520.00" font-size="6.0" text-anchor="middle" fill="#231f20" >Downregulated</text>
<text x="448.20" y="520.00" font-size="6.0" text-anchor="middle" fill="#231f20" >Upregulated</text>
<text x="353.60" y="529.70" font-size="5.05" text-anchor="end" fill="#231f20" stroke="#231f20" stroke-width="0.12">Sensory perception of smell</text>
<line x1="355.90" y1="527.90" x2="358.70" y2="527.90" stroke="#231f20" stroke-width="0.8"/>
<text x="353.60" y="535.94" font-size="5.05" text-anchor="end" fill="#231f20" stroke="#231f20" stroke-width="0.12">Intraciliary transport</text>
<line x1="355.90" y1="534.14" x2="358.70" y2="534.14" stroke="#231f20" stroke-width="0.8"/>
<text x="353.60" y="542.18" font-size="5.05" text-anchor="end" fill="#231f20" stroke="#231f20" stroke-width="0.12">Intraciliary anterograde transport</text>
<line x1="355.90" y1="540.38" x2="358.70" y2="540.38" stroke="#231f20" stroke-width="0.8"/>
<text x="353.60" y="548.42" font-size="5.05" text-anchor="end" fill="#231f20" stroke="#231f20" stroke-width="0.12">Non motile cilium assembly</text>
<line x1="355.90" y1="546.62" x2="358.70" y2="546.62" stroke="#231f20" stroke-width="0.8"/>
<text x="353.60" y="554.66" font-size="5.05" text-anchor="end" fill="#231f20" stroke="#231f20" stroke-width="0.12">Sensory perception of bitter taste</text>
<line x1="355.90" y1="552.86" x2="358.70" y2="552.86" stroke="#231f20" stroke-width="0.8"/>
<text x="353.60" y="560.90" font-size="5.05" text-anchor="end" fill="#231f20" stroke="#231f20" stroke-width="0.12">••Regulation of B cell activation</text>
<line x1="355.90" y1="559.10" x2="358.70" y2="559.10" stroke="#231f20" stroke-width="0.8"/>
<text x="353.60" y="567.14" font-size="5.05" text-anchor="end" fill="#231f20" stroke="#231f20" stroke-width="0.12">••Regulation of adaptive immune response</text>
<line x1="355.90" y1="565.34" x2="358.70" y2="565.34" stroke="#231f20" stroke-width="0.8"/>
<text x="353.60" y="573.38" font-size="5.05" text-anchor="end" fill="#231f20" stroke="#231f20" stroke-width="0.12">••Adaptive immune response</text>
<line x1="355.90" y1="571.58" x2="358.70" y2="571.58" stroke="#231f20" stroke-width="0.8"/>
<text x="353.60" y="579.62" font-size="5.05" text-anchor="end" fill="#231f20" stroke="#231f20" stroke-width="0.12">••Complement activation</text>
<line x1="355.90" y1="577.82" x2="358.70" y2="577.82" stroke="#231f20" stroke-width="0.8"/>
<text x="353.60" y="585.86" font-size="5.05" text-anchor="end" fill="#231f20" stroke="#231f20" stroke-width="0.12">Cell chemotaxis</text>
<line x1="355.90" y1="584.06" x2="358.70" y2="584.06" stroke="#231f20" stroke-width="0.8"/>
<text x="353.60" y="592.10" font-size="5.05" text-anchor="end" fill="#231f20" stroke="#231f20" stroke-width="0.12">Leukocyte chemotaxis</text>
<line x1="355.90" y1="590.30" x2="358.70" y2="590.30" stroke="#231f20" stroke-width="0.8"/>
<text x="353.60" y="598.34" font-size="5.05" text-anchor="end" fill="#231f20" stroke="#231f20" stroke-width="0.12">••Humoral immune response</text>
<line x1="355.90" y1="596.54" x2="358.70" y2="596.54" stroke="#231f20" stroke-width="0.8"/>
<text x="353.60" y="604.58" font-size="5.05" text-anchor="end" fill="#231f20" stroke="#231f20" stroke-width="0.12">••Adaptive immune response</text>
<line x1="355.90" y1="602.78" x2="358.70" y2="602.78" stroke="#231f20" stroke-width="0.8"/>
<text x="353.60" y="610.82" font-size="5.05" text-anchor="end" fill="#231f20" stroke="#231f20" stroke-width="0.12">••Phagocytosis</text>
<line x1="355.90" y1="609.02" x2="358.70" y2="609.02" stroke="#231f20" stroke-width="0.8"/>
<text x="353.60" y="617.06" font-size="5.05" text-anchor="end" fill="#231f20" stroke="#231f20" stroke-width="0.12">••Inflammatory response to antigenic stimulus</text>
<line x1="355.90" y1="615.26" x2="358.70" y2="615.26" stroke="#231f20" stroke-width="0.8"/>
<text x="353.60" y="623.30" font-size="5.05" text-anchor="end" fill="#231f20" stroke="#231f20" stroke-width="0.12">••Phagocytosis recognition</text>
<line x1="355.90" y1="621.50" x2="358.70" y2="621.50" stroke="#231f20" stroke-width="0.8"/>
<text x="353.60" y="629.54" font-size="5.05" text-anchor="end" fill="#231f20" stroke="#231f20" stroke-width="0.12">••Positive regulation of inflammatory response</text>
<line x1="355.90" y1="627.74" x2="358.70" y2="627.74" stroke="#231f20" stroke-width="0.8"/>
<text x="353.60" y="635.78" font-size="5.05" text-anchor="end" fill="#231f20" stroke="#231f20" stroke-width="0.12">••Humoral immune response</text>
<line x1="355.90" y1="633.98" x2="358.70" y2="633.98" stroke="#231f20" stroke-width="0.8"/>
<text x="353.60" y="642.02" font-size="5.05" text-anchor="end" fill="#231f20" stroke="#231f20" stroke-width="0.12">Membrane invagination</text>
<line x1="355.90" y1="640.22" x2="358.70" y2="640.22" stroke="#231f20" stroke-width="0.8"/>
<rect x="358.70" y="523.90" width="58.30" height="120.30" stroke="#231f20" stroke-width="1.0" fill="none"/>
<rect x="419.20" y="523.90" width="58.00" height="120.30" stroke="#231f20" stroke-width="1.0" fill="none"/>
<rect x="416.8" y="523.40" width="3.1" height="121.30" fill="#555"/>
<circle cx="474.50" cy="528.00" r="1.25" fill="#b07a88"/>
<circle cx="463.70" cy="534.10" r="1.55" fill="#a07080"/>
<circle cx="456.40" cy="540.40" r="1.75" fill="#7d9cc8"/>
<circle cx="442.70" cy="546.60" r="1.65" fill="#605868"/>
<circle cx="421.60" cy="552.90" r="1.35" fill="#5a5a66"/>
<circle cx="414.60" cy="559.20" r="1.75" fill="#bf1329"/>
<circle cx="413.40" cy="565.40" r="1.75" fill="#bf1329"/>
<circle cx="412.50" cy="571.70" r="1.75" fill="#bf1329"/>
<circle cx="411.70" cy="577.90" r="1.75" fill="#bf1329"/>
<circle cx="405.50" cy="584.10" r="1.75" fill="#bf1329"/>
<circle cx="403.10" cy="590.40" r="1.75" fill="#bf1329"/>
<circle cx="400.90" cy="596.60" r="1.75" fill="#bf1329"/>
<circle cx="397.50" cy="602.90" r="1.75" fill="#bf1329"/>
<circle cx="393.90" cy="609.10" r="1.75" fill="#bf1329"/>
<circle cx="386.70" cy="615.40" r="1.75" fill="#bf1329"/>
<circle cx="371.80" cy="621.60" r="1.85" fill="#bf1329"/>
<circle cx="370.40" cy="627.80" r="1.65" fill="#bf1329"/>
<circle cx="367.00" cy="634.10" r="1.85" fill="#bf1329"/>
<circle cx="361.50" cy="640.30" r="1.75" fill="#bf1329"/>
<line x1="362.20" y1="644.20" x2="362.20" y2="646.60" stroke="#231f20" stroke-width="0.8"/>
<text x="0" y="0" font-size="6.2" text-anchor="end" fill="#231f20" transform="translate(364.50,652.80) rotate(-45)">−2.30</text>
<line x1="375.00" y1="644.20" x2="375.00" y2="646.60" stroke="#231f20" stroke-width="0.8"/>
<text x="0" y="0" font-size="6.2" text-anchor="end" fill="#231f20" transform="translate(377.30,652.80) rotate(-45)">−2.25</text>
<line x1="387.70" y1="644.20" x2="387.70" y2="646.60" stroke="#231f20" stroke-width="0.8"/>
<text x="0" y="0" font-size="6.2" text-anchor="end" fill="#231f20" transform="translate(390.00,652.80) rotate(-45)">−2.20</text>
<line x1="400.40" y1="644.20" x2="400.40" y2="646.60" stroke="#231f20" stroke-width="0.8"/>
<text x="0" y="0" font-size="6.2" text-anchor="end" fill="#231f20" transform="translate(402.70,652.80) rotate(-45)">−2.15</text>
<line x1="412.90" y1="644.20" x2="412.90" y2="646.60" stroke="#231f20" stroke-width="0.8"/>
<text x="0" y="0" font-size="6.2" text-anchor="end" fill="#231f20" transform="translate(415.20,652.80) rotate(-45)">−2.10</text>
<line x1="434.30" y1="644.20" x2="434.30" y2="646.60" stroke="#231f20" stroke-width="0.8"/>
<text x="0" y="0" font-size="6.2" text-anchor="end" fill="#231f20" transform="translate(436.60,652.80) rotate(-45)">1.8</text>
<line x1="453.60" y1="644.20" x2="453.60" y2="646.60" stroke="#231f20" stroke-width="0.8"/>
<text x="0" y="0" font-size="6.2" text-anchor="end" fill="#231f20" transform="translate(455.90,652.80) rotate(-45)">1.9</text>
<line x1="472.80" y1="644.20" x2="472.80" y2="646.60" stroke="#231f20" stroke-width="0.8"/>
<text x="0" y="0" font-size="6.2" text-anchor="end" fill="#231f20" transform="translate(475.10,652.80) rotate(-45)">2.0</text>
<text x="0" y="0" font-size="8.0" text-anchor="middle" fill="#231f20" stroke="#231f20" stroke-width="0.1" transform="translate(418.3,671.10) scale(0.70,1)">NES</text>
<text x="483.30" y="552.10" font-size="5.9" text-anchor="start" fill="#231f20" >GeneRatio</text>
<circle cx="485.80" cy="559.80" r="1.95" fill="#000"/>
<text x="490.40" y="561.90" font-size="6.0" text-anchor="start" fill="#333" >0.4</text>
<circle cx="485.80" cy="566.60" r="2.15" fill="#000"/>
<text x="490.40" y="568.70" font-size="6.0" text-anchor="start" fill="#333" >0.5</text>
<circle cx="485.80" cy="573.20" r="2.35" fill="#000"/>
<text x="490.40" y="575.30" font-size="6.0" text-anchor="start" fill="#333" >0.6</text>
<text x="483.30" y="587.00" font-size="6.3" text-anchor="start" fill="#231f20" >FDR</text>
<linearGradient id="g584" x1="0" y1="0" x2="0" y2="1"><stop offset="0" stop-color="#6d95d0"/><stop offset="0.25" stop-color="#9a8cc4"/><stop offset="0.5" stop-color="#d06a8a"/><stop offset="0.78" stop-color="#e8383c"/><stop offset="1" stop-color="#f21a16"/></linearGradient>
<rect x="483.30" y="593.70" width="6.4" height="29.80" fill="url(#g584)"/>
<text x="491.10" y="595.80" font-size="6.0" text-anchor="start" fill="#333" >0.100</text>
<text x="491.10" y="603.25" font-size="6.0" text-anchor="start" fill="#333" >0.075</text>
<text x="491.10" y="610.70" font-size="6.0" text-anchor="start" fill="#333" >0.050</text>
<text x="491.10" y="618.15" font-size="6.0" text-anchor="start" fill="#333" >0.025</text>
<text x="491.10" y="625.60" font-size="6.0" text-anchor="start" fill="#333" >0.000</text>
<rect x="0.5" y="0.5" width="519" height="679" fill="none" stroke="#5a5a5a" stroke-width="1"/>
</svg></body></html>
